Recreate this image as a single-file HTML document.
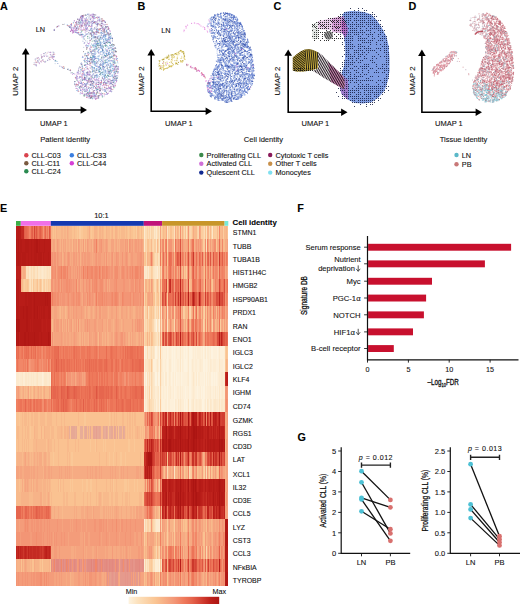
<!DOCTYPE html><html><head><meta charset="utf-8"><style>html,body{margin:0;padding:0;background:#fff;}svg{display:block;}text{font-family:"Liberation Sans", sans-serif;fill:#111;stroke:#111;stroke-width:0.1px;}</style></head><body>
<svg width="520" height="604" viewBox="0 0 520 604">
<rect width="520" height="604" fill="#fff"/>
<text x="0" y="9.7" font-size="10.8" font-weight="bold" style="fill:#000">A</text>
<text x="137.5" y="9.8" font-size="10.8" font-weight="bold" style="fill:#000">B</text>
<text x="273.6" y="10" font-size="10.8" font-weight="bold" style="fill:#000">C</text>
<text x="408.6" y="9.8" font-size="10.8" font-weight="bold" style="fill:#000">D</text>
<text x="0" y="212" font-size="10.8" font-weight="bold" style="fill:#000">E</text>
<text x="297.3" y="212.2" font-size="10.8" font-weight="bold" style="fill:#000">F</text>
<text x="297.6" y="440.5" font-size="10.8" font-weight="bold" style="fill:#000">G</text>
<path d="M85.3 26.1h0M84.5 83.6h0M102.8 50h0M89.9 78.5h0M92.7 70.5h0M109.8 37.7h0M88.6 88.4h0M103.3 57.6h0M89 22h0M76.8 21.9h0M100 90.9h0M114.1 80.7h0M86.6 60.5h0M96.7 41.3h0M90.6 57.6h0M85 75.5h0M114.5 62.4h0M111.8 52.3h0M81.1 22.6h0M84.4 78.7h0M74.6 83.9h0M110.4 47.1h0M86.5 17.8h0M82.4 20.9h0M110 63.6h0M103.4 33h0M106.1 56.6h0M79.5 77h0M109.7 57.1h0M91.5 25.2h0M113.4 54h0M102.5 49.4h0M102.7 29.1h0M113.8 66.7h0M105 90.6h0M91.9 28.6h0M94.4 16.6h0M100.6 44.2h0M91.1 28.4h0M80.5 22.2h0M108.1 58.3h0M86.3 25.4h0M74.7 30.9h0M95.8 31.8h0M93.5 81.9h0M93.9 22.6h0M108.1 73.3h0M105.2 21.9h0M90.8 30.1h0M108.2 73h0M105.8 91.6h0M101.5 80.3h0M107.5 83h0M100.8 83.8h0M92.9 50.1h0M116.1 69.8h0M110.7 53.5h0M83.8 84.6h0M99.4 66.4h0M98.7 71.9h0M89.6 21.9h0M104.7 34h0M81.9 78h0M112.9 58.2h0M81.9 16.4h0M82 23.8h0M81.1 25.5h0M104.3 30.1h0M99.5 74.3h0M82.4 71.7h0M94.6 36.3h0M89.4 38h0M96.2 85.7h0M86.7 87.6h0M98.2 56.1h0M93.8 92.6h0M98.6 43.4h0M93.8 60.9h0M75.4 26.6h0M94.2 32.7h0M104.1 35.6h0M79.8 88.5h0M104.6 35.1h0M100.2 52.2h0M90.4 57.3h0M103.9 82.7h0M89.6 30.5h0M84.1 89.5h0M85.3 53.6h0M90.7 29.5h0M101.4 34.8h0M110.6 38.7h0M97.9 20h0M91 29.6h0M91.2 61.8h0M96.6 32.7h0M87.7 14.4h0M106 42.6h0M114.8 71.4h0M99.4 19.7h0M113.3 64h0M84.3 79.1h0M114.6 63.5h0M90.4 88.1h0M84.6 79.9h0M89.1 87.8h0M77.3 72.1h0M94.2 33.1h0M84.9 89h0M89.4 61.2h0M103.2 69.5h0M89.5 25.5h0M87.9 33.9h0M103.5 41.1h0M88 74.6h0M99.5 71.6h0M104.3 54.8h0M81.9 87.3h0M101.8 35.4h0M110.5 38.5h0M100.9 32.4h0M92.2 76h0M93.8 93.4h0M91.5 34.5h0M108.1 38.9h0M94.6 21.5h0M97.8 43.6h0M95.7 23.3h0M103.2 32.9h0M83.7 90h0M106 85h0M109.9 48.2h0M99.4 90.3h0M116.3 56.9h0M100.4 45.6h0M113.2 76.1h0M96.1 49.4h0M105.7 27.8h0M100.3 25.1h0M91.3 61h0M94.2 49.7h0M90.9 30.2h0M88.2 22.1h0M104.3 29.3h0M109.2 52.7h0M84.2 43.2h0M82.9 34.7h0M114.3 72.7h0M106.4 34.6h0M101 64.2h0M77.9 33h0M115.5 47.8h0M90.9 28.3h0M98.9 86.5h0M82.1 17.9h0M88.7 21.2h0M105.8 90.1h0M105.4 40h0M104.8 77.8h0M115.8 51.3h0M92.5 30.2h0M111.1 76h0M104.1 28.2h0M86.6 76.8h0M91 81.4h0M114.3 61.6h0M105.1 35.3h0M92.6 23.3h0M81.6 83.5h0M100.3 61.7h0M87.2 95.1h0M111.8 71h0M96.6 30.9h0M118.1 71.7h0M118.2 67h0M81.9 25.3h0M98.3 82.3h0M97.6 61.5h0M80.3 71h0M114.1 74.1h0M101.9 21h0M94.1 55.3h0M94.1 56.6h0M107.9 69.7h0M74.7 81.8h0M90.1 40.2h0M88.9 64.5h0M106.8 41.9h0M111.4 91.7h0M81.2 87.1h0M92.1 31.5h0M94.7 97.9h0M112.5 44h0M96.2 66.4h0M86 15.3h0M87.5 57.2h0M105.4 70h0M97.8 31.9h0M108.6 35h0M81.6 20.4h0M92.1 62.8h0M104.4 76h0M85.4 64.7h0M87.8 24h0M76.8 32.3h0M98.2 38.9h0M116.8 80.3h0M77.8 26.5h0M84.3 36.2h0M115.4 80.3h0M106.7 40.5h0M82.2 66.7h0M87.8 55.6h0M96.5 75.9h0M92.9 67.9h0M103 72.2h0M82.9 34.8h0M83.3 87.8h0M88.1 92.7h0M115.8 67.8h0M97 31h0M107.7 51.3h0M109.7 39.2h0M104.5 43.1h0M93.4 16.3h0M79.8 23.2h0M97.8 51.7h0M110.4 43.4h0M75.2 26h0M107.9 75.6h0M110.7 76.3h0M84.8 23.8h0M101.2 80.5h0M98.6 98.2h0M88.8 78.7h0M102.9 60h0M90.7 19.1h0M108.1 73.4h0M92.4 16.7h0M111.2 72.6h0M108.4 48.4h0M97.5 23.3h0M112.4 40.9h0M89.2 87.5h0M109.2 58.8h0M118.2 69.1h0M85.2 35.7h0M116.3 75.9h0M98.3 84.4h0M101.4 21.3h0M79.7 19.6h0M102.3 45.1h0M106.6 53.9h0M96.4 90.6h0M114.5 76.7h0M89.8 79.7h0M105.6 62.6h0M109.9 66.6h0M99.8 71.3h0M88.1 94h0M102.5 33.3h0M106.3 31.2h0M107.2 59.6h0M115.6 51.7h0M116.4 59.3h0M98.6 17.4h0M80.6 17.2h0M98.8 23.3h0M74.9 81.6h0M96.2 43.9h0M111.4 44.9h0M81.6 19.3h0M101.1 82.8h0M116.2 66.5h0M97.7 28.8h0M103.9 66.7h0M95 28.9h0M84.6 86.7h0M104.3 55.6h0M105.8 36.2h0M87 72.4h0M101.1 46.7h0M79 68h0M89.6 74.3h0M73.6 22.8h0M80.9 34.3h0M102.6 50.1h0M108.8 33.2h0M92.8 31.8h0M97.9 32h0M92.2 21.5h0M95.9 53h0M93.1 74.1h0M91.2 33.2h0M94.9 69.1h0M99.8 45.5h0M102.2 27.6h0M113.3 61.9h0M94.3 67.7h0M81.6 82.4h0M91.2 96.9h0M83.3 36.8h0M85.6 21h0M86.1 28.4h0M101.5 48.6h0M112.5 38.5h0M90.2 97.8h0M81.2 16.5h0M110.6 90.6h0M101.4 93.1h0M107.1 55.4h0M84.7 77.6h0M97.4 48.1h0M102.2 88h0M90 74.2h0M116.6 80.3h0M90.1 98.4h0M104.3 30.3h0M100.7 42.4h0M86.9 95.8h0M96.3 24.4h0M88.1 24.8h0M110.9 83.1h0M97.6 24.4h0M102.2 95.1h0M102.3 96h0M86 22h0M96.6 58.3h0M94.4 59.6h0M115.6 72h0M116.8 78.4h0M99.2 76.7h0M95.5 46.6h0M107.3 46h0M106.9 88.6h0M96.5 63.2h0M100.7 63.6h0M97.8 79.9h0M81.9 15.8h0M82.7 17.2h0M84.4 94.1h0M99.2 19.9h0M87.4 27.5h0M92.7 21.7h0M100.4 68.7h0M91.7 38.3h0M106.7 30.1h0M94.2 86.3h0M71.5 24.7h0M112.8 80.7h0M76.5 27.9h0M70.4 26.9h0M86.3 72.8h0M95.6 17.8h0M93.5 91.1h0M87.4 71.9h0M113.1 84.9h0M92.6 62.6h0M93.7 53.8h0M95.6 41.7h0M106.3 40.4h0M96.7 75.9h0M94.6 77.2h0M90 93.9h0M101.2 33.5h0M78.8 34.2h0M89.4 74.4h0M98.5 67.1h0M104.4 81.7h0M107.3 32.4h0M99.2 95.4h0M80.8 21.7h0M96.3 83.4h0M86.6 29.1h0M85 20.4h0M113.1 63.8h0M102.7 50.6h0M92 93.4h0M102.1 54.8h0M93 62.7h0M104.3 30h0M92.6 71.4h0M109.7 56.6h0M105.8 70.7h0M108.8 65.3h0M103.1 56.7h0M55.2 60.5h0M68.2 69.1h0M59.8 66.1h0M73.6 73.5h0M57.8 63.5h0M62.5 67.7h0M68.8 26.3h0M69.6 26.8h0M54.3 30.1h0M68.9 26.1h0" stroke="#5070b8" stroke-width="1.2" stroke-linecap="round" stroke-opacity="0.62" fill="none"/>
<path d="M95.7 44.7h0M106.9 62.6h0M103.5 64.5h0M98.3 35.8h0M107.3 59.1h0M95.5 58.3h0M103.4 52.2h0M110.3 74.2h0M101.7 75h0M100.2 67.2h0M102.4 72.9h0M101.6 39.1h0M104 39.7h0M106.7 38.6h0M102 45.8h0M99.7 35.8h0M104.2 51.7h0M98.7 66.7h0M98.8 60.6h0M97 43.4h0M106 53.3h0M104.3 36.1h0M102.8 68.5h0M104.4 67.5h0M104.8 37.4h0M103.4 59h0M99.3 72.1h0M100.1 42.4h0M108 61.7h0M110.8 67.4h0M110.6 42h0M110.3 58.6h0M96.3 66h0M93.5 37.7h0M94.8 72.3h0M107.2 41h0M98 43.2h0M96 36.5h0M101.7 62.1h0M94 38.8h0M94.7 51.6h0M93.7 56.3h0M93 69h0M101.8 45.2h0M94.6 63.9h0M109.6 71.8h0M100.6 43.4h0M105.1 60.7h0M102.7 42.3h0M92.8 69.7h0M100.6 42.8h0M112.3 75.1h0M95 52.2h0M104.4 45.3h0M98.5 52.4h0M105.4 71.7h0M100.9 37.4h0M111.2 70.8h0M105 63.6h0M102.9 74.3h0M104.8 67.5h0M98.1 68.1h0M111.2 61.1h0M98.8 58h0M101.3 59.6h0M92 76.3h0M101.5 57.6h0M105.8 59.5h0M92.8 57.3h0M95 40.8h0M92.8 74.6h0M112.1 60.4h0M110.1 57.9h0M112.6 70.6h0M98.4 50.5h0M108.5 71.6h0M100.8 54.3h0M112.7 65h0M100.4 59.1h0M92.5 55.7h0M109.4 54h0M104.9 43.2h0M104.4 37h0M112.2 75h0M103.5 36.7h0M97.6 40.9h0M108.2 52.6h0M102.9 71.5h0M110.2 62.1h0M106.4 77.5h0M97.5 69.1h0M110.2 54.2h0M100.2 67.7h0M101.6 69.9h0M102.3 37.9h0M94.1 75.3h0M101.3 47.9h0M108.1 54.2h0M98 56.6h0M97.2 41.3h0M107.7 63.8h0M93.5 47.2h0M98.2 63.2h0M104 58.8h0M98 51.7h0M96.2 46.6h0M108.3 61.6h0M107 53.7h0M93.6 55.5h0M99.5 43.3h0M109.3 42.5h0M102.5 61.6h0M105.5 72.6h0M92.2 37.8h0M105.3 71h0M99.3 49.7h0M112.7 56.4h0M94 61.6h0M108.7 35.9h0M92.9 35.4h0M99.2 66.1h0M111.4 71.8h0M103.8 64.7h0M104.3 52.9h0M106.5 50.7h0M96.8 75.2h0M111.8 45.3h0M99.6 66.6h0M98.7 60.9h0M94.6 75.9h0M96.2 74.9h0M92.8 77.8h0M97.5 76.6h0M108.1 63.3h0M92.9 36.3h0M112.1 75.3h0M98 63.2h0M109 49h0M94.7 77.4h0M105.1 70.7h0M100.1 59.3h0M102.6 48.1h0M104.5 63.4h0M95.1 42.1h0M109.5 50.8h0M100.4 75.1h0M95.9 62.2h0M110.6 36.4h0M105.3 48.7h0M92.9 61.7h0M93.9 57.6h0M105.7 39.1h0M108.2 61.4h0M93.8 47.5h0M103.1 53.7h0M105.4 50.1h0M96.4 66.3h0M110.4 66.5h0M96.2 72.1h0M102.3 64.3h0M112.7 77.9h0M100.8 41.5h0M104.9 74.6h0M97.9 36.5h0M100.1 35.4h0M101.2 72.3h0M111.4 35.8h0M110.4 69.6h0M103.9 70.6h0M94.9 64.9h0M102.5 46.3h0M111.9 70.7h0" stroke="#8ab0e0" stroke-width="1.2" stroke-linecap="round" stroke-opacity="0.62" fill="none"/>
<path d="M90.2 84.5h0M87 89.5h0M82.4 84.7h0M109 83.8h0M89.1 94.9h0M90.7 88.4h0M114.2 83.9h0M76.7 75.7h0M80.8 90.7h0M101 89.5h0M84.7 83.9h0M109.7 84.1h0M109.3 79.3h0M105.4 80.3h0M93.6 95.8h0M94.6 90.5h0M90.9 79.9h0M92.1 89.6h0M84.2 73.9h0M105.8 94.3h0M87.2 93.3h0M110 91.4h0M104.9 89.6h0M91.9 79h0M97.6 92.5h0M104.4 87h0M79.2 77.9h0M78.5 85h0M114.2 83.5h0M99.5 82.8h0M93.2 81.6h0M91.2 85.4h0M110.4 80.2h0M79.1 73.7h0M91.2 96.9h0M78.7 71.7h0M78.3 90h0M91.3 85.5h0M112.3 82.3h0M95.3 95.8h0M99 87.8h0M87.1 80.5h0M76.8 76.7h0M104.6 89.3h0M80.9 81.5h0M110.8 80.8h0M110.3 83.8h0M108.8 87.1h0M110.8 88.6h0M114 78h0M100.1 86.2h0M88.3 96.4h0M110.6 83h0M82.2 74.9h0M88.2 69.5h0M92.4 94h0M78.3 72.9h0M89.5 96.2h0M84.7 70.3h0M95.4 80.1h0M106.3 79.7h0M83.5 79.4h0M109.7 87.7h0M107.8 80.7h0M87.2 95.9h0M109.7 81.3h0M88.1 74.4h0M94.5 93.7h0M82.8 85.5h0M85.9 79.3h0M77.3 72.7h0M98.7 97.5h0M86.3 93.7h0M96.6 78.9h0M94.1 92.9h0M96.1 98.7h0M105.1 87.8h0M78.1 84.6h0M92.2 81h0M87.6 81.2h0M87.5 89.2h0M91 79h0M82 83.5h0M91.3 81.6h0M105.3 82.3h0M76.4 84h0M115.5 83.1h0M92.3 83.5h0M86.5 89.1h0M86.4 80.7h0M100 87.5h0M109.9 82.6h0M93.7 78.5h0M108.6 87.7h0M86.9 89.9h0M111.3 83.6h0M82.7 76.8h0M95.7 95.8h0M111.7 89.3h0M108.2 81.5h0M98.1 81h0M98.6 84.7h0M93.3 97.8h0M85.5 84.8h0M96.1 94h0M82.5 79.8h0M93.3 88.2h0M94.3 82.1h0M95.9 88.6h0M96.2 95.9h0M77.3 78.1h0M89.3 75.4h0M108 80.2h0M114.3 78.3h0M112.5 82.5h0M106.1 83.3h0M96.1 82.1h0M79.8 86.6h0M101.2 80.2h0M93.9 86h0M77.6 88.9h0M85.2 78.8h0M80.7 72.9h0M83.3 71.4h0M104.7 78.2h0M111.4 88.9h0M78.6 69h0M96.6 79.9h0M103.2 78.9h0M79 78.2h0M78.9 83.4h0M113 80.2h0M91.7 92.5h0M103.4 78.8h0M77.4 79h0M84.4 65.4h0M96 79.9h0M109.6 88.1h0M82.9 79.8h0M107.8 93.6h0M93.4 85.2h0M103.4 82.9h0" stroke="#9a70c8" stroke-width="1.2" stroke-linecap="round" stroke-opacity="0.62" fill="none"/>
<path d="M100.2 95h0M107.7 88.7h0M116.1 58.7h0M91.2 66h0M91 14.7h0M90.3 19.4h0M110.7 88.3h0M87.1 22.2h0M91.5 78.1h0M97.4 89.8h0M80.8 92.6h0M87.3 90.6h0M82 77.7h0M92.7 95.8h0M81.5 18.7h0M82.4 20.4h0M75.3 29.5h0M76.3 30.7h0M108.1 93.5h0M94.1 92.6h0M112.2 80.7h0M83.3 74.9h0M82.3 91h0M94.9 21.8h0M86.8 86.6h0M108.3 27.6h0M101.5 81.5h0M93.3 18.3h0M87.2 68.8h0M109.3 88h0M87.2 61.9h0M80.3 18h0M76.5 88.3h0M93.6 14.4h0M87.6 64.5h0M116.2 55.9h0M103.7 30h0M94.8 95.9h0M90.1 67.8h0M114.8 66.8h0M90.7 95.3h0M84.3 25.6h0M95.5 99.3h0M84.9 90.8h0M77.1 74.1h0M100.7 28.6h0M81.2 16.7h0M110.7 87h0M83.3 70.3h0M110 91.2h0M88.4 43.7h0M82.8 56.3h0M86.2 24.9h0M85.4 77.8h0M90.2 59.6h0M70.8 24.7h0M82.5 78h0M94 22.8h0M82.4 19.1h0M90 97.2h0M114 54h0M81.1 28h0M90.2 81.6h0M87.4 74.7h0M101.2 83.2h0M74.4 20.7h0M109.5 88.4h0M87.8 53.2h0M96.7 17.5h0M115.7 55.3h0M82.4 15.8h0M90 65.4h0M91.7 83h0M97.6 84.5h0M84.6 94.6h0M86.6 29.1h0M86 18.8h0M80.4 67.5h0M83.3 29.9h0M75.7 22.5h0M104.3 94.8h0M92.2 16.8h0M89.1 71.2h0M111.1 86.4h0M80.7 89.7h0M104.3 21.2h0M87.1 23.4h0M76.3 29.6h0M76.7 24.9h0M78.9 19.7h0M116.5 81h0M97.1 25h0M81.2 35.4h0M116.5 81.7h0M99.3 20.8h0M85.5 86.4h0M89.1 82.4h0M108.4 28.9h0M82.1 36.9h0M73.6 29.8h0M86.1 94.7h0M99.3 81h0M97.6 91.5h0M85.9 27.3h0M82.5 89.2h0M104.5 82.3h0M86 45.4h0M94.8 34.6h0M113.4 86.4h0M87.5 23h0M82.9 68h0M78.7 21.8h0M88.5 26h0M89.6 93.5h0M113.2 48.3h0M87.5 28.6h0M76.1 84h0M93.7 32.9h0M118.4 69.1h0M115.5 85.1h0M107.4 93.9h0M97.9 23.6h0M85.5 85.2h0M97.2 87.6h0M114.7 70.1h0M80.7 85.9h0M112 80.7h0M76.7 21.4h0M82.7 89.5h0M98.6 80.1h0M114.6 69.1h0M90.3 49.5h0M115.2 66.4h0M85.5 65.5h0M99.8 90.9h0M88.9 80h0M95.3 84.1h0M74.8 28.1h0M108.5 81.9h0M76.5 78.9h0M86.3 26.4h0M86 74.8h0M114 85.5h0M86 91.6h0M82 84h0M90.6 15.4h0M87 66.7h0M100.4 93.7h0M94.4 18.2h0M96.9 96.9h0M71.8 27.3h0M114.7 75.6h0M81.2 24.9h0M91.5 22.1h0M117.9 68.3h0M82 15.8h0M104 28.1h0M106.6 85.7h0M116.4 79h0M95.3 88.1h0M87.3 93.2h0M82.9 23.6h0M110.2 31.2h0M85.4 20h0M109.9 79.1h0M76 78.2h0M115 78.9h0M79.5 26.3h0M84.8 86.5h0M85.2 32.1h0M115.2 67.6h0M108.6 82h0M75.7 77.8h0M96 98.8h0M84.3 18.8h0M94.3 79.1h0M71.8 28.7h0M106.4 83.3h0M91.7 95.7h0M93.8 22.2h0M81.9 29.6h0M94.9 80h0M87 80.4h0M101.4 26.4h0M97.5 20.9h0M100 20.3h0M82.7 93.6h0M88.1 43.5h0M105.1 85h0M75.9 86.1h0M89.3 71.8h0M93.3 17.6h0M91.4 26.8h0M76.1 28.2h0M77.4 76.6h0M86.7 97.3h0M99.2 87.5h0M89.9 74.3h0M94.2 17.9h0M98.8 78.3h0M82 75.1h0M95.6 98h0M83.6 27.9h0M87 83.7h0M84.3 79h0M102.7 85.7h0M90.3 84.2h0M88 73.6h0M103.1 24.7h0M90.8 26.5h0M80.6 83.3h0M94.3 96.6h0M95.1 34.2h0M87.5 64h0M79.9 76.4h0M90.7 93.2h0M78.5 82.2h0M103.9 84.9h0M90.2 85.1h0M77.9 81h0M83.9 22.2h0M98.1 32.2h0M98.4 84.6h0M104.9 29.6h0M83.4 72.9h0M113.4 82.5h0M77.7 32.7h0M83.4 16.6h0M81.7 93.5h0M99.1 16.9h0M93 15.3h0M90.6 92.5h0M87.1 72.8h0M117.8 73.2h0M101.3 94.6h0M53.6 59.4h0M74.8 74h0M72.6 74.2h0M58.8 25.8h0" stroke="#b050c0" stroke-width="1.2" stroke-linecap="round" stroke-opacity="0.62" fill="none"/>
<path d="M111.6 38.1h0M100.8 45.3h0M105.2 38h0M96.4 89.4h0M78.1 33.1h0M112.3 66.2h0M103.6 35.7h0M80.4 83.2h0M94.8 43.8h0M81.2 63.8h0M113.8 49.4h0M105.8 35.2h0M107.1 66.4h0M105.9 39.4h0M94.8 53.2h0M98.3 44.3h0M110.4 37.8h0M82.4 57.2h0M94.1 67.5h0M82.7 34.6h0M88.6 93.2h0M100.6 73.5h0M95.1 63.5h0M92.6 45.3h0M97.2 45.3h0M108.4 60.5h0M84.7 62h0M113.7 49.7h0M112.7 52.9h0M96.5 68.5h0M99.9 45.1h0M94.8 46.2h0M94.1 45.7h0M94.2 40.7h0M100.3 47.2h0M98.2 70.4h0M98.3 30.7h0M94.3 68.5h0M85.9 77.9h0M92.5 85.7h0M87.2 83.7h0M111 83.3h0M100.4 37.9h0M106.6 30.8h0M101.1 43.2h0M110.8 70.3h0M112.6 80h0M95 48.6h0M103 47h0M103.7 43.5h0M108.8 47h0M110.2 67.8h0M112.7 61.1h0M93.9 59.7h0M92.7 58.5h0M84.7 76.1h0M109 37.6h0M99.2 71.6h0M111.9 55.1h0M116.4 71h0M86.7 91.1h0M104.2 69h0M80.2 93.8h0M109.8 54.4h0M105.1 38.5h0M109 42.6h0M99.3 55.9h0M88.1 78h0M97.7 58.3h0M112.1 75.1h0M93.6 56.4h0M86 33.9h0M101.3 30.5h0M81.3 32.2h0M111.1 56.3h0M94.5 56.7h0M110.7 63.7h0M89.2 91.6h0M105.4 74.7h0M77.4 30.2h0M111.3 65.6h0M104.1 71h0M117.5 61.8h0M92 97h0M95.4 61.9h0M84.1 74.2h0M77.2 86.1h0M100.5 67.9h0M93 44.8h0M112.4 68.4h0M105 41.5h0M107.6 34.1h0M80.4 34.9h0M101 38.9h0M97.8 89.4h0M112.8 76.3h0M100.8 84.6h0M87.4 58.1h0M102.3 77.1h0M111.8 64.7h0M108.1 64.6h0M95.7 56.9h0M112.2 56.5h0M90.8 84.4h0M114 72.3h0M110.9 66.6h0M104.2 72.8h0M82.2 79.7h0M97.2 43.7h0M102.7 48.8h0M95 70.9h0M104 73.9h0M109.9 36.7h0M87.1 73.5h0M104.9 75.3h0M108.9 52.4h0M114.2 81.8h0M101.3 72.9h0M99.8 64.5h0M111.1 50.3h0M103.5 39.4h0M103.2 36.7h0M86.2 85h0M98.2 70.2h0M87.3 68.5h0M110.5 33.4h0M80.3 77.4h0M115.8 77.1h0M97 74.6h0M89.5 89.9h0M109 69.6h0M102.7 74.4h0M95.7 75.8h0M103.3 66.2h0M112.5 53h0M92.3 66.6h0M116.4 65.3h0M104.6 76.5h0M109.3 42.4h0M92.4 98.7h0M87.4 45.5h0M81.8 69.8h0M85.9 84h0M105.9 71.6h0M106 82.4h0M104.6 77.8h0M99.8 39.3h0M104.2 67.5h0M99.6 40.4h0M113.8 81.5h0M82.3 65.9h0M93.4 36.9h0M109 72h0M96.6 48.1h0M96.3 40.2h0M89.8 91.1h0M109.9 34h0M103.2 50.3h0M103.6 63.1h0M85 91.6h0M97.2 30.1h0M109.6 54.8h0M91.6 44h0M106.5 76.5h0M114.7 86.8h0M88.6 45.9h0M102.5 65.9h0M101 65.1h0M106.4 51.2h0M93.6 45.2h0M102 51.7h0M84.8 60.7h0M109.2 76.4h0M92.6 56.9h0M104.9 43.6h0M107.1 62.3h0M107.8 39.6h0M93.4 34.7h0M103.5 63.9h0M101.3 72.5h0M80.4 86.4h0M89.6 95.6h0M93.6 94h0M112.3 48.5h0M109.6 45.4h0M106.3 53.6h0M98.4 60h0M101.5 32.5h0M100.1 37.2h0M101.5 47h0M95.7 64.8h0M106.2 73.2h0M96.2 94.4h0M107.4 77.8h0M84.2 60.2h0M104 76h0M112.4 49.4h0M94.5 57.4h0M87.2 46.9h0M108.5 53.7h0M86.2 62.6h0M100 68.2h0M98.2 36.9h0M117.4 58.5h0M103.7 52.9h0M109.8 60.6h0M102.9 37.5h0M108.7 39.5h0M109 72.9h0M113.6 77.7h0M93.3 82.1h0M104.5 55.4h0M103.6 43.2h0M96.8 86.4h0M98.4 50.2h0M106.4 64.8h0M84.9 54.2h0M103.8 41.1h0M88.6 58.4h0M102.4 67.6h0M103.9 89.8h0M82.2 34.2h0M105.6 55.7h0M79.2 87.4h0M112.9 69.8h0M98.4 58.9h0M106.7 31.8h0M92.5 59.1h0M86.5 56.3h0M106 45.4h0M86.9 83.4h0M93 53.6h0M90.2 93.1h0M99.4 67h0M92.3 67.5h0M102.8 63.7h0M114.8 61h0M110.4 65.1h0M113.8 79.5h0M104.5 32.8h0M93.5 60.2h0M83 57.5h0M101.2 69.7h0M95.2 54.4h0M95 37.4h0M94.4 95.7h0M112.4 38.5h0M88.6 61.2h0M97.9 43.1h0M93.4 87.2h0M83.9 72.1h0M106.2 82.8h0M112 47h0M96.9 77.4h0M85.3 79.4h0M80.8 90.4h0M105.5 36.3h0M84.3 74.6h0M93.9 57h0M94.4 62.6h0M105.7 61.8h0M92.6 72h0M95.6 37.1h0M101.5 60.5h0M99.3 69.5h0M106.5 62.3h0M107.1 68.4h0M95.2 58.5h0M95.3 45.8h0M95.1 65.5h0M116.6 71.2h0M77.9 90.8h0M97.1 30.2h0M108.2 42.1h0M76.3 77.7h0M114.2 50.6h0M95.4 58.7h0M113.8 45h0M106.7 94.1h0M80.7 69.3h0M91.3 52.4h0M75.7 32.5h0M117.1 78.3h0M113.1 46.4h0M100.9 51.7h0M97.9 75.6h0M88.7 52.6h0M108.7 75.4h0M104.8 55.7h0M106.5 54.8h0M104.8 91.5h0M90.8 57.3h0M103.3 76h0M94.1 94.3h0M106.2 60.2h0M92.9 57.4h0M92.1 58.8h0M97.1 77.5h0M103.3 62.2h0M102.4 50.7h0M92.4 51.2h0M76.8 90.5h0M110 57h0M117.9 72.1h0M113.4 68.9h0M85.8 67.4h0M95.2 54.6h0M87.6 59.8h0M96.2 45h0M102.6 65.1h0M96.4 69.7h0M109.6 71.7h0M83.3 38.8h0M117.3 58.6h0M106.1 45.1h0M109.4 61h0M106.9 47h0M104.1 79.7h0M98 49h0M93.1 64h0M100.9 38.9h0M64.4 68.3h0M55.1 61.1h0M54 56.4h0M57 61.5h0M67.3 24.9h0" stroke="#4a90d0" stroke-width="1.2" stroke-linecap="round" stroke-opacity="0.62" fill="none"/>
<path d="M91.7 39h0M94.3 61.6h0M99.9 71.3h0M105.3 83.5h0M97.9 89.4h0M107.8 74.9h0M91.8 66.8h0M107.5 43h0M99.3 70h0M100.3 74.4h0M98.9 39.8h0M85 91.1h0M109.2 42.1h0M91.3 57.7h0M88 52.2h0M85.3 86h0M86.7 75.5h0M103.1 46h0M97.8 93h0M111.7 57.5h0M77 80.3h0M105.4 46.3h0M112.1 49.4h0M115.7 62.9h0M103.3 47h0M92.9 55.9h0M102.4 96.9h0M87.6 92.6h0M110.5 70.9h0M105 60.7h0M87.8 38.2h0M87.5 36.4h0M82.6 80.2h0M90.6 57h0M113.1 51.1h0M94.9 49.9h0M110.6 33.9h0M99.7 41.8h0M97.2 92h0M93 46.1h0M100.8 88.5h0M102.2 72.6h0M107.4 75.7h0M88.9 95.8h0M114.6 54.9h0M92.2 41.1h0M110.5 33.9h0M109.1 70.6h0M90.1 34.7h0M101.7 57.2h0M92.8 60.9h0M84.5 65.2h0M96.9 44.3h0M87.4 63.4h0M92.8 77.5h0M79.3 87.1h0M110.1 57.7h0M100.8 68.2h0M92 53.7h0M82.3 68.1h0M108.3 79h0M113.8 60.2h0M109.2 42.6h0M86.1 94.1h0M111.6 80.6h0M81.8 31.2h0M105.7 55.7h0M93.7 71h0M113.7 82.5h0M116.4 71.7h0M113.8 87.7h0M105.4 45.2h0M114.9 78.3h0M104.3 31.7h0M90.4 51.3h0M113.2 62.5h0M91.9 97.8h0M106.2 45.5h0M105.8 77h0M83.7 95.1h0M104.9 62.3h0M84.8 95.7h0M98.7 45.7h0M96.9 44.6h0M96.2 48.5h0M96.5 46.9h0M97.2 42.6h0M115.9 51h0M116.1 78.9h0M88.4 81h0M111.8 44.8h0M91.7 30.8h0M90.3 85.1h0M55.7 60.3h0M72.1 72.6h0M57.4 26.3h0" stroke="#3a9070" stroke-width="1.2" stroke-linecap="round" stroke-opacity="0.62" fill="none"/>
<path d="M81.4 62.7h0M77.7 23.2h0M86.5 44.6h0M75.6 26.2h0M96.9 34.6h0M94.6 18.7h0M80.8 63.7h0M81.8 19.5h0M77.6 27.1h0M115.6 75.5h0M91.9 60.7h0M90 72.1h0M85.5 40.7h0M108 32.3h0M93.4 33.4h0M118 63h0M89.3 33.6h0M115.8 77.6h0M100.2 21.6h0M83.9 60.5h0M90.8 49.6h0M114.3 69.8h0M97.3 16.5h0M90.9 71.6h0M86.4 20.4h0M97.5 25h0M78.4 22h0M89.3 24.9h0M107.3 26.8h0M74.3 27.8h0M81.6 16.9h0M104.7 32.2h0M89.2 18.8h0M115.1 72.9h0M87.5 60.7h0M86.5 24.8h0M98.9 20h0M97.4 26.6h0M81.7 22h0M91.5 54.4h0M82.9 41.1h0M91 55.5h0M75.2 32.2h0M90 17.5h0M90.7 68.3h0M79.6 21.8h0M93.4 14.5h0M85.4 24.9h0M97.7 17.1h0M81.3 19.1h0M71.6 28.2h0M88 13.9h0M82.3 26.4h0M94.5 22.2h0M83.7 47.4h0M90.9 72.4h0M95.2 33.8h0M118.1 66.8h0M98.2 29.6h0M72.9 27.3h0M106.5 34.2h0M118 76h0M80.6 19.2h0M94.8 28.3h0M78.4 23.1h0M90.7 29.8h0M88.3 21.1h0M118 72.5h0M90.4 62.5h0M113.9 66.1h0M113.1 50h0M87.9 16.4h0M117.1 76h0M114.8 60.8h0M103.3 26.4h0M85.6 22.4h0M90.3 45.5h0M90.8 45.9h0M102.5 23.6h0M84.4 21.6h0M87.9 23.8h0M99.3 21.6h0M114.8 51h0M71.4 24.9h0M79.7 22.3h0M87.4 33.8h0M83.7 37.3h0M85 25.5h0M107.6 26.3h0M99.7 29.2h0M86.5 64.7h0M104.4 24.5h0M86.5 18.9h0M89.9 22.7h0M88.8 36.3h0M87.1 41.1h0M113.6 52.6h0M88 19h0M73.3 22.3h0M102.9 26.9h0M114 69.6h0M70.6 24.3h0M96.5 30.4h0M74.2 21.1h0M94.5 28.2h0M89.9 37.5h0M100 19.4h0M85 58.6h0M90.1 40.4h0M99.9 18.4h0M85.5 15.2h0M78.6 28.1h0M77.2 25.2h0M90 15.1h0M78.9 28.2h0M80.1 23.6h0M98.7 32.3h0M101 24.5h0M93.4 21h0M113.4 58.4h0M87.4 42.7h0M83 41.5h0M94.1 33.6h0M85.1 18.3h0M85.8 53.4h0M89.6 23h0M91 30.4h0M89.5 53.7h0M80.7 26.7h0M86.7 47.3h0M87.5 60.1h0M91.6 67h0M99.7 18.1h0M88.5 15.1h0M100.3 33.2h0M115.7 52.2h0M86 45.6h0M88.8 17.7h0M68.7 69.8h0M55.1 63.6h0M55.6 61.2h0M76.2 76.2h0M70.7 28.4h0M64.5 24.2h0M62.9 24.4h0M58.7 26.2h0" stroke="#a8b8d8" stroke-width="1.2" stroke-linecap="round" stroke-opacity="0.62" fill="none"/>
<path d="M93.2 20.5h0M80.2 32.7h0M82.4 16.5h0M92 26.7h0M96.3 34.2h0M88.1 54.1h0M95.1 56.7h0M91.5 39.2h0M114.9 74.7h0M96.4 75.3h0M86.2 21h0M89.7 58.4h0M102 23.6h0M111.9 51.9h0M101.4 30.7h0M73.9 27.2h0M93.1 17.7h0M106.5 26.8h0M71.1 26h0M90.9 75.7h0M103.4 67.9h0M92 59h0M85.4 58.2h0M92.1 25.4h0M106.2 49.5h0M104.6 57.4h0M89 14.2h0M97 32.6h0M107.8 70.9h0M108.1 26.6h0M107.7 49.9h0M102.2 31.3h0M79.3 18.8h0M95.8 14.9h0M95.2 47.3h0M76.7 23.8h0M91 18.5h0M105.7 26.5h0M102.6 66.3h0M94.8 76.9h0M95.2 21.7h0M113 49.5h0M87 29.2h0M97 23h0M86.6 34.3h0M81 16.1h0M73.6 28.4h0M101.9 22.5h0M80.5 24h0M103.7 34.6h0M103.5 47.1h0M83.2 20.9h0M117 68.2h0M98.8 52.9h0M87.1 30.9h0M85.4 29h0M111.8 60.7h0M104.8 21.9h0M108.7 29.1h0M71.6 25.7h0M91.6 51.6h0M77.7 18.8h0M104 32h0M101.7 65.1h0M96.7 28.8h0M96.1 32.4h0M95.4 58.4h0M86.1 46h0M98.5 53.1h0M102.8 61h0M89.5 61.9h0M108.5 38.3h0M102.5 38.6h0M95.2 38.2h0M115.8 69.8h0M77.4 27.8h0M89.2 30.7h0M89.6 48.3h0M76.3 30.2h0M108.3 54.5h0M102.4 77.5h0M108.1 34.9h0M110.5 42.4h0M103 61.3h0M90.9 22.5h0M107.6 40.3h0M92.5 61.4h0M105.9 42.6h0M97.6 36.8h0M97.3 31.9h0M114 64.9h0M96.2 43.6h0M99.4 69.1h0M115.7 51.3h0M95.5 22.2h0M104.9 25.1h0M87.4 58.3h0M108.5 37.7h0M80.4 29.9h0M99.1 69.4h0M91.8 32.7h0M80.9 27.6h0M100.1 53.9h0M105.5 44.2h0M75.7 32.3h0M71.2 24.9h0M103.6 35.8h0M94.3 58.1h0M77.7 28.1h0M85.2 28h0M86.1 34.6h0M92.4 21.1h0M89.2 43.7h0M114.6 47.8h0M95.9 36.9h0M76.6 32.8h0M90.7 46.9h0M108 57.6h0M83 22.9h0M104.8 31.6h0M105.8 24.4h0M92.2 53.6h0M108 34.7h0M90.2 33.6h0M85.7 20.8h0M81.4 26.5h0M94.5 27.6h0M95.2 71h0M87.8 23.4h0M110.8 60.5h0M75.3 26.9h0M98.9 67.2h0M95.8 51.1h0M94.5 51.2h0M89.8 23.7h0M90.8 32.8h0M83.1 22.6h0M93.8 29.2h0M109.2 73.2h0M100.2 64.9h0M75.7 24.8h0M110.5 73.4h0M102.1 37h0M97.7 45.8h0M108.7 33.7h0M78.5 28.8h0M91.2 76.4h0M84.7 42.7h0M105.2 63h0M82.9 15.6h0M109.3 28.8h0M78.8 24.5h0M82.7 24.8h0M85.1 24.7h0M96.5 60.8h0M107.8 71.9h0M103 52h0M82.8 18h0M97.6 25.7h0M114.6 59.1h0M93.8 73.7h0M105.3 66.3h0M108.5 29h0M81.3 25.8h0M97.2 65h0M81.2 64h0M93.4 50h0M93.2 19.2h0M95.9 21.6h0M94.4 59.1h0M93.9 43.8h0M94.4 54.2h0M102.2 28.5h0M85.5 19.8h0M91 52.9h0M101.3 25.7h0M102.9 63.1h0M109.6 30.7h0M109.8 71.8h0M93.6 14.1h0M87 20.4h0M82.1 64h0M82.4 22.2h0M92.7 14.3h0M110.8 69.3h0M94.7 64.1h0M102.8 23.4h0M92.3 35.3h0M89.7 42.1h0M86.2 31.1h0M92.4 23.9h0M91.4 34.2h0M91.6 23.9h0M107.5 41.6h0M109.8 40.7h0M91.9 15.6h0M101.3 28.1h0M97.1 72.6h0M84.6 24.7h0M108.4 40.9h0M118.4 66.7h0M111.4 47.7h0M92.8 55h0M97.6 29.1h0M90.7 47.8h0M108.2 29.3h0M88.8 30h0M96.1 63.5h0M92.2 14.2h0M108.1 64.5h0M103.2 69h0M101.4 23.2h0M98.8 40.5h0M97.4 66.7h0M98.9 17.8h0M106.1 52.8h0M109 36.9h0M76.5 23.8h0M110.1 33.3h0M88.5 25.9h0M92.1 75.3h0M105.8 28.5h0M100.5 47.9h0M99.3 49.2h0M87.6 61.7h0M112.2 37.7h0M87.3 23.3h0M117.1 75.5h0M90.7 51.8h0M99.8 59.8h0M102.8 23.5h0M89.8 49.9h0M114.8 74.1h0M104 20.6h0M91.1 58.1h0M95.3 43h0M107.3 50.7h0M97.2 37.8h0M83.1 17h0M53.7 57.2h0M71 72.9h0M70.6 70.7h0M61.4 66.8h0M70.4 27.3h0M56.7 27.2h0M54.3 29.4h0M54.3 30.4h0M57.4 26.6h0" stroke="#9a80c8" stroke-width="1.2" stroke-linecap="round" stroke-opacity="0.62" fill="none"/>
<path d="M116.4 51.7h0M93.8 32.1h0M82.1 30.5h0M113.9 56.1h0M98.3 32.7h0M103.3 31.2h0M84.9 55.7h0M90.6 33.6h0M105.7 34.5h0M90.2 59.8h0M113.5 44.5h0M86.8 55.5h0M91 77.1h0M90.7 71.9h0M64 67.1h0M63 24.5h0" stroke="#8a6a58" stroke-width="1.2" stroke-linecap="round" stroke-opacity="0.62" fill="none"/>
<path d="M101.5 82.2h0M76.6 84.5h0M108.6 28h0M74.8 26.4h0M78.6 32.4h0M105.7 84.2h0M94.3 33.1h0M90 63.4h0M91.3 51h0M81.4 26h0M116.7 56.6h0M90.1 40.6h0M103.9 84.6h0M78.7 29.7h0M112.8 89.5h0M89.9 80.8h0M94.6 22.6h0M98 96h0M83 15.7h0M97.1 98.4h0M89.5 92.5h0M99.2 93.1h0M97.4 18.1h0M82.7 73.7h0M113.3 70.7h0M91.2 95.9h0M114 52h0M114.4 58.8h0M84.5 68.8h0M113.5 77.3h0M100.1 89.6h0M88.7 81.2h0M84.3 79h0M80.5 87h0M78.7 91.3h0M77.4 84.6h0M107 85.3h0M96.9 17.5h0M108.3 33.1h0M105 32.2h0M88.4 54.9h0M91.3 93.2h0M100.4 82.5h0M82.7 25.9h0M71.6 23.7h0M85.9 22h0M87.1 47.8h0M79.1 28h0M82.1 68.8h0M99.7 24.7h0M91.4 96.9h0M99.7 29.9h0M108.6 85.9h0M85.9 22h0M104.1 93.6h0M77 24.7h0M102.2 20.3h0M117.2 71.2h0M82.1 70.6h0M79.7 25.8h0M82 86.3h0M79.2 82.7h0M74.5 25.1h0M88.6 94.2h0M84.7 23.8h0M93.1 91.7h0M75.6 22.8h0M91 62.8h0M92.2 17.1h0M113.7 55.7h0M83.3 82.6h0M87.2 19.8h0M96.3 84.3h0M88.5 87h0M85 59.2h0M115.2 85.8h0M91.7 47.2h0M99.2 28.9h0M84.2 78.1h0M103.2 28.8h0M94.3 86.5h0M101.1 25.7h0M103 30.1h0M98.7 29.5h0M87 97.5h0M99.2 32.8h0M113.4 64.6h0M87.7 68.4h0M102.2 18.8h0M102.1 21.3h0M103.6 20.3h0M89.8 26.2h0M103.5 84.3h0M76.3 85h0M98.2 86.6h0M107 24.4h0M96.3 93.7h0M117.1 60.4h0M81.1 76.4h0M80.7 17.6h0M96.4 31.4h0M84.2 29.7h0M104.7 87.3h0M63.2 66.7h0M63.6 68.5h0M70.5 69.8h0M75.4 77.7h0M69 25.7h0M57.4 26.6h0M67.4 25.6h0" stroke="#d05868" stroke-width="1.2" stroke-linecap="round" stroke-opacity="0.62" fill="none"/>
<path d="M78.2 81.3h0M107.9 90.6h0M110.4 90.2h0M84.9 85.7h0M93.6 93.3h0M102.8 90.5h0M90.8 79.9h0M88.3 98.1h0M93.2 90.6h0M88.3 81h0M76.5 78.3h0M109.5 87.9h0M107.5 94.1h0M75.6 88.3h0M89.6 81.2h0M85.8 83.5h0M77.7 80.9h0M99.8 83.2h0M97 80.1h0M87.7 76.8h0M96.9 79.7h0M108.4 88.5h0M97.9 98.4h0M76.4 79.4h0M82.1 74.6h0M85.3 91.2h0M78.2 72.3h0M96.9 82.3h0M85.3 85.8h0M103.4 83.5h0M108.5 92h0M106.8 85.4h0M107.2 80.1h0M89.5 72.7h0M81.4 70h0M104 96.6h0M88.3 75h0M80.5 79.7h0M111.2 81.4h0M88.2 72.8h0M89.7 70.9h0M115.1 78.5h0M82.9 79.6h0M106 84.9h0M83.7 87.6h0M96.2 82.9h0M101.1 85h0M81.2 85.6h0M75.5 86.4h0M78.8 74.3h0M98.8 88.4h0M85.1 88.8h0M112 84.5h0M111.6 89.9h0M104.5 80.9h0M80.8 74h0M86.6 78.8h0M79.6 80.8h0M90.3 98h0M88.3 82.5h0M105.2 78.6h0M114.6 79.2h0M106 89.4h0M91.6 92.4h0M99.3 83h0M111.9 91.3h0M80.8 80.6h0M85.1 77.3h0M89.7 80.8h0M88.5 97.1h0M110 81.4h0M86.6 75.4h0M87.7 68.3h0M110.9 86.2h0M91.5 95.2h0M108.7 89.1h0M79.8 88.4h0M103.2 89.2h0M105.2 90.4h0M91.4 87h0M97.3 96.8h0M97 90.7h0M106.8 92.7h0M102.5 89.7h0M101.9 95.1h0M82.3 88.8h0M77.6 91h0M87.1 80.8h0M85.8 80.2h0M87.9 90.8h0M82.3 77h0M86.7 88.9h0M85.5 90.2h0M91.5 83.8h0M88.4 84.2h0M87.5 76.8h0M89.3 74.9h0M106.1 88.5h0M81.3 80h0M86 69.3h0" stroke="#c0b0dc" stroke-width="1.2" stroke-linecap="round" stroke-opacity="0.62" fill="none"/>
<path d="M117.1 69.2h0M115.6 73.5h0M101.8 25.5h0M96.5 29.5h0M91.5 36.3h0M109.3 67.6h0M105.7 56.7h0M106.5 92.3h0M81.5 34.3h0M97.8 41.3h0M92.7 83.9h0M79.1 24h0M109.7 35h0M115.4 76.5h0M84.6 39h0M100.4 73h0M79.8 66.9h0M86.4 85h0M86.9 47.8h0M96.1 27h0M110.7 45.5h0M97.2 38.4h0M87.9 72.3h0M90.1 63.8h0M111.2 82.8h0M107.3 33.2h0M94.9 14.9h0M96.8 88.3h0M98.8 47.4h0M104.6 30h0M106.1 27.3h0M94.2 14.9h0M101.2 23.5h0M105.5 22.5h0M92.7 80.9h0M97 62.7h0M93.3 51.1h0M100.3 65.2h0M99 96h0M100.3 28.8h0M74.9 81.5h0M114.6 68.8h0M109.6 74.1h0M99.3 38.8h0M99.9 88.5h0M95.8 72.7h0M85.8 14.9h0M76.7 28.4h0M84 15.2h0M102.9 20.9h0M111.3 57.2h0M92.8 32.2h0M88 58.5h0M87.4 82.3h0M85 61.5h0M75 84.7h0M113.2 86.1h0M92.1 92.7h0M104.6 43.3h0M84.1 96.1h0M107.9 81.7h0M108.9 71.5h0M103.4 80h0M102.4 78.3h0M117.2 77.7h0M79.7 34.9h0M102.4 93.5h0M91.1 97.8h0M100.2 44.8h0M76.4 22.9h0M79.8 20.3h0M115.7 48.3h0M102.6 27h0M86.2 55.6h0M100.7 37.2h0M86 23.8h0M106.9 65.5h0M114.1 48.6h0M111 89h0M100.4 90.4h0M94 70.9h0M106.7 88.1h0M94.1 90.7h0M91 97.2h0M77.7 19.4h0M96.6 70.4h0M105.4 75.3h0M96.4 92.8h0M89.5 96h0M91.8 87.7h0M92.1 84.2h0M112.9 44.9h0M78.2 85h0M79.1 20.7h0M93.7 83h0M98.3 96.9h0M97.1 37.6h0M95.6 87.6h0M91 81.9h0M88.8 32.5h0M109.4 50.8h0M89.8 16h0M109.1 34.5h0M98.2 95.6h0M107.4 67.9h0M107.1 26.6h0M83.5 51.6h0M92.9 96.4h0M108.7 76.3h0M86.6 49.2h0M85.2 30.2h0M89.6 78h0M102.7 49.8h0M98 24.4h0M92 69h0M106.4 42.6h0M89.5 61.3h0M95.4 96.1h0M91.9 81.8h0M95.5 36.9h0M114.5 45h0M95.8 39.8h0M91.5 35.3h0M108 29.2h0M94.8 37.4h0M101.7 18.9h0M110.9 87.1h0M105.7 26.7h0M78.4 70.3h0M91 21h0M93.8 22.8h0M101.8 58.2h0M103.3 66.5h0M84.6 77.4h0M91.8 59.6h0M116 66.2h0M97.8 45.3h0M107.8 55.7h0M117 66.3h0M81.7 64.7h0M90.5 98.1h0M100.1 84.1h0M91.3 59.4h0M108.7 54h0M103.3 82.8h0M98.2 82.7h0M82.6 92h0M95.1 75.6h0M112.5 38.8h0M96.8 22h0M112.4 84.3h0M88.6 79.7h0M115.4 51.1h0M82.4 15.8h0M94.3 40.9h0M114 55.4h0M78.9 22.3h0M70 70.4h0M67.5 69.3h0M69.6 27.3h0M54.2 30h0" stroke="#605870" stroke-width="1.2" stroke-linecap="round" stroke-opacity="0.62" fill="none"/>
<path d="M39.1 62.7h0M46.7 56.3h0M43.5 53.6h0M53.1 56.7h0M44.5 62h0M35.9 62.5h0M50.8 52.5h0M50.3 54.4h0M52.2 56.9h0M41.3 62h0M50.8 57h0M44.3 56.1h0M53.3 54.1h0M46.1 55h0M42.5 60.2h0M49.8 52.4h0M42.4 56.8h0M39.4 63.6h0M36.1 64.4h0M38.4 57.6h0M41.2 54.9h0M35.9 62.6h0" stroke="#b070c0" stroke-width="1.2" stroke-linecap="round" stroke-opacity="0.62" fill="none"/>
<path d="M47.5 60.3h0M37.6 61.8h0M48.9 58.1h0M47.8 56.1h0M48.9 58.6h0M45.4 52.7h0M44 61.5h0M45.5 61.9h0M41.8 56.3h0M39.1 59.8h0M34.9 64.7h0M41.5 58.2h0M45.7 61.3h0M37.1 57.9h0M43 59.6h0M34.2 62.8h0M43.9 55.8h0M53 52.1h0M37.8 60.3h0M53.3 54.5h0M38.4 61.8h0M53.9 52.3h0M35.9 65.2h0M44.3 53.7h0M52.4 56.2h0M50.9 54.9h0M35.2 59.2h0" stroke="#8890b8" stroke-width="1.2" stroke-linecap="round" stroke-opacity="0.62" fill="none"/>
<path d="M47.8 60.2h0M44.3 56.5h0M52.5 58.2h0M41.5 57.3h0M40.6 61.5h0M37.7 60.7h0M36.4 66h0M51.5 56.1h0M39.3 58.9h0M53.5 54.1h0M50.7 52h0M36.5 65.4h0M36 58.8h0M54.2 56.7h0M48.2 52h0M49.7 59.7h0" stroke="#a890cc" stroke-width="1.2" stroke-linecap="round" stroke-opacity="0.62" fill="none"/>
<path d="M37.7 58.3h0M41.7 57h0M43.4 61h0M41.9 56.9h0M54.6 54.2h0M52.9 55h0M36.9 62.1h0M50 59.3h0M41.2 60.9h0M33.9 64.5h0M35.4 60.8h0M36.3 62.3h0M47.1 53h0M49.8 57.4h0M52.1 57.7h0" stroke="#c87888" stroke-width="1.2" stroke-linecap="round" stroke-opacity="0.62" fill="none"/>
<path d="M71.7 30.4h0M72.5 30.9h0M71.6 29.5h0M75.2 30.8h0M70.6 31.5h0M72.7 30.6h0M72.8 32.8h0M70.7 31.3h0M73.8 32.5h0M71.8 29.3h0M73.4 31.2h0M73.2 31.3h0M72.7 32.9h0M70.5 31h0" stroke="#9020a0" stroke-width="1.2" stroke-linecap="round" stroke-opacity="0.62" fill="none"/>
<path d="M25.7 53V110H82" stroke="#000" stroke-width="1.6" fill="none"/>
<path d="M25.7 48L21.9 54.4L29.5 54.4Z" fill="#000"/>
<path d="M87 110L80.6 106.2L80.6 113.8Z" fill="#000"/>
<text x="35.8" y="32.1" font-size="7.3" text-anchor="start" font-weight="normal">LN</text>
<text transform="translate(17.7 81.2) rotate(-90)" font-size="7.8" text-anchor="middle">UMAP 2</text>
<text x="40" y="126" font-size="7.5" text-anchor="start" font-weight="normal">UMAP 1</text>
<text x="65.2" y="141.6" font-size="7.6" text-anchor="middle" font-weight="normal">Patient identity</text>
<circle cx="26.3" cy="155.2" r="2.2" fill="#d9434e"/>
<text x="31.5" y="157.8" font-size="7.3" text-anchor="start" font-weight="normal">CLL-C03</text>
<circle cx="26.3" cy="163.2" r="2.2" fill="#7a5a40"/>
<text x="31.5" y="165.8" font-size="7.3" text-anchor="start" font-weight="normal">CLL-C11</text>
<circle cx="26.3" cy="171.2" r="2.2" fill="#2a8a50"/>
<text x="31.5" y="173.8" font-size="7.3" text-anchor="start" font-weight="normal">CLL-C24</text>
<circle cx="71.8" cy="155.2" r="2.2" fill="#3b7fe0"/>
<text x="77" y="157.8" font-size="7.3" text-anchor="start" font-weight="normal">CLL-C33</text>
<circle cx="71.8" cy="163.2" r="2.2" fill="#d63fd6"/>
<text x="77" y="165.8" font-size="7.3" text-anchor="start" font-weight="normal">CLL-C44</text>
<path d="M217.2 72.3h0M214.3 33.7h0M219.4 93.2h0M234.9 30.2h0M232 42.1h0M240.8 94.2h0M223.5 24.2h0M226.9 87h0M223.3 68.8h0M214.7 17.3h0M240 90.7h0M218.5 23.3h0M252.7 64.3h0M243.5 30.8h0M228 45.6h0M237.5 49.1h0M227.4 49.7h0M234.2 88.5h0M243 61h0M210.1 87.4h0M223 85.3h0M229.3 25.7h0M224.8 53h0M252.4 74.8h0M214.4 70.2h0M218 25.2h0M226.6 33.8h0M219.3 50.2h0M225.8 50.9h0M224.2 38.6h0M240.5 32.6h0M217.9 100h0M227.2 36.8h0M213.9 35.7h0M237.9 98.7h0M208.1 83.3h0M223.5 86.7h0M230 46h0M223.6 18.8h0M238 89.2h0M213.6 83.6h0M234.3 49.4h0M228.4 32.4h0M223.7 61.3h0M234.6 40.3h0M238.5 47.3h0M230.4 47.6h0M226.2 79.3h0M251.7 55.9h0M231.8 67h0M217.5 69.2h0M240.7 81.8h0M235.5 74.6h0M233.3 32.4h0M236.2 21.4h0M227.9 86.4h0M230.4 37.7h0M238.7 26h0M253.3 74.9h0M254.4 75.4h0M247.4 46.7h0M220.9 59.9h0M232.2 50.7h0M220.5 68.9h0M232 38.8h0M227.4 13.1h0M223.8 36.1h0M230.9 26.6h0M211 25.9h0M252.8 67.9h0M216.3 88.5h0M240.4 23.5h0M247.8 39.9h0M229.8 42.6h0M252.3 57.4h0M227 64.9h0M226.8 28.5h0M232.6 48.4h0M209.6 87.8h0M240.7 97.2h0M232.2 66.2h0M213.8 32.9h0M236.9 31.6h0M245.9 73.1h0M225.6 46.5h0M243.4 65h0M229.8 61.9h0M216.1 84.3h0M241.1 80.4h0M218.4 19h0M213.3 73.6h0M213.4 71.4h0M232.7 95.3h0M224.9 66.2h0M251.9 81.7h0M238.9 85.2h0M219.3 77.9h0M234.3 54.3h0M250.5 54.5h0M230.1 17.2h0M227 87.8h0M217.3 84.4h0M226.5 86.6h0M208.1 89.9h0M241.6 87.9h0M238.5 57.8h0M241.6 66.6h0M243 69.8h0M234.4 22.2h0M241.7 43.7h0M238.3 73.9h0M237.9 63.7h0M220.7 80.2h0M217.7 32.3h0M243.4 70h0M247.4 88.7h0M217.8 25h0M234.3 69.7h0M240.4 76.8h0M220.9 51.1h0M245.4 78.4h0M225.6 12.8h0M213.7 41.7h0M247.4 46.1h0M245.1 39.5h0M234.2 39.3h0M253.2 65.7h0M234.9 95.4h0M223.9 32.1h0M222.8 55.3h0M244.8 32.4h0M243.8 63.3h0M234.1 49.5h0M223.2 98.1h0M247.5 51.4h0M239.4 25h0M227 31.1h0M215.1 26.4h0M228.9 44.4h0M221.2 88.8h0M246.2 46.9h0M223.2 95.6h0M231.3 65.5h0M235 33.7h0M232.1 37.4h0M221.1 24h0M246.1 61.7h0M231.2 14.4h0M231.7 36h0M224.4 90.2h0M227.9 55.8h0M215.7 66h0M231.2 64.3h0M241.5 36.7h0M215.9 47h0M250.8 80.2h0M237.3 63.2h0M223 67.7h0M219 86.5h0M240.9 36h0M247.4 39h0M237.8 97.5h0M228.5 94.3h0M224.8 74.4h0M228 101.8h0M250.7 74.9h0M238.2 29.5h0M236.2 71.5h0M230 39h0M230.4 83.1h0M235.8 99.4h0M240.7 50.3h0M210.1 82.5h0M209.4 92.9h0M230.6 39.2h0M237.4 22.7h0M232.5 21.1h0M229.5 36.5h0M219.2 19.7h0M236 54.9h0M251.7 85.1h0M228.4 35.2h0M245.5 78.2h0M223.4 22.8h0M249.1 56.4h0M223.1 22.6h0M241.1 26.5h0M218.9 81.5h0M228.7 24h0M227.9 24.7h0M227.8 66.9h0M226.7 60.4h0M235.8 99.3h0M228.8 62.3h0M234.9 63.2h0M240.2 90.5h0M237.6 23h0M221 17h0M234.1 62.8h0M240.6 89.4h0M243.2 86.8h0M229.3 59h0M243.9 79.7h0M216.1 41.3h0M218.8 30.3h0M221.8 64.3h0M223.7 13.3h0M229.8 71h0M232.5 36.7h0M234 66.8h0M247.5 69.1h0M224.5 51.9h0M217.2 14.3h0M217.7 14h0M233.5 17.7h0M232.3 30.5h0M225.2 82.8h0M223 66.5h0M238.2 52.2h0M239.9 87.8h0M229.3 37.5h0M211.1 75.8h0M226.6 96.6h0M231.5 81h0M230 13.7h0M240.3 85.3h0M215.7 82.1h0M247.5 93.1h0M219.1 66.6h0M213.2 84.4h0M238.7 93h0M242.3 68.6h0M245.4 51h0M229.5 56.4h0M223.2 59.5h0M250.9 49.7h0M228.6 33.7h0M219.9 79.3h0M245.7 43.8h0M238.8 35.8h0M247.9 83.8h0M224.5 31.5h0M240.6 23.2h0M243.3 41.7h0M214.9 98.9h0M229 71.3h0M236.7 20.9h0M237 23.5h0M222.5 41.8h0M221.8 98.5h0M243.7 83.3h0M237.8 64.6h0M212.1 87h0M214.3 69.3h0M234.8 47.6h0M212.9 37.8h0M218 59.9h0M215.7 27.8h0M253.9 70.5h0M240.4 53.9h0M223.2 60.9h0M233.2 22.1h0M251.3 78h0M224 98.9h0M245.8 45.9h0M237.6 44.9h0M225.6 73.9h0M230.3 97.3h0M242.7 76.1h0M215.9 88.3h0M221.3 38.1h0M249.1 80.4h0M236.9 44.9h0M226.6 24.9h0M230.6 20.8h0M245.6 45.8h0M220.9 88.5h0M223.4 42.4h0M210.5 95.4h0M226.1 32.7h0M227.4 26.3h0M227.2 13.3h0M232.8 81.6h0M244.6 75.1h0M210.2 83.9h0M230.9 64.1h0M248.5 86.6h0M229.5 96.7h0M231.1 101.2h0M221.1 80.1h0M228.7 55.8h0M241.5 96h0M240.3 87.2h0M221.7 57.7h0M223.5 86.9h0M244.7 89.5h0M209.4 91.2h0M245.3 85.4h0M239.5 53.5h0M220.7 42.8h0M213.5 82.3h0M213.9 78.6h0M234.5 17.3h0M229 66.7h0M222.7 52.9h0M230.6 59.4h0M231 49.3h0M221.4 17.5h0M251.8 70h0M211.4 86.9h0M230 45h0M243.8 49.3h0M230.8 78.7h0M241 44.8h0M220.5 13.4h0M245.2 86.6h0M239.1 84.6h0M232.6 53.5h0M233.8 51.5h0M211.3 17.7h0M225.6 20.4h0M209.9 82.6h0M240.7 41.1h0M226.8 93.8h0M223.5 19.1h0M223.6 60.8h0M224.2 33.7h0M243 82.7h0M231.9 67.7h0M232.7 51.2h0M239.2 79.1h0M241.2 53.1h0M237.6 83.3h0M227.1 22.1h0M215.4 85.1h0M219.7 73.6h0M230.5 38.2h0M243.2 91.1h0M233.1 52.7h0M225.2 39.6h0M233.5 43.6h0M229 48.5h0M235.1 97.2h0M224.3 56.6h0M221.8 56h0M241.4 71.4h0M243.9 44.9h0M240.2 55.5h0M225.7 45.1h0M245.2 79.9h0M216.2 91h0M227.1 97.6h0M225.4 64.1h0M234.1 67.8h0M232 96.6h0M214.5 91h0M230.4 45.3h0M225.7 70.9h0M241.6 64h0M244 87.1h0M212.7 85.4h0M235.2 44.9h0M250.5 69h0M246.7 51.6h0M234.9 60h0M239.9 33.5h0M244.2 41h0M217 69.7h0M208.9 84.6h0M235.5 45.8h0M232.4 41.8h0M224.5 29.2h0M218.3 71.9h0M226.1 62h0M241.3 48.5h0M249 69h0M247.2 78.6h0M233.1 60.9h0M237.3 81.6h0M251.1 55.8h0M232.3 52.1h0M215.1 68.1h0M226.2 44.3h0M225.2 90.6h0M240.5 41h0M241.6 25.2h0M227.6 73.7h0M221 75h0M234 36h0M236.4 85.5h0M221.3 73.4h0M232.6 86.2h0M228.8 53.6h0M223.6 83.6h0M229.1 14.4h0M222.8 25.7h0M247.7 40.3h0M230 87.4h0M228.7 49.4h0M234.7 17.1h0M236.6 79.2h0M241.7 66.4h0M234.1 45.4h0M228.4 67.9h0M234.2 95.5h0M221.3 94.5h0M229.8 72.3h0M232 37.5h0M237.7 24.3h0M210.2 87h0M216.6 64.5h0M229 35.5h0M215 14.8h0M249.7 89.3h0M227.2 18h0M216.3 29.7h0M221.1 44.1h0M230.9 81.8h0M242.5 87.8h0M226.2 16.6h0M247.9 77.5h0M242.2 69.5h0M229.1 65.7h0M228.3 68h0M236.2 24.5h0M248.8 59.6h0M234.5 76.8h0M228.1 52.4h0M229.7 81.3h0M242.4 27.9h0M239.7 82.8h0M238.1 80.3h0M253.7 71h0M217.8 95.6h0M237.2 99.2h0M240.6 22.8h0M227.7 40h0M235.1 46.7h0M225.4 51.4h0M248.1 79.7h0M243.2 74h0M225.1 14.4h0M240.5 42.2h0M235.8 48.1h0M244.7 37h0M219.3 44h0M219.3 85.1h0M220.2 93.7h0M234.3 69h0M247.5 47.7h0M229.7 38.4h0M234 97.4h0M236.6 63.5h0M249.4 52.5h0M246.2 65.8h0M223.6 22.3h0M244.1 72.8h0M215.3 87.3h0M221.9 65.5h0M219.7 26.4h0M222.3 93.8h0M228.8 95.8h0M218.2 22.4h0M232.7 83.8h0M222.2 46.2h0M229.5 42.9h0M240.8 65.5h0M233.9 70.4h0M240.5 83.6h0M222.1 78.3h0M248.6 42.2h0M235.9 32.7h0M231.2 27.7h0M218.8 23.3h0M207.8 83.2h0M234.4 26.6h0M252.4 83.5h0M222.7 53.9h0M238.3 79.3h0M225.9 23.3h0M229.6 32.8h0M246.6 92.2h0M222.7 76h0M227.2 23.3h0M236.3 21h0M250 50h0M237.8 47.3h0M243.2 91.7h0M226.2 73.7h0M239.2 51.4h0M243.9 38.8h0M215 17.1h0M229.8 19.1h0M244.1 68.5h0M249.6 48.2h0M236.1 94.5h0M241.7 93h0M232.6 65.4h0M233.9 98.3h0M215.8 23h0M227.8 25.1h0M233.2 24.9h0M209.8 83.7h0M237.6 27.9h0M217.8 78.4h0M241.5 47.5h0M224.7 20h0M230.3 98.4h0M248.4 63h0M231.6 41.6h0M212.3 33.2h0M247.1 42h0M235.4 86.6h0M222 20.9h0M225.6 25.7h0M232 47.2h0M242.8 72.3h0M212.9 26.2h0M245.7 66.4h0M226.4 50.7h0M237.8 66.7h0M230.4 67.9h0M220.2 58.5h0M234.6 66.6h0M229.2 68h0M222.9 68h0M241.8 50h0M226.3 35h0M234.5 27h0M239.3 58.2h0M232.1 25.4h0M225.1 56.5h0M249.2 56.8h0M208.9 82.9h0M244.1 68.7h0M228.2 36.5h0M241.4 60.5h0M210.2 92.1h0M222.6 75.8h0M221.5 47.8h0M220.4 95h0M229.8 97.7h0M223.7 25.4h0M223.2 60.1h0M247.1 67.7h0M232.3 17.7h0M215.7 71.5h0M243.6 84.8h0M213 32h0M224.1 31.8h0M226 66.2h0M220.2 86.4h0M230.2 25.8h0M227.4 66.5h0M231.6 94.1h0M249.6 81.2h0M238.6 97h0M218.4 89.3h0M225.4 14h0M223.2 24.2h0M228.3 94.5h0M238.6 40h0M236.4 28.8h0M226.5 101.4h0M223.5 50.2h0M245 44.5h0M250 48.5h0M220.3 83.8h0M225.7 97.4h0M226.3 33h0M223.8 59.9h0M223 44.2h0M234.8 66.2h0M244.1 79.5h0M227.2 68.5h0M232.4 91.4h0M227.6 46.1h0M229.4 67.3h0M221.6 67.6h0M240.6 95h0M252.5 81h0M213.2 86.2h0M238.4 38.2h0M235.2 53.4h0M230.9 49.4h0M240.7 32.8h0M212.4 81.9h0M250.8 60.4h0M242.4 43.3h0M225.1 19.4h0M225.9 42.7h0M242 55.4h0M225.9 81.8h0M238.2 42.8h0M241.2 24.4h0M212.7 29.8h0M246.3 67h0M237.1 99h0M210.6 96.3h0M231.2 36.1h0M218.3 43.4h0M231.3 26.2h0M244.2 33.3h0M228.6 95.4h0M211.6 95.1h0M232.7 50.7h0M222.2 91h0M223.1 59.3h0M219.9 60.6h0M232.2 57.3h0M248.9 89.2h0M240 42.1h0M251.6 66h0M233.4 99.1h0M225.5 20.7h0M212.2 26.2h0M230.3 19.7h0M237.7 98.7h0M236.4 25.9h0M225.4 29.7h0M228.1 41.7h0M217.3 89.6h0M218.6 87.9h0M228.1 53.3h0M232.2 28.5h0M243.9 57.4h0M221.6 51.9h0M242.4 48.2h0M242.1 72.7h0M231.4 33.3h0M220.6 88h0M231.5 27h0M214 77.9h0M226.2 50.9h0M219.3 98.2h0M217.1 89.7h0M250.7 55.3h0M238.9 31.4h0M224.5 40.3h0M233.5 18.7h0M221.4 29.3h0M232.3 14.7h0M211.1 87h0M224.1 70.7h0M229.4 31.7h0M231 64.3h0M233.4 59.7h0M252.7 61.6h0M247 87.7h0M215.5 69.5h0M223.7 31.2h0M248.2 77.4h0M234.6 46.1h0M234.2 41.4h0M235 80h0M245 45.4h0M223 83.7h0M214.7 22h0M231.6 58.7h0M224.2 98.4h0M224.9 73.4h0M226.1 58h0M237.9 93.6h0M228 101.8h0M233.5 19.8h0M216.9 30.5h0M233.4 16.1h0M228.2 85.8h0M249.6 68.8h0M226.3 79.1h0M217.5 72.6h0M234.6 73.5h0M237.3 41.3h0M249.7 79.2h0M223.1 100.1h0M221.3 84.7h0M236.2 37.4h0M228.2 31.8h0M215.3 73.8h0M211.8 90.9h0M217.7 84.9h0M243.5 39.4h0M224 97.1h0M241 42.1h0M244.1 55.2h0M231.2 99.3h0M235.2 36.2h0M228.3 48.7h0M238.9 49.3h0M218.2 67.9h0M244.9 91.4h0M243.1 36h0M251.5 74.1h0M214 79.6h0M223.8 44.6h0M234.5 36.5h0M249.3 55.1h0M230.7 20.4h0M243.9 66.6h0M241.8 85h0M222.8 59.9h0M237.7 35.3h0M219.3 91.4h0M241.1 69.4h0M252.1 73.4h0M241.4 91h0M235.2 93.2h0M241.4 52.3h0M212 93.5h0M224.7 40.7h0M225.1 44.5h0M219.5 62h0M229.5 53.9h0M228.2 92.1h0M239 66.6h0M229.2 54.6h0M253.5 67.4h0M236.8 64.3h0M224.9 37.6h0M228.3 70.8h0M216.4 97.5h0M221.1 77.9h0M218.6 66.2h0M246.4 65.7h0M225.6 65.2h0M214 32.6h0M218.5 74.7h0M242.4 55.2h0M234.4 77.2h0M222.5 28.5h0M236.4 71.2h0M240.3 69.9h0M222.3 40.6h0M253.3 75.4h0M246.7 83.4h0M233.6 83.5h0M234.9 73.7h0M225.1 76.6h0M251.4 62.8h0M223.2 89.9h0M242.6 48.4h0M218.3 89.9h0M224.7 14.7h0M244.5 36.4h0M249.6 88.6h0M231.7 17.3h0M218.5 57.8h0M234.1 89.2h0M220.5 97.8h0M239.3 37.4h0M219.6 41.6h0M216.5 84.1h0M222.3 84.7h0M244.9 60.1h0M232.2 81.9h0M248 73.7h0M244.3 45.6h0M240.8 23.7h0M243.4 57h0M240.2 66.3h0M248.2 84.8h0M221.9 46.3h0M243.2 65.3h0M229.6 51.7h0M223.7 12.5h0M217.5 66.5h0M240 55.1h0M233.9 56.6h0M218.4 83.3h0M244.2 78.7h0M226.1 19h0M218.1 48.4h0M234.3 21.5h0M229 28.7h0M221.1 72h0M229.5 19.5h0M233.9 98.7h0M208.2 89.7h0M218 97.4h0M242.5 52.4h0M223.5 15.7h0M239.5 25.8h0M217.9 94.3h0M241.2 49.9h0M241.8 95.2h0M224 42h0M237.1 53.1h0M234.1 40.7h0M215 15.3h0M222.4 86h0M231.9 41.9h0M242.4 77h0M237.5 19.1h0M235.3 24h0M225.7 95.5h0M229.9 42.9h0M218.2 23.7h0M247.5 53.8h0M231.2 26.9h0M228.7 71.7h0M218.9 100h0M231.2 56.5h0M230.7 66.5h0M240.2 24.7h0M215.9 65.7h0M250.3 56.9h0M229.2 35h0M248.6 59.1h0M246.1 81.7h0M244.1 30.7h0M234.2 15.7h0M244.2 44.1h0M240.2 65.9h0M234.2 33.9h0M251.5 59.6h0M213.4 22.6h0M208.1 82.4h0M230.5 87.3h0M230.2 58.8h0M251.5 81.2h0M228.1 97.2h0M238.6 70.2h0M230.9 100.2h0M236.5 85.6h0M220.1 59.9h0M227.8 50.1h0M239.1 32.4h0M243.9 75h0M249.4 74.5h0M220.4 14.7h0M219.1 38.3h0M241 75.6h0M222 57.8h0M215.4 82.8h0M209.3 83.6h0M222.2 50.7h0M222.1 49.9h0M225.3 29.1h0M244.8 33.6h0M244.8 36.4h0M243.2 59.1h0M244.7 64h0M241.8 67.6h0M221.1 28h0M238.1 68.6h0M229.2 70.8h0M247 47.7h0M226 37.6h0M234.6 81.6h0M218 90h0M219.6 64.9h0" stroke="#3050b8" stroke-width="1.2" stroke-linecap="round" stroke-opacity="0.8" fill="none"/>
<path d="M246.1 73.8h0M247.7 46.2h0M229.5 40h0M244.1 82.3h0M246.6 83.2h0M232.2 38h0M241.5 69.6h0M226 85h0M218.9 93.2h0M231.6 76.5h0M228 31.5h0M211.7 25.1h0M223 19.5h0M225.1 77.2h0M237.8 73.3h0M250.5 54.6h0M221.4 96.1h0M222.4 99.9h0M238.4 32.6h0M221.7 93h0M236.1 44.1h0M240.3 54.5h0M226.6 41.5h0M236.8 35.9h0M230.2 60h0M210.9 93.7h0M244.7 47.1h0M225.2 19.1h0M215.5 20.6h0M241.5 83.7h0M223.4 54.7h0M240.5 46h0M237.7 60.3h0M236.8 96.1h0M220.9 94.7h0M218.5 89.2h0M245.4 34.9h0M244.1 41.5h0M248.2 70.8h0M238.5 71.6h0M237.8 59.2h0M253.1 69.1h0M215.7 86h0M226.3 66.4h0M232.8 93.1h0M236.7 74h0M253.3 64.3h0M237.5 29.5h0M217.9 72.6h0M215.8 18.8h0M228.3 76.2h0M218.9 75.9h0M234.5 80.5h0M233.7 23h0M233.8 98.5h0M235.8 84.5h0M231.4 100.8h0M215 45.6h0M220.2 62.7h0M236.8 74.2h0M246 42.8h0M236.3 90.1h0M213.5 26.4h0M241.8 45.1h0M240.7 38.1h0M235.4 24h0M243.2 32h0M232.5 25.9h0M217.4 44h0M215 74.9h0M230.3 48.9h0M219.1 91.8h0M209.9 92.6h0M224 29.4h0M219 55.3h0M251.6 54.9h0M221.3 95.7h0M226 54.9h0M227.7 49.4h0M213.5 75.6h0M243.1 58.4h0M221.1 41h0M230.4 75.2h0M228.1 66h0M219.9 35h0M227.6 69.6h0M240 92.5h0M218.7 27.2h0M234.1 16.6h0M222.1 95.7h0M242.9 74.1h0M232.6 71.5h0M244 70h0M225 62.8h0M211.8 35.9h0M237.4 20.1h0M244.9 51.2h0M212.9 82.5h0M232.8 80.5h0M222.3 98.9h0M241.7 97h0M245.1 33.9h0M233.5 44.6h0M227.5 78.9h0M233.6 42.2h0M230.5 41.6h0M243.5 43.7h0M222.7 83.7h0M240.2 55.2h0M216.5 40.6h0M232.1 21.9h0M225.4 39.8h0M232.1 60.9h0M242.4 40h0M232.6 80.3h0M229.7 21.9h0M252.1 65.5h0M227.9 13.9h0M220 84.5h0M240.7 36.8h0M239.5 43.9h0M231.8 95.2h0M234.4 55.2h0M212.6 79.4h0M213.2 81.5h0M234.1 25.5h0M238.4 33.7h0M232.9 87.6h0M218.8 74.2h0M212.1 88.7h0M221.3 18.6h0M241.2 74.9h0M228.8 51.1h0M245.9 92.4h0M230.5 31.1h0M229.7 82.1h0M242.4 26.3h0M217.1 95h0M227.7 78.1h0M243.8 46.7h0M248.5 76.6h0M252.9 76.6h0M249.3 62.1h0M240.8 41h0M240.4 86.4h0M227.5 65.9h0M213.7 17.7h0M235.7 38.3h0M229.7 98.3h0M219.4 90.3h0M222.6 77.8h0M252.1 75.8h0M227.8 74.2h0M219.1 88.4h0M208.7 92.3h0M244.6 83.9h0M236.3 78.6h0M212.6 19.3h0M218.2 98.7h0M219.1 85.7h0M250.6 86.9h0M223.3 53.4h0M231.4 85.9h0M240.1 53.8h0M217.1 96.7h0M221.6 24.7h0M226.4 45.7h0M219.4 74.3h0M227.2 21.3h0M211.9 33.1h0M240.8 47.5h0M215.3 18.7h0M220.8 85.2h0M229.7 94h0M217 81.6h0M234.6 75.3h0M228.3 22.4h0M231.3 46.2h0M224.5 30.1h0M230.2 26.1h0M218.8 14.4h0M215.4 92h0M242 34.1h0M213.2 82.9h0M252.8 81.3h0M229.8 98.6h0M240 72.3h0M219.5 52.1h0M234.4 22.1h0M213.5 86.5h0M223.4 39.9h0M243.1 46.7h0M230.2 89.5h0M249 62.8h0M225.2 50.7h0M245.2 44.2h0M239.6 28h0M240.9 95.8h0M231.4 93.3h0M242.5 45.1h0M227.2 102.4h0M239.1 38h0M225.8 100.5h0M239.7 66.2h0M223.5 92.2h0M247.8 41.8h0M233.4 59.2h0M214.6 84.1h0M220.7 34.8h0M251.4 67h0M215.3 45.3h0M230.6 34.9h0M231.4 31.2h0M239.2 90.8h0M226.4 37.3h0M213.5 82h0M234 57.6h0M212.8 74.4h0M231.9 30.5h0M238.5 84.3h0M220.8 60.4h0M228.5 74.4h0M213.2 74.6h0M236.3 86.5h0M246.6 42.2h0M222 29h0M227.8 41h0M223 18.8h0M216.2 68.1h0M245.6 74.2h0M246.5 85.3h0M232.5 73.1h0M217.3 33.3h0M215.9 84h0M226.1 75.4h0M227.8 81.5h0M222.8 57.9h0M246.4 69.2h0M245 34h0M239.9 61.3h0M239.2 78.1h0M226.4 83.7h0M228.1 41.1h0M224.5 40.9h0M241.1 41.4h0M216.9 61.4h0M217.2 38.5h0M214.7 89.9h0M214.4 86.6h0M240.5 42.8h0M224.5 91.5h0M239.4 23.4h0M225.8 41.3h0M244 63.6h0M237.1 94.5h0M243.9 51.8h0M229.7 39.3h0M234.8 42.5h0M222.3 41.6h0M227.3 100.1h0M241.2 66h0M233.5 70.4h0M240.1 76.5h0M234 91.4h0M213.2 21.3h0M248.5 46.6h0M246.8 57.5h0M231.4 15.5h0M247.6 57.6h0M226.1 102.2h0M215.2 37.8h0M236.8 23.4h0M239.7 60.6h0M224.1 95.9h0M220.4 88.7h0M217.3 16h0M208.7 92.1h0M218.7 34.7h0M231.7 85.2h0M220.5 75.9h0M247.8 79.7h0M225 101.7h0M250.8 50h0M217.2 15.9h0M232.9 69.4h0M224.4 14.2h0M227.1 46.5h0M235.6 19.2h0M248.9 81.8h0M219.9 33.7h0M252.6 77.7h0M211.6 30.6h0M224.5 20.2h0M246.6 65.4h0M222.6 65.6h0M214.1 82.6h0M237.6 70.7h0M229.1 21.1h0M250 69h0M219 32.5h0M223.4 95.5h0M247.3 57.3h0M211.5 28.6h0M242 83.3h0M236 56.4h0M217.6 33.1h0M248.8 52.8h0M214.5 97.8h0M224.5 85.6h0M231.6 20.8h0M229.7 25.3h0M221.1 64.7h0M238.5 40.2h0M225.3 58.7h0M218.3 61.1h0M233.5 50.4h0M245.6 56.5h0M243.9 44.5h0M239.5 78.5h0M226.6 94.7h0M225 41.5h0M224 87.1h0M223.4 93.8h0M237.7 69.8h0M250 62.5h0M219.6 43.7h0M228.8 47.7h0M238 63.6h0M219.9 50.7h0M214.4 30.3h0M226.9 13.6h0M231.2 92.6h0M241.9 67.3h0M226.4 87.2h0M250.2 47.2h0M231.9 40.7h0M229 66.5h0M228.4 66.7h0M244.4 66.3h0M235.5 73h0M230.3 30.4h0M237.8 30.2h0M225 27.5h0M219.6 70h0M253.9 78.6h0M245.4 50.9h0M249.4 71.6h0M219.7 24.1h0M232.4 42.3h0M229.5 27.6h0M228.2 35.1h0M226.5 75.9h0M224.7 43.1h0M217.5 67.7h0M236.2 85.4h0M241.4 31.8h0M236.4 41.1h0M239.1 82.5h0M238.5 37.7h0M219.8 96.3h0M237.5 62.5h0M237.4 26.1h0M222.9 96.5h0M237.4 35.8h0M220.7 30.3h0M221.7 62.5h0M243.3 81.2h0M226.8 65.4h0M241 34.5h0M231.6 47.4h0M231.5 17.9h0M224 55.1h0M227.5 58.9h0M213.2 17.2h0M218 70.9h0M227.8 20.5h0M254.4 75.5h0M225.5 18.9h0M233.5 82.5h0M221.4 26.2h0M252.8 60.1h0M218.5 31.4h0M242.2 60.8h0M221.7 65.9h0M244.7 78.2h0M216.4 75.7h0M249.6 70.7h0M235 34.6h0M253.4 77.9h0M231.8 97.6h0M241.5 49.4h0M218.1 87h0M244.2 34.9h0M217.7 74.2h0M235.6 22.4h0M235.2 80h0M229.3 60.8h0M240.3 50.3h0M242.4 62.4h0M238.4 44.6h0M248.7 71.5h0M228.7 52.7h0M239.9 23.6h0M223.3 38.3h0M242.3 57.6h0M226.3 54.8h0M213.4 18.2h0M226.4 90.6h0M219.1 82.1h0M231 81.1h0M240.8 66.5h0M233.4 41.4h0M226 80.4h0M217.1 84.7h0M235.7 55.7h0M213.9 37.1h0M239.1 80.7h0M234.3 52.1h0M243.2 34.3h0M236.3 85.7h0M223.4 36.1h0M233.2 84.3h0M236.9 57.1h0M244.6 90.6h0M236.4 83.8h0M244.6 50.4h0M225 97.8h0M229 56.3h0M234.4 89.6h0M221.9 75.6h0M231.5 40.2h0M212.1 95.6h0M218.4 77.6h0M211.3 96.8h0M242.1 44.4h0M213 39.7h0M234.1 67.7h0M236.6 57.3h0M233.4 33.2h0M214.7 19.3h0M229 21.2h0M232.7 42.8h0M237.3 32.7h0M219 94.4h0M238 51.3h0M251.9 71.8h0M225.2 16.6h0M226.1 13.3h0M211.9 25.3h0M223.7 38.6h0M212.8 88.7h0M230 36.6h0M216.6 23.8h0M235.5 95.4h0M232.5 44h0M243.8 57.2h0M232.3 57.8h0M227.6 76.5h0M231.3 91.9h0M234.2 36.4h0M230.4 34.1h0M235.1 72.4h0M228.5 53.4h0M237.3 26.2h0M220.8 97.1h0M242.5 34.1h0M244.5 56.2h0M226.3 102.2h0M238.7 48.2h0M216.2 18h0M230.8 80.9h0M245.4 67.4h0M213.7 79.9h0M247.1 73.9h0M215.6 96.8h0M231.6 94h0M249.2 78.4h0M235.9 78.9h0M228.7 38.2h0M229.3 15.3h0M242.1 29.4h0M226.9 57.8h0M246 58.6h0M220.4 35.7h0M226.2 88.7h0M251.8 54.9h0M226.6 57.2h0M236 45.2h0M240.1 23.4h0M250 47.4h0M214.7 15.1h0M246.8 44.5h0M236.9 89.5h0M243.7 58.9h0M218.4 72.1h0M219.1 17.5h0M221.5 66h0M218.1 73.5h0M228.6 99.6h0M220.2 79.3h0M242.4 66.8h0M240 79.6h0M226.2 29.1h0M223.6 35.4h0M248.1 89.4h0M236.6 99.3h0M219.9 45.2h0M240.9 36.1h0M238.4 83.7h0M251.7 54.3h0" stroke="#1e3a98" stroke-width="1.2" stroke-linecap="round" stroke-opacity="0.8" fill="none"/>
<path d="M243.9 88.1h0M207.7 85.3h0M231.7 36.4h0M233.2 84.4h0M217.3 92.8h0M242.2 90.8h0M217.4 24.2h0M231.2 30.1h0M219.6 33.5h0M247.6 51.8h0M214.5 27.8h0M224.9 53.9h0M237.9 97.8h0M249.9 61.5h0M213.6 83.9h0M229.6 92.7h0M214 25.2h0M217.9 66.4h0M236 91.1h0M227.8 74.6h0M245.6 46.8h0M213.4 37.6h0M236.8 66.7h0M238.9 31.2h0M215.5 71.8h0M213.7 20.6h0M226.5 71.7h0M241.3 84.5h0M234.8 48.8h0M229.7 13.4h0M207.2 26h0M221.1 17.2h0M230.9 89.6h0M218.4 65.6h0M218.3 97.6h0M242.4 70.9h0M232.6 23.6h0M236.2 36.1h0M221.6 31h0M224.7 84.3h0M234.3 36.3h0M231 94h0M228 46.4h0M232.6 29.8h0M231.4 43.4h0M223.1 77.2h0M217.8 14.9h0M232.5 59.7h0M233.4 70h0M250.6 63.6h0M228 14.9h0M234.8 56.3h0M236 67.6h0M236.2 59.4h0M234.6 66.8h0M238 52.6h0M225.7 13.2h0M230 53.3h0M248.3 62.1h0M245.3 76.9h0M242.2 27.6h0M221.6 100h0M215.3 79.5h0M240.7 54h0M231.1 70.8h0M244 39.3h0M222.4 90.9h0M243.7 78h0M213.7 81.8h0M239.9 69.6h0M242 74.8h0M240.9 51.2h0M240.1 61.3h0M229.2 31.9h0M241.9 87.7h0M234.4 40.8h0M245.3 68.1h0M217.4 55.2h0M227 30.2h0M250.9 68.3h0M230 17h0M230.7 26.9h0M238.6 69.6h0M246.1 65.6h0M220.6 54.3h0M233.9 18.2h0M213.7 16.6h0M228.2 72h0M216.6 65.2h0M225 26.7h0M226.7 65.6h0M228.9 100h0M213.1 95.4h0M237.7 91.1h0M221.2 74.9h0M235.7 62.2h0M238.1 98.9h0M246.3 71.3h0M225.4 101.1h0M240.4 48.6h0M216 27.3h0M213.3 85.2h0M219.6 70.8h0M218.1 93.7h0M215.4 97.8h0M243.9 82.7h0M222.6 40.8h0M224.7 86.3h0M227.2 20.4h0M218.6 65.2h0M242.6 90.9h0M238.8 39.2h0M229.6 73.2h0M229.3 92h0M246.5 80.6h0M224.6 38.7h0M220.6 17.5h0M231.7 56.6h0M209.9 85.2h0M212.3 29.8h0M244.8 40.2h0M218.9 30.8h0M249.3 75.3h0M231.5 82.3h0M229.2 40.6h0M217.1 88.2h0M249.5 70.8h0M229.1 25.5h0M208.7 85.8h0M248.7 70.2h0M220.9 15.6h0M236.5 38.2h0M226 64.8h0M227 42.2h0M244.6 50.6h0M237.5 44.3h0M228.4 20.1h0M234.1 31.6h0M244.7 75.8h0M225.7 25.4h0M210.9 19.5h0M247 68.2h0M224 100.5h0M225.1 72.9h0M213.5 81.9h0M228.5 77.3h0M215.5 82.8h0M239.8 47h0M239.6 95.9h0M217.4 78.3h0M233.9 51.9h0M221.8 81.2h0M223 50.1h0M225.8 27.8h0M227.6 19.7h0M217.8 43.5h0M244.9 60h0M226.4 99.7h0M229.8 84h0M218.6 97.5h0M213.6 38.4h0M248.7 68.7h0M245.3 39.3h0M229 45h0M251.6 78.5h0M237.7 74.7h0M228.5 13.5h0M240.9 51.2h0M213.8 75.3h0M236.4 50.9h0M221.1 57.5h0M221.3 59.2h0M235.3 80.5h0M241.5 38.6h0M247.3 45.9h0M236.4 44.9h0M234.8 23.1h0M237.3 18.9h0M223.6 58.7h0M234.9 28.7h0M218.4 39h0M235.3 77.1h0M218.2 82.6h0M217.2 81.9h0M239.5 89.7h0M218.6 66.7h0M219.4 20h0M235 26.3h0M238.8 70.9h0M211.3 19h0M227.3 28.1h0M224.4 92.2h0M236.6 28.3h0M230.9 64.6h0M227.4 25.5h0M223.7 79.8h0M244.5 65.3h0M215.3 92.4h0M235.9 37.6h0M234.6 60h0M234.4 91.3h0M246.2 85.1h0M222.1 76h0M239.5 67.3h0M231 53.2h0M242.1 78.1h0M231.9 68h0M222.9 40.3h0M221.7 67.3h0M245.3 55.6h0M234.3 49.9h0M240.4 87.5h0M223.5 67.1h0M218.2 73.6h0M230.7 69.8h0M219.4 71.5h0M236.8 62.5h0M240.2 97.8h0M243.1 34.8h0M226.9 57.8h0M244.7 57.4h0M236.5 52.8h0M239 50h0M223.1 43.1h0M237.9 71.2h0M234.7 91.3h0M243.8 34.5h0M236.8 83.9h0M228.4 62h0M233.1 19.5h0M242.6 93.6h0M242.1 37.7h0M217.5 92.4h0M238.2 58.5h0M233.7 62.9h0M236.5 64h0M228.5 37.4h0M235.6 93.1h0M224.2 88.2h0M250.9 84.1h0M226 30.7h0M227.2 38.4h0M226 66h0M229.9 88.5h0M243 39.6h0M219.6 82.1h0M212.3 73.5h0M212.2 19.7h0M228.4 33.2h0M210.8 24.2h0M245.3 65.7h0M250.1 55.8h0M211.5 93.6h0M225.6 31.1h0M210.3 85.3h0M222.3 58.7h0M236 24.4h0M247.2 42.7h0M211.1 78.7h0M252 62.2h0M239 92h0M244.6 72.3h0M251.7 58.4h0M216.7 67.8h0M229.1 61.2h0M229.8 55.1h0M242.3 26.2h0M242 76.6h0M232.1 101.3h0M231.1 16h0M227.5 43.5h0M237.6 52.3h0M226.2 64.1h0M226.5 82.9h0M217.7 96.2h0M217.4 36.4h0M238.5 83.9h0M208.8 91.5h0M218.9 60.1h0M237.4 56.7h0M250 82.3h0M247.5 51.7h0M216.7 72.4h0M224.1 24.1h0M233.7 57.5h0M240.4 42h0M221.9 75.6h0M228.8 93.2h0M233.5 65.4h0M230.8 99.6h0M215.1 96.7h0M226.8 20.6h0M222.2 93h0M238.1 23.7h0M220.8 91.9h0M238.3 85.7h0M226.6 81.1h0M237.2 29.9h0M221.9 28.2h0M246.3 84h0M232.2 96.4h0M220.8 72.2h0M216.2 91h0M228.2 44h0M223.3 73.5h0M237.6 22.1h0M218.4 59.9h0M238.3 86.7h0M225.3 31.9h0M247.5 44.2h0M236.3 17.6h0M222.6 46.1h0M246.3 92.2h0M251.7 81.7h0M238.1 96h0M248.8 70.6h0M216.3 94.8h0M245.3 68.1h0M231 90.5h0M216 32.1h0M248.9 61.7h0M218.3 16.2h0M252.1 56h0M231.2 20.9h0M226.1 46.5h0M243.3 82.1h0M214.7 91h0M237.3 47.4h0M218.9 32.8h0M251.3 78.2h0M238.4 34.1h0M223.4 80.4h0M222.3 70.1h0M234.8 92.3h0M216.1 92.8h0M238.9 98.3h0M218 96.5h0M252 77.9h0M226.6 92.6h0M219.4 59.5h0M220 93.1h0M220.5 77.6h0M207.8 86.4h0M220.9 84.1h0M212.9 27.5h0M237.9 90.9h0M235.7 27.6h0M215.9 69.3h0M239.3 53.1h0M230.3 34.3h0M240.7 82.2h0M239.7 97.1h0M252.5 61.4h0M227.2 44h0M221.9 35.1h0M217.7 98.4h0M213.8 73.2h0M249.6 69.7h0M220.2 61.3h0M231.6 54.5h0M221.9 32.3h0M215.8 90.7h0M227.8 82.3h0M228.3 95.5h0M232.7 15.7h0M224.6 74.2h0M240.7 59.4h0M240.6 35.4h0M208.5 80.9h0M227.4 78.7h0M221.3 60.3h0M220.9 13.4h0M247.1 64.3h0M219.2 75.8h0M214.9 75.3h0M217.3 68h0M252.5 76.2h0M246.8 71h0M250.8 67.7h0M214.8 16.4h0M222.9 85h0M227.9 85.4h0M241.6 94.3h0M227.2 100.6h0M247 69.8h0M217.6 57h0M234.9 65h0M207.9 91.7h0M219 67.9h0M210.9 78h0M240.1 22.4h0M241 60.7h0M235.8 86.8h0M246.7 44.8h0M232.5 48.5h0M230.7 24.9h0M227.4 16.5h0M237.4 89.3h0M232.1 92.9h0M216.9 74.4h0M245.3 76.2h0M238.5 63h0M237.8 34.9h0M231.4 40.4h0M233.6 44.7h0M219.4 89.3h0M229.6 47.6h0M220.2 64h0M228.9 28.7h0M221.4 99.5h0M207.1 85.2h0M249.8 49.4h0M207 85.9h0M224.5 62.9h0M250.4 83h0M250.8 75.6h0M220.1 62.3h0M230.5 39.8h0M247.4 79.1h0M214.7 81.9h0M223.8 29.6h0M241.5 95.6h0M235 53.2h0M228.1 64h0M239.3 84.2h0M225.8 88.7h0M228.4 47.8h0M236.8 64.2h0M221.2 50.6h0M251.3 77.7h0M233.2 33.3h0M230.8 60h0M228.7 91.2h0M243.1 43.6h0M223.4 26.4h0M247.9 73.9h0M247.5 43.7h0M212.3 19.9h0M249.6 76.4h0M215 19.1h0M244.7 53.8h0M232.2 86.2h0M238.9 94h0M213 78.1h0M217.8 20.9h0M230.8 22.9h0M222.6 87.8h0M230.2 41.5h0M213.6 71h0M230.6 99.8h0M245 88.5h0M243.7 30.5h0M222.6 99.7h0M230.1 13.9h0M230.1 39.3h0M229.5 49.4h0M222.9 78.2h0M239.5 91.1h0M245.3 64.3h0M237.4 89.1h0M243.2 85h0M243.8 87.9h0M223.1 53.8h0M222.1 72.7h0M214.2 22.8h0M243.4 37.9h0M249.3 56.4h0M241.2 83.2h0M225.4 98.5h0M228.1 18.6h0M214.9 15.6h0M220.4 16.3h0M226.6 92.3h0M232.6 58.9h0M238.6 72.8h0M239 22.9h0M238.8 73.8h0M247.9 90.7h0M247.9 89.9h0M227.6 43.5h0M242.7 39h0M232.8 39.8h0M251.2 65.8h0M237.2 74.1h0M236.1 98.2h0M221.3 69.2h0M228 99.6h0M238.5 99h0M246.9 77.7h0M245.3 83.3h0M233.2 76.9h0M221.8 13.1h0M230.5 77.5h0M233.4 15.7h0M231.4 50.4h0M244.1 93.7h0M234.8 91.9h0M236.9 55.4h0M224.7 34.3h0M226.5 63.7h0M223.1 43.5h0M218.8 93.5h0M249.4 50.4h0M230.5 74.2h0M231.8 30.9h0M219.5 69.5h0M234.3 30.7h0M240.3 74.9h0M221.6 85.4h0M239.7 83.5h0M251.5 63.2h0M232 30.9h0M224.1 26.1h0M218.2 98.9h0M246 81.3h0M233.7 78.4h0M243 40.8h0M230.2 52.4h0M226.8 91.6h0M220.1 54.4h0M249 56.5h0M247.7 84.4h0M220.5 97.5h0M220.8 64h0M220.7 98.1h0M252.6 72.1h0M245 91.5h0M231.8 50.8h0M234.5 28.2h0M252.5 73.8h0M228.3 41h0M237.7 71.9h0M244.7 94.9h0M231.8 40.9h0M252 59.9h0M235.6 17.4h0M221.8 81.2h0M209.3 83.4h0M243.5 84.8h0M211.9 94.3h0M249.7 56.2h0M242.7 76.6h0M252.2 70.6h0M208.6 24h0M237.3 46.4h0M242 58.8h0M209.5 92.9h0M252.2 74.1h0M229.1 57.7h0M237.8 62.1h0M226.3 68h0M217 80h0M251.3 63.1h0M241.6 59.8h0M244.7 89.9h0M230.1 49.2h0M221.8 92.2h0M243.8 79.9h0M239.1 65.7h0M223.2 35.8h0M220.4 71.3h0M237.9 96.6h0M211.1 20.7h0M251.2 55.7h0M236.5 99.2h0M239.9 60.9h0M230.7 79.9h0M221.2 75.4h0M245.9 82.4h0M249.3 83.4h0M219.2 60.4h0M246.3 88.4h0M213.8 71.9h0M242.2 90.2h0M233.7 60.4h0M233.3 42.7h0M244 80.5h0M240.3 65.1h0M213.5 95.8h0M231.8 98.7h0M246.5 71.5h0M241.7 64.1h0M247.1 54.6h0M229.2 101.7h0M217.4 49.4h0M213 37.7h0M226 96h0M242.8 73.4h0M231 29.2h0M215.6 93.3h0M235.5 37.9h0M240.6 54.2h0M253.5 66h0M213.8 87.2h0M234.5 98.8h0M235.1 40.3h0M218.9 48.3h0M217.1 87.1h0M242.9 92.4h0M218.6 46.3h0M216.3 97.2h0M230.7 80.3h0M226.1 98.9h0M231.4 41.5h0M220.4 78h0M219.6 64.1h0M231.3 91.3h0M235 67.9h0M231.1 40.2h0M214.3 69.9h0M247.5 86.7h0M251.2 81.5h0M248.9 50.2h0M213.5 24.9h0M234.8 95.3h0M247.9 87.4h0M238.3 32.2h0M239.9 50.4h0M208.5 86.3h0M213.7 77.1h0M211.6 23.2h0M231.4 56.5h0M231.1 40.1h0M237.6 25.8h0M248.5 63h0M225.7 102h0M219 96.1h0M234.6 84.8h0M241.8 36.1h0M219.8 87h0M240.3 30.6h0M218 77.9h0M228.9 43.5h0M223.6 42.5h0M220 86.5h0M245.8 91.4h0M229.2 49.2h0M218.9 16.4h0M242.9 58.6h0M231.3 55.3h0M228.7 45.7h0M230.7 76.5h0M237.8 67.1h0M224.8 62.7h0M233.6 59.8h0M224.9 18h0M212.9 94.9h0M236.7 21.7h0M237 90.7h0M239.7 75.3h0M239.7 34.4h0M224.1 46.8h0M237.1 30.7h0M238.3 22.3h0M214.2 69.1h0M231.5 95.5h0M219.7 61.8h0M212.6 73.2h0M249.6 59.7h0M237.8 60h0M246.6 74.2h0M236.7 24.8h0M232.8 81h0M228.1 67.4h0M248.8 48.6h0M243.5 87h0M232.9 65.3h0M230.5 38.9h0M229.2 88.8h0M212.2 26h0M219 79.7h0M226.2 19.1h0M225.8 22.5h0M246.9 83.2h0M250.4 64.8h0M236.2 48.9h0M223.6 94.8h0M221.9 32h0M224.6 86.2h0M248.1 75.4h0M222.9 68.4h0M231.7 82.7h0M218.9 100.4h0M240.2 23.7h0M239.4 33.6h0M246 59.9h0M230.2 43.5h0M221.6 85.5h0M223.4 45.2h0M248.3 47.1h0M227.7 83.5h0M229.9 90.5h0M211.9 17.1h0M213.5 83.9h0M226.3 20h0M236.4 86.5h0M238 86.8h0M249.3 49.8h0M245.4 37.3h0M224.9 25.3h0M216 37.6h0M250.3 71.6h0M214.6 36.6h0M221.9 38.9h0M225.7 71.6h0M214.7 86.9h0M228.5 22.6h0M243.7 65.3h0M224.5 44.1h0M210.2 18.7h0M244.9 42.7h0M211.8 85.7h0M249.5 71h0M236.3 55.6h0M231.3 20.4h0M238.6 33.5h0M232.8 49.1h0M246.3 62.9h0M229.4 45.9h0M216.9 77.7h0M236.4 17.2h0M215.4 98.7h0M240.4 63.6h0M218.4 88.5h0M215.6 36.6h0M214.7 87.5h0M217.4 69.3h0M243.5 92.2h0M237.9 19.8h0M249.5 88.3h0M214.7 33h0M242.4 67h0M228.6 43.5h0M239.9 70.1h0M232.7 96.4h0M236 67.8h0M214.2 77.3h0M228.2 46.6h0M232 69.1h0M243.2 35.1h0M214.6 90.9h0M236.1 23.1h0M254 68.4h0M240 94.4h0M215.2 27.9h0M223.2 41.1h0M246.3 74.1h0M210.3 23.1h0M207.9 87.7h0M253.2 70.8h0M247.8 46.4h0M250.3 75.6h0M219.7 45.5h0M238.5 36.5h0M217.5 85.8h0M226.9 66.8h0M227.2 49.6h0M224.1 62.4h0M248.3 50.6h0M232.9 66.6h0M214.9 43.6h0M236.5 35.5h0M214.8 92.4h0M215.7 86.4h0M244.2 57h0M221.4 16.2h0M218.8 95.1h0M236.6 20.4h0M236.9 49.9h0M243.1 28.9h0M234.7 57.1h0M234.7 52.8h0M207.7 90.1h0M219.2 91.1h0M227.3 48.1h0M250.5 67.1h0M218.7 62h0M240.9 54.2h0M218.7 79.2h0M239.8 58h0M243.2 46.2h0M226.7 25.4h0M236.9 19.3h0M226.3 23h0M227.5 58h0M248 86.8h0M228.7 28.8h0M239.9 53.6h0M229.4 75h0M234 61h0M218.8 76.7h0M227.3 15.2h0M248.8 67.7h0M244.4 74.4h0M218.5 96.5h0M221.2 63.7h0M247.4 87.6h0M237.6 58.8h0M234.6 92.1h0M229.6 85.9h0M234.7 39h0M215.8 24.3h0M250.8 53.4h0M216.5 90.1h0M238.4 85.3h0M209.8 91.3h0M233.8 47.3h0M224.9 21h0M218.6 84h0M224.1 43.5h0M229.1 31.3h0M211 88.6h0M223.3 97.9h0M224.2 88.9h0M249.9 69.8h0M227.6 71.8h0M229.7 43.9h0M237.9 33.2h0M226.1 33.3h0M254.1 74.1h0M216.1 89.5h0M216.3 85.8h0M228.5 60.7h0M240 94h0M249.5 70.9h0M250 77h0M225.2 61.6h0M241.5 33h0M224.9 59.7h0M229.4 84.4h0M231 20.7h0M228.3 97.1h0M223.6 68.9h0M250.8 76.1h0M236.3 65h0M235.7 45.9h0M227.6 91h0M232 73.7h0M224.4 78.1h0M247.3 45.4h0M238.4 98.4h0M213.8 84.3h0M234.6 95.3h0M231.9 47.8h0M234.8 23.5h0M214 36.3h0M222.3 31h0M221.7 85.3h0M234.8 41.8h0M232.8 28.6h0M230.5 17.5h0M228.3 22.3h0M251.8 75.8h0M250.5 49.5h0M237 43.2h0M213.5 21.7h0M231.8 84.6h0M252.4 68.2h0M236.7 55.9h0M227.7 102.5h0M252.7 77.5h0M237.2 76.3h0M242.6 58.3h0M243.8 33.7h0M231.3 96.1h0M232.3 91.1h0M229 51.4h0M222.2 65.8h0M225.3 85.1h0M228.4 90.4h0M242.7 31.8h0M236.1 94.6h0M237.5 37.2h0M241.8 39.1h0M215.5 15.4h0M229 99.1h0M211.1 33.3h0M227.4 35.2h0M225.5 42.4h0M246.9 53h0M235.2 65.8h0M209.8 90.9h0M233 59.8h0M248.1 46.8h0M226.3 91.2h0M231.8 79.7h0M246.9 87.7h0M219.8 96.1h0M222.8 82h0M224.2 20.8h0M225.3 54.1h0M221 28h0M215.6 86.9h0M235.9 38.7h0M231.7 56h0M234 70.6h0M224.4 55.1h0M228.1 52.6h0M213.4 91.5h0M232.1 17.3h0M229.5 86.1h0M223.8 34h0M243 94h0M242.7 95.5h0M219.2 83h0M248.8 76h0M231 51.2h0M233.5 15.9h0M218.6 33.5h0M246.7 87.4h0M231 78.6h0M253.3 75.3h0M232.3 64.5h0M249.6 70.6h0M251.1 61.1h0M241 54.9h0M239.2 88.5h0M217.9 57.3h0" stroke="#6a88d4" stroke-width="1.2" stroke-linecap="round" stroke-opacity="0.8" fill="none"/>
<path d="M225.3 38.7h0M219.2 22.9h0M245.5 63.9h0M220.9 56h0M236.3 62h0M228.5 35.9h0M220.8 92.2h0M230.9 17.2h0M233.1 64.2h0M239.8 57.2h0M249.4 55h0M226.9 98.9h0M250.9 61.4h0M229.7 86.8h0M223.9 33.3h0M250.6 63.9h0M231.5 85.5h0M224.2 73.4h0M218.1 54.5h0M248.5 74.4h0M218.1 90h0M228.4 98.3h0M209.6 30.9h0M235.6 30.5h0M230.6 30.8h0M216.2 27.4h0M229.1 62.8h0M215 95.2h0M220.6 50.1h0M237.1 93.1h0M229.9 96h0M230.4 13.7h0M217.1 50.9h0M214.5 72.6h0M237.6 68.1h0M214.1 70h0M242.3 31h0M220.1 53.9h0M249.1 76.7h0M238.7 27.9h0M231.2 19.1h0M242.8 84.9h0M237.2 24h0M223.1 71h0M243.8 72.8h0M251.6 83.6h0M236.4 23.8h0M223.4 84.1h0M241.8 44.8h0M232.8 50.4h0M230.5 81.4h0M252.3 84.4h0M212.4 75.7h0M220.6 17.2h0M214.1 95.3h0M242.5 77.6h0M209.8 21.5h0M243.4 75.1h0M213.8 88.7h0M209.2 92.5h0M233.9 60.2h0M216.2 60.9h0M236.6 88.9h0M214.5 84.6h0M243.5 77h0M239.4 65.1h0M213.2 26.1h0M221.1 18.7h0M238.7 39.3h0M223.9 95h0M236.3 80.5h0M235.2 89.1h0M216 92.9h0M239.9 52.5h0M214.2 35.3h0M221.8 16.8h0M232.6 15h0M234.1 40.1h0M232.8 75h0M245.5 66.2h0M221.4 43.2h0M231.9 41.9h0M239.6 35.7h0M237 52.6h0M218.2 34.1h0M250.2 58.9h0M234.6 58.5h0M251.7 66.6h0M214.8 26.1h0M213.5 86.6h0M232.4 56.6h0M243 92.9h0M253.3 78h0M238.6 47.2h0M212.3 75.3h0M226 36h0M224.3 78.6h0M242.8 66.1h0M223.5 95.2h0M240.2 75.3h0M217.3 70.3h0M246.1 72.4h0M240.5 49.8h0M210.4 30h0M224.6 82.5h0M219.5 98.5h0M228.8 76.9h0M215.2 34.4h0M239.5 34.5h0M236.9 49h0M242.4 82.3h0M223.4 41.9h0M249.1 81h0M220.1 26.3h0M232.5 30h0M216.7 67.1h0M243.2 48.6h0M247.3 77.4h0M228.9 23.6h0M213.5 72.8h0M226.1 88.5h0M251 50.2h0M246.6 61.7h0M214.2 89.4h0M235.3 35.6h0M216.2 93h0M244.8 58.1h0M248.1 83.3h0M248.1 59.4h0M232.6 52.9h0M253 73.1h0M234.5 79.1h0M213.1 88.5h0M209.9 20.9h0M221.5 31.3h0M243.5 54.9h0M248.1 69.8h0M217.4 90.4h0M224.2 66.3h0M216.1 96h0M254 76.4h0M244.9 69.2h0M241.3 54.8h0M215.9 74.5h0M227.9 29.2h0M234 26.3h0M225.3 17.4h0M229.6 44h0M230.6 63.7h0M231.5 33.7h0M231.2 46.7h0M227.5 61.4h0M224.1 60.3h0M242.2 29.2h0M248.3 42.3h0M247.7 78.6h0M215.4 90.7h0M222.4 18.3h0M244.8 41.7h0M233.9 78.9h0M227.9 61.8h0M239.8 27.3h0M228.8 65.2h0M212.5 86.8h0M245.7 58.1h0M210.8 95h0M233.7 68.5h0M231.4 37h0M249.7 77.5h0M217.5 62.6h0M247.2 66h0M216.3 48h0M236.5 62.8h0M217.3 76h0M222.9 43.2h0M236.4 39.9h0M237.5 57.4h0M241.1 79.2h0M237.3 98.3h0M227.1 16.4h0M231.4 79.8h0M228.8 32.4h0M230.2 54.6h0M233.7 83.4h0M227.3 22.2h0M225 72.3h0M226.1 85.5h0M215.2 34.5h0M212.1 33.1h0M225.2 76h0M214.7 76h0M227.4 39.4h0M225.6 96.1h0M222.6 50.2h0M219.9 81.1h0M217.6 70.8h0M239 78.2h0M227.1 33.2h0M215.7 32.4h0M216.9 99.2h0M237.6 24.4h0M231.4 44h0M221.7 67h0M227.2 68.7h0M227.6 98.6h0M233 70.6h0M216.1 44.4h0M222.3 80.3h0M230.5 43.6h0M216 27.3h0M230.2 15.8h0M236.4 75.2h0M220.9 33.1h0M222.3 27.9h0M242.5 42.3h0M248.1 74.7h0M234.6 36h0M225 22.6h0M225.3 80.9h0M226.2 27.6h0M247.6 90.9h0M237.9 46.8h0M234.3 87.2h0M234.9 84.8h0M230.3 73.8h0M239.1 43.2h0M217.8 59h0M217.8 15.8h0M227.1 59.8h0M218.2 61.6h0M241.4 84.2h0M235.7 17.2h0M224.7 50h0M236.2 62.6h0M239.6 74.4h0M253.8 65.2h0M235 77.5h0M229.6 35.6h0M210.3 19.2h0M220.7 71.4h0M216.7 31.6h0M223.2 35.1h0M234.4 96.1h0M215.1 87h0M248.8 53.3h0M215.5 47.7h0M216.7 85.1h0M240.9 46.3h0M219.6 57.6h0M226.8 30h0M238.3 81.1h0M234.7 61.9h0M236.9 62.4h0M221 83.4h0M237.5 93.8h0M225.1 25.5h0M252.3 79.5h0M214.9 46.6h0M234.7 54h0M252.1 70.9h0M231.8 73.5h0M225.4 62.6h0M230.6 24.4h0M221.9 18.7h0M223.8 42.6h0M243.8 60.6h0M250.6 76.9h0M245.5 73.7h0M219.3 82.1h0M230.5 81.6h0M230.8 34.8h0M225.8 87h0M223.6 70.1h0M221.2 58.8h0M221.1 75.5h0M251.8 64.1h0M220.1 48.1h0M226.1 64.4h0M228.1 92.2h0M231.7 66.3h0M211.8 30.8h0M230.6 47.4h0M235.2 95.8h0M220.7 81.5h0M230.5 94.1h0M222 34.2h0M207.5 25.9h0M239 93h0M236.6 21.8h0M225.6 100.9h0M242.9 86.5h0M242.8 51.1h0M218.4 75.5h0M232.6 15.5h0M210.6 94.5h0M218.8 21.1h0M235.9 70.5h0M229.5 23.7h0M221.5 39.3h0M235.5 83.1h0M225.1 91.1h0M247.8 45.1h0M218.3 75.7h0M239.4 94.1h0M233.5 39.1h0M232.2 91.6h0M221.9 47.1h0M242.7 67.3h0M211.1 22.3h0M234.5 27.1h0M248 41.7h0M242.2 38.2h0M239.2 58h0M212.4 36.1h0M225 96.4h0M230.6 85.9h0M243.8 41.8h0M220 100.5h0M228.9 43.2h0M232.3 84.7h0M230.4 22h0M225.3 14.8h0M221.6 54.5h0M232 29.3h0M242.7 30.9h0M219.7 17.2h0M226.9 39.4h0M224.6 39.2h0M225.6 25.8h0M236.6 62h0M228.4 90.6h0M209.6 93.7h0M250.2 61.6h0M218 54.5h0M222.2 49h0M212.1 16.9h0M216.2 19h0M248.1 54.5h0M218.4 21.4h0M232.5 19.3h0M235.7 29.9h0M228 79.3h0M244.1 60.3h0M214.6 75.7h0M217.6 88.9h0M221.2 45.6h0M245.3 90.4h0M247.3 85h0M238.2 50.9h0M245.7 85h0M234.1 36.6h0M230.7 72.7h0M241.9 85.6h0M235.6 69.8h0M243.4 65.2h0M213.2 91.7h0M219.7 71h0M239 53.7h0M246.4 75.8h0M243.4 82.2h0M236.3 17.2h0M229.3 62.7h0M242.4 87.2h0M226.6 74.3h0M227.1 73.7h0M242.3 37.1h0M210.5 30.4h0M225.5 56.8h0M226.6 94.7h0M223.9 73.1h0M233.5 80.5h0M241.5 44h0M209.9 95.7h0M224.1 20.6h0M229.6 39.4h0M254.1 75.1h0M209.3 23.3h0M234.7 66.7h0M244.4 58.5h0M249.6 83.6h0M223.2 58.7h0M231.3 36.8h0M229 47.1h0M212.3 87.1h0M219.5 22.6h0M235.4 97h0M221.8 76.9h0M235.9 94.6h0M238.5 88.5h0M238.9 66.5h0M208.3 26.5h0M245.6 39.8h0M233.4 75.7h0M245.5 64.1h0M222.3 47.4h0M246.1 43.8h0M234.3 19.5h0M228.5 19.6h0M240.3 68.4h0M224.1 86.8h0M226.4 20.2h0M240.3 36.4h0M243.8 93.4h0M232.8 35.3h0M249.3 78.2h0M230.2 68h0M234.2 63h0M232.3 88.6h0M236.6 20.2h0M210.4 25.5h0M215.6 83.3h0M225.4 102.2h0M243.9 82.2h0M226.3 44.6h0M249 81.7h0M224.5 66.2h0M224.4 64.1h0M219.6 37h0M231.6 33.1h0M220.2 64.7h0M247.1 44.2h0M228.4 93.4h0M213.6 23.9h0M232.5 93.5h0M237.6 47.2h0M236.9 30.5h0M224.7 42.6h0M241.9 76h0M235.1 79.5h0M238 79.8h0M250.6 84.7h0M220 94.5h0M240.4 62.8h0M224.2 93.3h0M243.8 65.6h0M244.9 92.1h0M244 76h0M238.4 85.4h0M235.1 40.7h0M223.4 28.6h0M228.4 63.5h0M232.1 89.6h0M237.6 77.7h0M249.5 73.4h0M222.8 22.5h0M239.5 27h0M237.2 18h0M219.2 91.3h0M244.6 49.4h0M227.7 84.6h0M232.6 44.6h0M238.1 62.4h0M235.8 84.1h0M229.4 65.5h0M211.4 32.1h0M216.5 45.3h0M247.3 81.4h0M244.7 38.2h0M217.6 22.5h0M238.3 62.8h0M225.3 85h0M229.5 89.4h0M234 93.6h0M249.3 70.7h0M226.5 33.3h0M234 22.5h0M231.3 26.1h0M235.6 63.4h0M220.8 14.5h0M235.4 24.5h0M235.7 22.1h0M228 20.2h0M217.1 53.2h0M224.4 96.7h0M238.2 22.9h0M229.6 55.1h0M229.4 95.3h0M221.4 90.3h0M219.9 47.7h0M218.7 39.5h0M228.5 84.8h0M226.9 66.7h0M235.5 21.8h0M247.6 55h0M229.6 75.3h0M239 33.1h0M251.3 64.4h0M234 75.4h0M216.2 85.5h0M242.3 28.4h0M224.8 74h0M211.4 21.6h0M233 42.8h0M213.9 27.6h0M220 52h0M216.4 42.6h0M231.5 52.5h0M251.6 51.9h0M226.6 63.9h0M240.5 95.3h0M234.5 45.6h0M215.5 77.7h0M237.6 53.6h0M249 62.5h0M242.7 54.4h0M212.1 81.8h0M235.5 75.1h0M231.5 16.4h0M247.9 55h0M232.3 55.4h0M210.2 22.8h0M233.1 14.9h0M219.6 73.1h0M232.6 46.4h0M231.1 49.6h0M231.3 36h0M229 65.2h0M216.7 66.7h0M222.8 67h0M207.7 24.1h0M221 22h0M243.2 31.9h0M232.6 38.6h0M240.1 28.3h0M247 63.7h0M226.2 18.2h0M230.2 55h0M220 89.5h0M243 40.6h0M216.9 66h0M228.2 17.6h0M232.1 61.6h0M240.4 55h0M215.3 43h0M235.6 22.6h0M229.9 87.8h0M235.8 71.7h0M241.4 89.9h0M217.2 68.1h0M219.7 96.7h0M210 31.9h0M233.6 62.6h0M244.3 65.8h0M238.4 94.7h0M232.2 26.8h0M233.1 20.7h0M237.7 53.2h0M214.3 20.8h0M245 94.7h0M237.1 57.9h0M232.2 36.9h0M239.8 87.6h0M214.9 81.2h0M220.8 55.7h0M245 63.6h0M219.9 84h0M234.8 87.8h0M251.5 56.5h0M216.5 96.8h0M215.3 24.6h0M232.4 60.9h0M237.9 29.5h0M251.2 75.7h0M235.1 80.5h0M228.2 83.4h0M221.8 58.5h0M228 47.2h0M220.4 72.8h0M242.8 61.2h0M221.3 62.2h0M236.8 50h0M230.9 68h0M238.4 56.2h0M252 78h0M235.9 73h0M216.1 96.1h0M226.9 101.5h0M232.8 71.9h0M217.9 61.5h0M243.5 48h0M222.8 47.4h0M228.3 45.2h0M217.3 42.1h0M228.2 53.2h0M226.6 43.7h0M247.8 45.2h0M231.9 82.8h0" stroke="#a8bce8" stroke-width="1.2" stroke-linecap="round" stroke-opacity="0.8" fill="none"/>
<path d="M210.8 88.1h0M210.7 90.9h0M211.1 88.3h0M210.4 85.6h0M208.5 81.4h0M207.8 89.6h0M212 77.4h0M208 88.2h0M211.5 91.7h0M209.9 78.7h0M209.3 88.8h0M210.9 81.1h0M211.1 81.1h0M208.7 91.4h0M209.4 80.1h0M210.3 85.8h0M207.3 87.7h0" stroke="#e080d8" stroke-width="1.2" stroke-linecap="round" stroke-opacity="0.8" fill="none"/>
<path d="M226.3 29.4h0M247.8 67.8h0M236.8 65.9h0M253 66h0M250 87.5h0M242 49.4h0M236.8 70h0M235.4 53.6h0M217.8 76.9h0M163.4 62.9h0M160.7 66.5h0M167.3 63.7h0M206.6 80.8h0M201.6 75.2h0M199.5 71.4h0M198.2 70.1h0M191 66.2h0M203.6 76.4h0M195.4 68.7h0M194.1 67.8h0M201.2 73.5h0M197.1 71.1h0M198.2 70.7h0M205.6 81h0M190.6 66.4h0M203.5 74.7h0M192 67.9h0M203.9 74.6h0M186.8 64.1h0M199.6 70.5h0M202.7 74.5h0M201 26h0M184.1 30.2h0M191.6 23.3h0M184.2 30.3h0M207.6 31.9h0M204.6 27.7h0M194.7 23h0M187.6 25.1h0M186.2 26.9h0M204.8 29.4h0" stroke="#e070d8" stroke-width="1.2" stroke-linecap="round" stroke-opacity="0.8" fill="none"/>
<path d="M209.5 29.3h0M211 28.8h0M210.4 31.7h0M207.7 26.4h0M208.8 19.9h0M210.1 22.4h0M208 27.8h0M209.2 21h0" stroke="#e8a0e0" stroke-width="1.2" stroke-linecap="round" stroke-opacity="0.8" fill="none"/>
<path d="M172.1 56.5h0M165.8 68.5h0M177 61.8h0M180.6 58.5h0M177.3 55.9h0M176.3 53.8h0M172.2 59.4h0M167.3 67.6h0M160 65.2h0M179.6 53.3h0M163.4 67.4h0M181.7 56.4h0M169.2 57h0M178.9 54.8h0M160.1 60.7h0M164.4 68.8h0M162.7 67.6h0M171.2 60.8h0M172.5 60.7h0" stroke="#f0e090" stroke-width="1.2" stroke-linecap="round" stroke-opacity="0.8" fill="none"/>
<path d="M174.8 53.9h0M178.7 53.8h0M161.1 65.5h0M175.6 62.8h0M178.9 53.5h0M168.4 57.1h0M165.3 62.7h0M177.2 57.3h0M166.3 58.5h0M174 57.7h0M163.5 64.8h0M172.3 56.8h0M174.5 56.7h0M168.7 59.3h0M167.1 58.4h0M161 68h0M169.5 62.5h0M164.2 65.8h0M171.2 61.6h0M168.8 66h0M182.3 51.9h0M171.1 65.7h0M183.3 57.8h0M173.4 57h0M177 59.9h0M163.3 66.9h0" stroke="#e0cc60" stroke-width="1.2" stroke-linecap="round" stroke-opacity="0.8" fill="none"/>
<path d="M169.1 59.2h0M167 62.1h0M180.8 60.9h0M181.5 58h0M171.7 57h0M172.2 58.1h0M171.6 59.5h0M161.9 67.2h0M177 54.4h0M162.7 63.4h0M177.3 58.4h0M172.5 63.3h0M169.1 65.2h0M165.7 64h0M163.6 61.7h0M174.9 60.6h0M166.2 65.2h0M171.3 62.7h0M163.1 59.2h0M163.1 65.7h0M170.9 66.1h0M176.8 60.5h0" stroke="#c8b048" stroke-width="1.2" stroke-linecap="round" stroke-opacity="0.8" fill="none"/>
<path d="M181.4 50.7h0M167.2 67.8h0M175.4 53.6h0M159.7 65.4h0M183 60.8h0M175.7 63.6h0M164.5 58.1h0M177.8 52.8h0M180.4 61.8h0M171.3 66.5h0M167 56.2h0M184.5 58.3h0M158.4 64h0M179.6 51.4h0M176.2 63.2h0M183.6 54.4h0M164.1 59.6h0M182.1 51.4h0M170.2 66.6h0M184.4 56.4h0M169.4 66.3h0M176.8 52.8h0M184.3 59h0M172.7 54.7h0M171.3 54.8h0M171.8 66.6h0M182.2 62.4h0M184.3 56.1h0M163.8 69.3h0" stroke="#e8d470" stroke-width="1.2" stroke-linecap="round" stroke-opacity="0.8" fill="none"/>
<path d="M185 59.3h0M160.2 67.1h0M173.3 64.4h0M176.4 63.2h0M168.7 55.8h0M181.8 51.9h0M168.6 67.6h0M163.4 68.9h0M171.4 66.1h0M183.2 52.5h0M176.6 63.4h0M172.9 55.2h0M159.6 65.5h0M163.6 59h0M167.1 57.8h0M176.5 54.2h0M165.7 68.5h0M167.4 57.1h0M159.6 68.8h0M163.5 70.2h0M159.5 63.2h0M171.3 66.7h0M176.9 63.5h0M160.5 67.9h0M172.8 65.6h0M159.1 60.7h0M181.2 61.5h0M184.3 53.1h0M180.9 50.4h0M163.3 59.5h0M184.5 57h0M161.6 69.2h0M180.2 51.5h0M164.7 68.9h0M168.8 56.5h0M180.7 60.7h0M163.9 69.1h0M184.6 56.5h0M181.3 61.7h0M182.7 61.2h0M162.3 59.6h0M175 54.2h0M177.1 63.7h0M175.8 64h0M183.6 51.6h0" stroke="#d0b848" stroke-width="1.2" stroke-linecap="round" stroke-opacity="0.8" fill="none"/>
<path d="M176.4 63.5h0M162.3 59.8h0M167.9 57h0M163.6 59.6h0M184.3 56h0M184.3 55h0M172.2 54.5h0M180.4 50.5h0M175.5 53.5h0M182.9 51.7h0M171 55h0M178.6 52.2h0M168.7 55.2h0M182.8 60.6h0M169.7 66.7h0M183.5 53.4h0M167.5 57.5h0M178.5 62.4h0M159 66.1h0M167 68.4h0M159.6 61.2h0M177.8 64.5h0M160.5 68.6h0M171.7 55.1h0M166.1 57.4h0M173.7 55h0" stroke="#a89838" stroke-width="1.2" stroke-linecap="round" stroke-opacity="0.8" fill="none"/>
<path d="M204.1 75.7h0M208.9 82.9h0M192 67.6h0M196.5 70.9h0M187 65.6h0M186.6 64.7h0M196.2 69.3h0" stroke="#a07088" stroke-width="1.2" stroke-linecap="round" stroke-opacity="0.8" fill="none"/>
<path d="M196 68.4h0M202.2 73.6h0M202.2 74h0M201.7 72.7h0M190.4 67.1h0M198.1 70.3h0M207.7 83.8h0M204.7 76.7h0M194.3 68.8h0M202.9 74.9h0M195.9 69.5h0M188 64.8h0M205.2 77.8h0M195.3 67.5h0" stroke="#d05078" stroke-width="1.2" stroke-linecap="round" stroke-opacity="0.8" fill="none"/>
<path d="M186 26.1h0M185.6 26.4h0M199.9 24.9h0M194.3 22.9h0M196.9 23.7h0M203 27.1h0M199.1 24.4h0M207.1 30.8h0M198.6 23.7h0M197.6 23.5h0M186.1 28.3h0M204.7 28.3h0M183.9 31.6h0M203.2 26.6h0" stroke="#f0a8e8" stroke-width="1.2" stroke-linecap="round" stroke-opacity="0.8" fill="none"/>
<path d="M151.2 54V111.3H207" stroke="#000" stroke-width="1.6" fill="none"/>
<path d="M151.2 49L147.4 55.4L155 55.4Z" fill="#000"/>
<path d="M212 111.3L205.6 107.5L205.6 115.1Z" fill="#000"/>
<text x="161.2" y="33.4" font-size="7.3" text-anchor="start" font-weight="normal">LN</text>
<text transform="translate(143.5 80.9) rotate(-90)" font-size="7.8" text-anchor="middle">UMAP 2</text>
<text x="165" y="125.5" font-size="7.5" text-anchor="start" font-weight="normal">UMAP 1</text>
<text x="263.4" y="141.9" font-size="7.6" text-anchor="middle" font-weight="normal">Cell identity</text>
<circle cx="201.3" cy="155" r="2.2" fill="#3a8a4a"/>
<text x="206.6" y="157.6" font-size="7.3" text-anchor="start" font-weight="normal">Proliferating CLL</text>
<circle cx="201.3" cy="163.8" r="2.2" fill="#d070d8"/>
<text x="206.6" y="166.4" font-size="7.3" text-anchor="start" font-weight="normal">Activated CLL</text>
<circle cx="201.3" cy="172.6" r="2.2" fill="#102890"/>
<text x="206.6" y="175.2" font-size="7.3" text-anchor="start" font-weight="normal">Quiescent CLL</text>
<circle cx="270.2" cy="155" r="2.2" fill="#8a1a5a"/>
<text x="275.5" y="157.6" font-size="7.3" text-anchor="start" font-weight="normal">Cytotoxic T cells</text>
<circle cx="270.2" cy="163.8" r="2.2" fill="#c8904a"/>
<text x="275.5" y="166.4" font-size="7.3" text-anchor="start" font-weight="normal">Other T cells</text>
<circle cx="270.2" cy="172.6" r="2.2" fill="#80e0f0"/>
<text x="275.5" y="175.2" font-size="7.3" text-anchor="start" font-weight="normal">Monocytes</text>
<defs><pattern id="gr" width="2" height="2" patternUnits="userSpaceOnUse"><rect width="1" height="1" fill="#16204a" shape-rendering="crispEdges"/></pattern>
<pattern id="gk" width="2" height="2" patternUnits="userSpaceOnUse"><rect width="1" height="1" fill="#111" shape-rendering="crispEdges"/></pattern>
<pattern id="gs" width="2" height="2" patternUnits="userSpaceOnUse" patternTransform="rotate(60)"><rect width="2" height="1.05" fill="#111"/></pattern>
<pattern id="gv" width="2" height="2" patternUnits="userSpaceOnUse" patternTransform="rotate(85)"><rect width="2" height="1.1" fill="#111"/></pattern>
<pattern id="gd" width="1.8" height="1.8" patternUnits="userSpaceOnUse" patternTransform="rotate(40)"><rect width="1.8" height="1.05" fill="#111"/></pattern>
<clipPath id="cc"><path d="M344.8 12.1L351 11L358.1 11.3L365 12.3L371.3 14.6L377.5 21L382.9 29.5L386.5 37L388.7 46L389.5 58L389.5 70.9L387.8 81L384.5 90.7L378.5 97.5L371.3 102.3L363 103.6L354.8 103.1L347.5 99.5L341.5 94L339.5 86L339.9 79.1L342 72L344 65.9L345 58L345.3 51L345 46L344.5 41.1L344 36L342 33L341.5 25L342 18L343 14Z"/></clipPath><clipPath id="ca"><path d="M312.5 24L316 21.5L321 20.2L328 18.4L335 16.8L343 14.5L345 20L345.5 30L346 38L342 40L336 40.5L330 41L322 41L315 41L312 38L311.5 30Z"/></clipPath></defs>
<path d="M344.8 12.1L351 11L358.1 11.3L365 12.3L371.3 14.6L377.5 21L382.9 29.5L386.5 37L388.7 46L389.5 58L389.5 70.9L387.8 81L384.5 90.7L378.5 97.5L371.3 102.3L363 103.6L354.8 103.1L347.5 99.5L341.5 94L339.5 86L339.9 79.1L342 72L344 65.9L345 58L345.3 51L345 46L344.5 41.1L344 36L342 33L341.5 25L342 18L343 14Z" fill="#7e9ce2"/>
<g clip-path="url(#ca)"><path d="M318 21L345 16L346 31L318 29Z" fill="#d8a0d8" opacity="0.55"/><path d="M332 18L346 16L346 34L332 32Z" fill="#c070c0" opacity="0.5"/></g>
<path d="M312 24h1v1h-1zM313 25h1v1h-1zM312 26h1v1h-1zM312 30h1v1h-1zM312 36h1v1h-1zM314 24h1v1h-1zM314 26h1v1h-1zM315 27h1v1h-1zM314 32h1v1h-1zM314 34h1v1h-1zM314 36h1v1h-1zM314 38h1v1h-1zM314 40h1v1h-1zM316 22h1v1h-1zM316 26h1v1h-1zM316 28h1v1h-1zM316 30h1v1h-1zM316 32h1v1h-1zM316 34h1v1h-1zM316 36h1v1h-1zM316 38h1v1h-1zM318 22h1v1h-1zM319 23h1v1h-1zM318 24h1v1h-1zM318 28h1v1h-1zM318 30h1v1h-1zM318 32h1v1h-1zM318 34h1v1h-1zM318 36h1v1h-1zM318 38h1v1h-1zM320 20h1v1h-1zM320 22h1v1h-1zM320 24h1v1h-1zM321 25h1v1h-1zM320 26h1v1h-1zM320 28h1v1h-1zM320 32h1v1h-1zM320 40h1v1h-1zM322 22h1v1h-1zM322 24h1v1h-1zM323 25h1v1h-1zM322 26h1v1h-1zM322 28h1v1h-1zM322 32h1v1h-1zM322 34h1v1h-1zM322 36h1v1h-1zM322 38h1v1h-1zM324 20h1v1h-1zM324 22h1v1h-1zM324 24h1v1h-1zM324 26h1v1h-1zM325 27h1v1h-1zM324 28h1v1h-1zM324 32h1v1h-1zM324 34h1v1h-1zM324 40h1v1h-1zM326 20h1v1h-1zM326 22h1v1h-1zM326 24h1v1h-1zM326 26h1v1h-1zM326 28h1v1h-1zM326 30h1v1h-1zM326 34h1v1h-1zM326 38h1v1h-1zM326 40h1v1h-1zM328 18h1v1h-1zM328 20h1v1h-1zM328 22h1v1h-1zM328 24h1v1h-1zM328 26h1v1h-1zM328 28h1v1h-1zM328 32h1v1h-1zM328 40h1v1h-1zM330 18h1v1h-1zM330 20h1v1h-1zM331 21h1v1h-1zM330 24h1v1h-1zM330 26h1v1h-1zM330 30h1v1h-1zM330 36h1v1h-1zM332 18h1v1h-1zM332 20h1v1h-1zM333 21h1v1h-1zM332 22h1v1h-1zM332 26h1v1h-1zM332 28h1v1h-1zM332 32h1v1h-1zM332 36h1v1h-1zM332 38h1v1h-1zM334 18h1v1h-1zM334 20h1v1h-1zM334 22h1v1h-1zM334 24h1v1h-1zM334 26h1v1h-1zM335 27h1v1h-1zM334 30h1v1h-1zM334 34h1v1h-1zM334 38h1v1h-1zM334 40h1v1h-1zM336 18h1v1h-1zM336 20h1v1h-1zM337 21h1v1h-1zM336 22h1v1h-1zM336 24h1v1h-1zM336 26h1v1h-1zM337 27h1v1h-1zM336 28h1v1h-1zM336 30h1v1h-1zM336 32h1v1h-1zM336 36h1v1h-1zM336 38h1v1h-1zM338 16h1v1h-1zM339 17h1v1h-1zM338 18h1v1h-1zM338 20h1v1h-1zM338 22h1v1h-1zM338 24h1v1h-1zM338 26h1v1h-1zM339 27h1v1h-1zM338 30h1v1h-1zM338 34h1v1h-1zM338 38h1v1h-1zM340 16h1v1h-1zM340 18h1v1h-1zM340 20h1v1h-1zM340 22h1v1h-1zM340 24h1v1h-1zM340 26h1v1h-1zM340 30h1v1h-1zM340 36h1v1h-1zM340 38h1v1h-1zM342 18h1v1h-1zM343 19h1v1h-1zM342 20h1v1h-1zM343 21h1v1h-1zM342 22h1v1h-1zM343 23h1v1h-1zM342 24h1v1h-1zM343 25h1v1h-1zM342 26h1v1h-1zM342 28h1v1h-1zM342 30h1v1h-1zM342 32h1v1h-1zM342 38h1v1h-1zM344 20h1v1h-1zM345 21h1v1h-1zM344 22h1v1h-1zM345 23h1v1h-1zM344 24h1v1h-1zM344 26h1v1h-1zM344 28h1v1h-1zM344 30h1v1h-1z" fill="#111" fill-opacity="0.85" shape-rendering="crispEdges"/>
<g clip-path="url(#cc)"><ellipse cx="342" cy="30" rx="6" ry="9" fill="#c050b0" opacity="0.55"/><path d="M338 72L348 80L348 100L338 92Z" fill="#c050a8" opacity="0.45"/></g>
<path d="M336 84h1v1h-1zM336 92h1v1h-1zM338 22h1v1h-1zM338 28h1v1h-1zM338 74h1v1h-1zM338 76h1v1h-1zM338 88h1v1h-1zM338 96h1v1h-1zM340 14h1v1h-1zM340 16h1v1h-1zM340 32h1v1h-1zM340 34h1v1h-1zM340 68h1v1h-1zM340 70h1v1h-1zM340 72h1v1h-1zM340 78h1v1h-1zM340 80h1v1h-1zM340 82h1v1h-1zM340 84h1v1h-1zM340 86h1v1h-1zM340 88h1v1h-1zM340 90h1v1h-1zM342 14h1v1h-1zM342 16h1v1h-1zM342 18h1v1h-1zM342 20h1v1h-1zM342 22h1v1h-1zM342 24h1v1h-1zM342 26h1v1h-1zM342 28h1v1h-1zM342 30h1v1h-1zM342 32h1v1h-1zM342 38h1v1h-1zM342 42h1v1h-1zM342 44h1v1h-1zM342 56h1v1h-1zM342 62h1v1h-1zM342 64h1v1h-1zM342 66h1v1h-1zM342 70h1v1h-1zM342 72h1v1h-1zM342 74h1v1h-1zM342 76h1v1h-1zM342 78h1v1h-1zM342 80h1v1h-1zM342 82h1v1h-1zM342 84h1v1h-1zM342 86h1v1h-1zM342 88h1v1h-1zM342 90h1v1h-1zM342 94h1v1h-1zM342 96h1v1h-1zM342 98h1v1h-1zM344 12h1v1h-1zM344 14h1v1h-1zM344 16h1v1h-1zM344 18h1v1h-1zM344 20h1v1h-1zM344 22h1v1h-1zM344 24h1v1h-1zM344 26h1v1h-1zM344 28h1v1h-1zM344 30h1v1h-1zM344 32h1v1h-1zM344 34h1v1h-1zM344 36h1v1h-1zM344 38h1v1h-1zM344 40h1v1h-1zM344 46h1v1h-1zM344 48h1v1h-1zM344 50h1v1h-1zM344 54h1v1h-1zM344 60h1v1h-1zM344 62h1v1h-1zM344 64h1v1h-1zM344 66h1v1h-1zM344 68h1v1h-1zM344 70h1v1h-1zM344 72h1v1h-1zM344 74h1v1h-1zM344 76h1v1h-1zM344 78h1v1h-1zM344 80h1v1h-1zM344 82h1v1h-1zM344 84h1v1h-1zM344 86h1v1h-1zM344 88h1v1h-1zM344 90h1v1h-1zM344 92h1v1h-1zM344 94h1v1h-1zM344 96h1v1h-1zM344 98h1v1h-1zM346 12h1v1h-1zM346 14h1v1h-1zM346 16h1v1h-1zM346 18h1v1h-1zM346 20h1v1h-1zM346 22h1v1h-1zM346 24h1v1h-1zM346 26h1v1h-1zM346 28h1v1h-1zM346 30h1v1h-1zM346 32h1v1h-1zM346 34h1v1h-1zM346 36h1v1h-1zM346 38h1v1h-1zM346 40h1v1h-1zM346 42h1v1h-1zM346 44h1v1h-1zM346 46h1v1h-1zM346 48h1v1h-1zM346 50h1v1h-1zM346 52h1v1h-1zM346 54h1v1h-1zM346 56h1v1h-1zM346 60h1v1h-1zM346 62h1v1h-1zM346 64h1v1h-1zM346 66h1v1h-1zM346 68h1v1h-1zM346 70h1v1h-1zM346 72h1v1h-1zM346 74h1v1h-1zM346 78h1v1h-1zM346 80h1v1h-1zM346 82h1v1h-1zM346 84h1v1h-1zM346 86h1v1h-1zM346 88h1v1h-1zM346 92h1v1h-1zM346 94h1v1h-1zM346 96h1v1h-1zM346 98h1v1h-1zM348 12h1v1h-1zM348 14h1v1h-1zM348 16h1v1h-1zM348 18h1v1h-1zM348 20h1v1h-1zM348 22h1v1h-1zM348 24h1v1h-1zM348 28h1v1h-1zM348 32h1v1h-1zM348 34h1v1h-1zM348 36h1v1h-1zM348 38h1v1h-1zM348 40h1v1h-1zM348 42h1v1h-1zM348 44h1v1h-1zM348 46h1v1h-1zM348 48h1v1h-1zM348 50h1v1h-1zM348 52h1v1h-1zM348 54h1v1h-1zM348 56h1v1h-1zM348 58h1v1h-1zM348 60h1v1h-1zM348 62h1v1h-1zM348 64h1v1h-1zM348 66h1v1h-1zM348 70h1v1h-1zM348 72h1v1h-1zM348 76h1v1h-1zM348 78h1v1h-1zM348 80h1v1h-1zM348 84h1v1h-1zM348 86h1v1h-1zM348 88h1v1h-1zM348 90h1v1h-1zM348 92h1v1h-1zM348 94h1v1h-1zM348 96h1v1h-1zM348 98h1v1h-1zM350 8h1v1h-1zM350 12h1v1h-1zM350 14h1v1h-1zM350 16h1v1h-1zM350 18h1v1h-1zM350 20h1v1h-1zM350 24h1v1h-1zM350 26h1v1h-1zM350 28h1v1h-1zM350 30h1v1h-1zM350 32h1v1h-1zM350 34h1v1h-1zM350 36h1v1h-1zM350 38h1v1h-1zM350 40h1v1h-1zM350 42h1v1h-1zM350 44h1v1h-1zM350 46h1v1h-1zM350 48h1v1h-1zM350 54h1v1h-1zM350 56h1v1h-1zM350 58h1v1h-1zM350 62h1v1h-1zM350 64h1v1h-1zM350 68h1v1h-1zM350 72h1v1h-1zM350 74h1v1h-1zM350 76h1v1h-1zM350 78h1v1h-1zM350 80h1v1h-1zM350 82h1v1h-1zM350 90h1v1h-1zM350 92h1v1h-1zM350 94h1v1h-1zM350 96h1v1h-1zM350 100h1v1h-1zM352 12h1v1h-1zM352 14h1v1h-1zM352 16h1v1h-1zM352 22h1v1h-1zM352 24h1v1h-1zM352 26h1v1h-1zM352 28h1v1h-1zM352 30h1v1h-1zM352 32h1v1h-1zM352 36h1v1h-1zM352 38h1v1h-1zM352 40h1v1h-1zM352 44h1v1h-1zM352 46h1v1h-1zM352 48h1v1h-1zM352 56h1v1h-1zM352 58h1v1h-1zM352 60h1v1h-1zM352 62h1v1h-1zM352 64h1v1h-1zM352 68h1v1h-1zM352 78h1v1h-1zM352 80h1v1h-1zM352 88h1v1h-1zM352 90h1v1h-1zM352 92h1v1h-1zM352 96h1v1h-1zM352 98h1v1h-1zM352 100h1v1h-1zM352 102h1v1h-1zM354 10h1v1h-1zM354 12h1v1h-1zM354 14h1v1h-1zM354 18h1v1h-1zM354 20h1v1h-1zM354 24h1v1h-1zM354 28h1v1h-1zM354 30h1v1h-1zM354 32h1v1h-1zM354 34h1v1h-1zM354 46h1v1h-1zM354 50h1v1h-1zM354 52h1v1h-1zM354 54h1v1h-1zM354 56h1v1h-1zM354 62h1v1h-1zM354 66h1v1h-1zM354 70h1v1h-1zM354 74h1v1h-1zM354 76h1v1h-1zM354 78h1v1h-1zM354 82h1v1h-1zM354 86h1v1h-1zM354 90h1v1h-1zM354 92h1v1h-1zM354 96h1v1h-1zM354 98h1v1h-1zM354 100h1v1h-1zM354 102h1v1h-1zM354 106h1v1h-1zM356 12h1v1h-1zM356 14h1v1h-1zM356 16h1v1h-1zM356 18h1v1h-1zM356 20h1v1h-1zM356 22h1v1h-1zM356 24h1v1h-1zM356 26h1v1h-1zM356 28h1v1h-1zM356 30h1v1h-1zM356 32h1v1h-1zM356 34h1v1h-1zM356 50h1v1h-1zM356 52h1v1h-1zM356 58h1v1h-1zM356 60h1v1h-1zM356 66h1v1h-1zM356 70h1v1h-1zM356 72h1v1h-1zM356 76h1v1h-1zM356 78h1v1h-1zM356 80h1v1h-1zM356 82h1v1h-1zM356 88h1v1h-1zM356 90h1v1h-1zM356 94h1v1h-1zM356 96h1v1h-1zM356 98h1v1h-1zM356 102h1v1h-1zM358 8h1v1h-1zM358 10h1v1h-1zM358 12h1v1h-1zM358 14h1v1h-1zM358 16h1v1h-1zM358 20h1v1h-1zM358 24h1v1h-1zM358 26h1v1h-1zM358 32h1v1h-1zM358 34h1v1h-1zM358 36h1v1h-1zM358 38h1v1h-1zM358 40h1v1h-1zM358 44h1v1h-1zM358 46h1v1h-1zM358 48h1v1h-1zM358 50h1v1h-1zM358 52h1v1h-1zM358 54h1v1h-1zM358 56h1v1h-1zM358 58h1v1h-1zM358 62h1v1h-1zM358 68h1v1h-1zM358 72h1v1h-1zM358 76h1v1h-1zM358 80h1v1h-1zM358 84h1v1h-1zM358 86h1v1h-1zM358 88h1v1h-1zM358 90h1v1h-1zM358 92h1v1h-1zM358 94h1v1h-1zM358 96h1v1h-1zM358 98h1v1h-1zM358 100h1v1h-1zM358 102h1v1h-1zM360 12h1v1h-1zM360 14h1v1h-1zM360 16h1v1h-1zM360 18h1v1h-1zM360 20h1v1h-1zM360 22h1v1h-1zM360 24h1v1h-1zM360 26h1v1h-1zM360 28h1v1h-1zM360 30h1v1h-1zM360 32h1v1h-1zM360 36h1v1h-1zM360 38h1v1h-1zM360 40h1v1h-1zM360 44h1v1h-1zM360 46h1v1h-1zM360 48h1v1h-1zM360 50h1v1h-1zM360 54h1v1h-1zM360 56h1v1h-1zM360 60h1v1h-1zM360 62h1v1h-1zM360 66h1v1h-1zM360 74h1v1h-1zM360 76h1v1h-1zM360 80h1v1h-1zM360 82h1v1h-1zM360 86h1v1h-1zM360 88h1v1h-1zM360 92h1v1h-1zM360 94h1v1h-1zM360 98h1v1h-1zM360 100h1v1h-1zM360 102h1v1h-1zM360 104h1v1h-1zM362 8h1v1h-1zM362 12h1v1h-1zM362 14h1v1h-1zM362 16h1v1h-1zM362 18h1v1h-1zM362 20h1v1h-1zM362 22h1v1h-1zM362 24h1v1h-1zM362 26h1v1h-1zM362 30h1v1h-1zM362 32h1v1h-1zM362 34h1v1h-1zM362 38h1v1h-1zM362 40h1v1h-1zM362 42h1v1h-1zM362 46h1v1h-1zM362 50h1v1h-1zM362 52h1v1h-1zM362 54h1v1h-1zM362 60h1v1h-1zM362 66h1v1h-1zM362 68h1v1h-1zM362 70h1v1h-1zM362 72h1v1h-1zM362 76h1v1h-1zM362 80h1v1h-1zM362 84h1v1h-1zM362 86h1v1h-1zM362 88h1v1h-1zM362 96h1v1h-1zM362 98h1v1h-1zM362 100h1v1h-1zM362 102h1v1h-1zM364 10h1v1h-1zM364 12h1v1h-1zM364 14h1v1h-1zM364 16h1v1h-1zM364 18h1v1h-1zM364 20h1v1h-1zM364 22h1v1h-1zM364 26h1v1h-1zM364 32h1v1h-1zM364 38h1v1h-1zM364 40h1v1h-1zM364 42h1v1h-1zM364 46h1v1h-1zM364 48h1v1h-1zM364 52h1v1h-1zM364 56h1v1h-1zM364 58h1v1h-1zM364 64h1v1h-1zM364 66h1v1h-1zM364 68h1v1h-1zM364 74h1v1h-1zM364 80h1v1h-1zM364 86h1v1h-1zM364 88h1v1h-1zM364 90h1v1h-1zM364 92h1v1h-1zM364 94h1v1h-1zM364 98h1v1h-1zM364 100h1v1h-1zM364 102h1v1h-1zM366 10h1v1h-1zM366 14h1v1h-1zM366 16h1v1h-1zM366 18h1v1h-1zM366 22h1v1h-1zM366 24h1v1h-1zM366 28h1v1h-1zM366 30h1v1h-1zM366 34h1v1h-1zM366 38h1v1h-1zM366 42h1v1h-1zM366 48h1v1h-1zM366 50h1v1h-1zM366 54h1v1h-1zM366 58h1v1h-1zM366 64h1v1h-1zM366 66h1v1h-1zM366 68h1v1h-1zM366 74h1v1h-1zM366 78h1v1h-1zM366 80h1v1h-1zM366 84h1v1h-1zM366 86h1v1h-1zM366 88h1v1h-1zM366 90h1v1h-1zM366 94h1v1h-1zM366 96h1v1h-1zM366 98h1v1h-1zM366 100h1v1h-1zM366 102h1v1h-1zM366 104h1v1h-1zM366 106h1v1h-1zM368 14h1v1h-1zM368 16h1v1h-1zM368 18h1v1h-1zM368 20h1v1h-1zM368 22h1v1h-1zM368 24h1v1h-1zM368 26h1v1h-1zM368 30h1v1h-1zM368 34h1v1h-1zM368 36h1v1h-1zM368 40h1v1h-1zM368 42h1v1h-1zM368 46h1v1h-1zM368 48h1v1h-1zM368 50h1v1h-1zM368 52h1v1h-1zM368 64h1v1h-1zM368 66h1v1h-1zM368 70h1v1h-1zM368 72h1v1h-1zM368 78h1v1h-1zM368 80h1v1h-1zM368 84h1v1h-1zM368 86h1v1h-1zM368 88h1v1h-1zM368 90h1v1h-1zM368 92h1v1h-1zM368 94h1v1h-1zM368 96h1v1h-1zM368 98h1v1h-1zM368 100h1v1h-1zM368 102h1v1h-1zM370 14h1v1h-1zM370 16h1v1h-1zM370 18h1v1h-1zM370 20h1v1h-1zM370 22h1v1h-1zM370 24h1v1h-1zM370 26h1v1h-1zM370 28h1v1h-1zM370 30h1v1h-1zM370 32h1v1h-1zM370 34h1v1h-1zM370 40h1v1h-1zM370 42h1v1h-1zM370 44h1v1h-1zM370 48h1v1h-1zM370 50h1v1h-1zM370 60h1v1h-1zM370 68h1v1h-1zM370 76h1v1h-1zM370 80h1v1h-1zM370 86h1v1h-1zM370 88h1v1h-1zM370 90h1v1h-1zM370 92h1v1h-1zM370 94h1v1h-1zM370 96h1v1h-1zM370 98h1v1h-1zM370 100h1v1h-1zM370 102h1v1h-1zM370 104h1v1h-1zM372 12h1v1h-1zM372 14h1v1h-1zM372 16h1v1h-1zM372 20h1v1h-1zM372 22h1v1h-1zM372 24h1v1h-1zM372 28h1v1h-1zM372 34h1v1h-1zM372 36h1v1h-1zM372 38h1v1h-1zM372 40h1v1h-1zM372 50h1v1h-1zM372 56h1v1h-1zM372 58h1v1h-1zM372 60h1v1h-1zM372 62h1v1h-1zM372 68h1v1h-1zM372 76h1v1h-1zM372 80h1v1h-1zM372 86h1v1h-1zM372 88h1v1h-1zM372 90h1v1h-1zM372 92h1v1h-1zM372 98h1v1h-1zM372 100h1v1h-1zM372 102h1v1h-1zM372 104h1v1h-1zM374 14h1v1h-1zM374 16h1v1h-1zM374 18h1v1h-1zM374 20h1v1h-1zM374 22h1v1h-1zM374 24h1v1h-1zM374 26h1v1h-1zM374 28h1v1h-1zM374 32h1v1h-1zM374 38h1v1h-1zM374 50h1v1h-1zM374 56h1v1h-1zM374 62h1v1h-1zM374 72h1v1h-1zM374 86h1v1h-1zM374 88h1v1h-1zM374 92h1v1h-1zM374 94h1v1h-1zM374 96h1v1h-1zM374 100h1v1h-1zM374 102h1v1h-1zM376 16h1v1h-1zM376 20h1v1h-1zM376 22h1v1h-1zM376 24h1v1h-1zM376 26h1v1h-1zM376 28h1v1h-1zM376 42h1v1h-1zM376 44h1v1h-1zM376 48h1v1h-1zM376 52h1v1h-1zM376 58h1v1h-1zM376 64h1v1h-1zM376 66h1v1h-1zM376 70h1v1h-1zM376 72h1v1h-1zM376 82h1v1h-1zM376 86h1v1h-1zM376 88h1v1h-1zM376 90h1v1h-1zM376 92h1v1h-1zM376 94h1v1h-1zM376 96h1v1h-1zM376 98h1v1h-1zM378 20h1v1h-1zM378 24h1v1h-1zM378 26h1v1h-1zM378 28h1v1h-1zM378 30h1v1h-1zM378 34h1v1h-1zM378 36h1v1h-1zM378 40h1v1h-1zM378 48h1v1h-1zM378 54h1v1h-1zM378 68h1v1h-1zM378 72h1v1h-1zM378 76h1v1h-1zM378 80h1v1h-1zM378 84h1v1h-1zM378 86h1v1h-1zM378 88h1v1h-1zM378 90h1v1h-1zM378 92h1v1h-1zM378 94h1v1h-1zM378 96h1v1h-1zM378 98h1v1h-1zM378 100h1v1h-1zM380 20h1v1h-1zM380 24h1v1h-1zM380 26h1v1h-1zM380 28h1v1h-1zM380 30h1v1h-1zM380 32h1v1h-1zM380 34h1v1h-1zM380 38h1v1h-1zM380 40h1v1h-1zM380 44h1v1h-1zM380 48h1v1h-1zM380 50h1v1h-1zM380 56h1v1h-1zM380 68h1v1h-1zM380 80h1v1h-1zM380 86h1v1h-1zM380 88h1v1h-1zM380 90h1v1h-1zM380 92h1v1h-1zM380 98h1v1h-1zM382 26h1v1h-1zM382 30h1v1h-1zM382 32h1v1h-1zM382 36h1v1h-1zM382 38h1v1h-1zM382 40h1v1h-1zM382 46h1v1h-1zM382 64h1v1h-1zM382 66h1v1h-1zM382 68h1v1h-1zM382 72h1v1h-1zM382 82h1v1h-1zM382 86h1v1h-1zM382 88h1v1h-1zM382 90h1v1h-1zM382 92h1v1h-1zM382 94h1v1h-1zM384 30h1v1h-1zM384 34h1v1h-1zM384 36h1v1h-1zM384 38h1v1h-1zM384 42h1v1h-1zM384 44h1v1h-1zM384 46h1v1h-1zM384 48h1v1h-1zM384 50h1v1h-1zM384 52h1v1h-1zM384 56h1v1h-1zM384 64h1v1h-1zM384 68h1v1h-1zM384 70h1v1h-1zM384 72h1v1h-1zM384 78h1v1h-1zM384 80h1v1h-1zM384 82h1v1h-1zM384 84h1v1h-1zM384 86h1v1h-1zM384 90h1v1h-1zM384 92h1v1h-1zM386 36h1v1h-1zM386 38h1v1h-1zM386 40h1v1h-1zM386 42h1v1h-1zM386 44h1v1h-1zM386 46h1v1h-1zM386 48h1v1h-1zM386 50h1v1h-1zM386 52h1v1h-1zM386 54h1v1h-1zM386 56h1v1h-1zM386 58h1v1h-1zM386 60h1v1h-1zM386 62h1v1h-1zM386 64h1v1h-1zM386 66h1v1h-1zM386 68h1v1h-1zM386 70h1v1h-1zM386 74h1v1h-1zM386 76h1v1h-1zM386 78h1v1h-1zM386 80h1v1h-1zM386 82h1v1h-1zM386 84h1v1h-1zM386 86h1v1h-1zM386 88h1v1h-1zM388 46h1v1h-1zM388 48h1v1h-1zM388 52h1v1h-1zM388 54h1v1h-1zM388 56h1v1h-1zM388 58h1v1h-1zM388 60h1v1h-1zM388 62h1v1h-1zM388 64h1v1h-1zM388 68h1v1h-1zM388 70h1v1h-1zM388 72h1v1h-1zM388 74h1v1h-1zM388 76h1v1h-1zM388 78h1v1h-1zM388 86h1v1h-1zM388 90h1v1h-1z" fill="#141c40" fill-opacity="0.85" shape-rendering="crispEdges"/>
<path d="M292.8 57.5L297 54L301 51.3L305 49.5L309 49L313 50L318 52.2L318 68.5L310 70.5L303 71.5L296 71.5L292.8 70.5Z" fill="#dcbc40"/>
<path d="M292.8 57.5L297 54L301 51.3L305 49.5L305 71.5L296 71.5L292.8 70.5Z" fill="url(#gd)" opacity="0.9"/>
<path d="M305 49.5L309 49L313 50L318 52.2L318 68.5L310 70.5L305 71.5Z" fill="url(#gv)" opacity="0.9"/>
<path d="M294 68L316 67.5L316 71.8L294 72Z" fill="url(#gk)" opacity="0.9"/>
<path d="M318 52.2L322 55L327 60L333 66L339 72L343 76L345 84L344 89L338 86L331 82L324 78L318 74L313 71L318 68.5Z" fill="#f4e8f0"/>
<path d="M328 62L339 72L343 76L345 84L344 89L338 86L331 82Z" fill="#d060a8" opacity="0.7"/>
<path d="M318 52.2L322 55L327 60L333 66L339 72L343 76L345 84L344 89L338 86L331 82L324 78L318 74L313 71L318 68.5Z" fill="url(#gs)" opacity="0.9"/>
<circle cx="328.6" cy="35.3" r="4.3" fill="#b0b0b0"/><circle cx="328.6" cy="35.3" r="4.3" fill="url(#gs)" opacity="0.7"/>
<path d="M313 25V39M315 23V40M317 22V38" stroke="#5a7060" stroke-width="0.8" stroke-dasharray="1 0.9" opacity="0.8"/>
<path d="M288.2 54.4V112.3H342.5" stroke="#000" stroke-width="1.6" fill="none"/>
<path d="M288.2 49.4L284.4 55.8L292 55.8Z" fill="#000"/>
<path d="M347.5 112.3L341.1 108.5L341.1 116.1Z" fill="#000"/>
<text transform="translate(279.8 81) rotate(-90)" font-size="7.8" text-anchor="middle">UMAP 2</text>
<text x="301.5" y="126" font-size="7.5" text-anchor="start" font-weight="normal">UMAP 1</text>
<path d="M508.9 78.8h0M499.2 64.9h0M504.7 30.5h0M501.4 42.8h0M508.6 86.3h0M495.3 87.3h0M497.6 41.7h0M491.6 23.3h0M500.2 50.6h0M493 86.8h0M506.9 64.1h0M507.7 66.7h0M503 42.4h0M508.3 55.6h0M503.2 71.7h0M502.8 81.1h0M485.7 72h0M481.7 64.3h0M493.5 67.1h0M491.6 33.8h0M504.7 71.1h0M496.9 35.1h0M499.1 42.6h0M489.9 72.7h0M488 52.4h0M488.3 101h0M508.8 85.2h0M492.2 49.5h0M487.5 98.4h0M504.9 49.2h0M504.4 80.9h0M492.2 16.4h0M493.9 16.5h0M501 42.1h0M493.3 64.2h0M505.7 46.8h0M496.5 36.4h0M505.7 68.9h0M509.5 72.1h0M505.9 35.9h0M485.6 87.2h0M504.7 46h0M502.7 43.3h0M491.9 30.4h0M499.4 71.2h0M485.4 59.5h0M508.8 53h0M491.9 18.7h0M484 60.2h0M497.3 27.6h0M484.5 74.2h0M502.1 88h0M507.6 51.5h0M500 29.2h0M490.6 85.4h0M493.7 37h0M496.6 95.9h0M506.2 38.1h0M489.6 84.9h0M488.5 74.2h0M490.1 29.2h0M495.9 60.2h0M500.2 69.8h0M501.1 34.4h0M507.3 77.8h0M495.7 37.6h0M498.2 43.4h0M497.4 18.4h0M503.8 53.3h0M488.3 88.4h0M509.4 61.7h0M506.4 92.8h0M494.9 84.9h0M475.2 90.3h0M499.2 24.6h0M504.9 76.7h0M482.7 89.6h0M502.8 72.9h0M509.6 52.2h0M480.8 80.3h0M508.6 38.6h0M492.9 16.6h0M480 72h0M498.8 57.3h0M484.9 87.8h0M489 88.9h0M479.7 83.3h0M494.5 17.2h0M502.7 39.6h0M487.6 71.8h0M496.4 85.5h0M502 88.1h0M489.5 22.4h0M486.5 74.9h0M497.7 38.2h0M499.1 74.9h0M507.9 52.3h0M509.8 49.6h0M489.4 57h0M496.2 83.3h0M488.2 46.9h0M475.2 88.8h0M512.3 66.5h0M490.3 35.1h0M487.5 76.2h0M499.3 57.3h0M493.2 60h0M505.6 59h0M474.5 80.1h0M504.2 44.1h0M498.2 84h0M485 74.6h0M492.1 87.7h0M510.8 54.9h0M494.2 74.2h0M512.6 81.1h0M479.3 69.2h0M479.5 71.3h0M493.8 18.8h0M498.1 30.9h0M491.4 85.9h0M503.9 45h0M508.9 48.5h0M500.6 27.1h0M493.6 72.6h0M490.4 80.6h0M506.3 54.1h0M491.2 26.4h0M494.8 81.9h0M500.8 97h0M509.2 85.5h0M492.1 50h0M503.2 68.4h0M509.2 43.5h0M509 74.4h0M512.3 57.4h0M491.4 66.2h0M487.8 90.9h0M494.6 53.3h0M497.1 71.6h0M513.1 62.3h0M488.1 39.4h0M506 62.4h0M495.5 90.9h0M488.8 86.5h0M499.9 22.4h0M512.9 66.5h0M497.3 44.7h0M510.8 60.2h0M508.9 38.8h0M501 38.9h0M511.8 63.4h0M490.9 69.2h0M510.2 58.3h0M495.4 56.9h0M490.4 24.9h0M482.8 71.2h0M480.1 70.1h0M496.2 29.4h0M507 64.6h0M505.3 94h0M498.7 75.9h0M491.1 21.5h0M502.3 42.9h0M501.2 59.8h0M486.5 13.1h0M511.7 80.8h0M510.7 46.6h0M497.8 61.5h0M491.3 65h0M512.8 73.8h0M501 90.2h0M504.9 55.8h0M506.3 76.8h0M500.1 36.9h0M500 56.4h0M500.4 32.7h0M489.6 50.4h0M495.4 41.2h0M498.4 35.9h0M503.5 95.5h0M476.1 79.1h0M480.7 68.9h0M477.2 88.1h0M501.4 54.9h0M507.4 74.1h0M495.2 19h0M487.6 62.9h0M502.1 26.4h0M495.8 56h0M495.8 24.5h0M492.1 23.4h0M497.8 35.2h0M508.1 35.5h0M486 16.3h0M501.1 32.8h0M507.8 72h0M506.2 89.8h0M497.7 92.2h0M481.1 78.1h0M502.2 39h0M501.6 80.1h0M485.6 29.8h0M499 70.2h0M483 69.9h0M493.7 56.7h0M511.5 80.3h0M486.2 26.5h0M511.1 63.5h0M495.9 65.1h0M490.5 34.7h0M504.4 53.9h0M488.1 48h0M495.9 59.9h0M478.2 96.1h0M503.2 78.1h0M484.4 14.8h0M501.1 60.9h0M489.7 86.6h0M500.2 85.1h0M499.5 38.9h0M495.5 18h0M503.2 25.3h0M511.5 70.6h0M498.8 55.8h0M494.1 28.9h0M494.8 33.1h0M489.9 38.8h0M496.5 37.3h0M508.9 68.3h0M502.6 63.5h0M490.6 82.4h0M488.9 49.9h0M503 89.8h0M479.3 75.5h0M493.9 56.4h0M473.1 85.7h0M473.6 89.6h0M474.3 84.9h0M498.3 80.8h0M477.4 83.5h0M496.5 90.8h0M506.8 38.2h0M491.6 97.9h0M500.3 44.5h0M504.7 59.4h0M503.9 87.2h0M499.3 44.6h0M508.7 57.7h0M490.8 37.3h0M502.1 41.4h0M507.3 64h0M508.4 47.7h0M482.7 66.3h0M503.7 75.7h0M498.7 56.5h0M494.2 41.4h0M487.1 58.4h0M511.6 56.7h0M487.2 30.2h0M504.4 51.3h0M489.9 21.1h0M491.3 18.3h0M488.8 77.6h0M500.7 33.3h0M503.5 77.6h0M484.7 81.6h0M504.6 34h0M479.2 73.5h0M492.8 32.4h0M478.2 79.5h0M494.9 93.7h0M491 49.8h0M513 58.8h0M495.9 78.1h0M496 56.3h0M506.8 56.6h0M488.7 56.8h0M495.6 17.3h0M495.9 28.2h0M485.1 70.5h0M502.9 89.3h0M507.4 33h0M497.7 34.4h0M487 63.7h0M492.5 60.8h0M477.5 84.7h0M486.7 82.3h0M510.8 54.6h0M488.4 48.6h0M508.9 88.5h0M491 23.4h0M498.3 88.3h0M484.3 85.2h0M495.1 53.4h0M490.1 47.9h0M500 76.9h0M494 84.4h0M491.4 43.9h0M492.1 29.8h0M496.6 83.8h0M493 77.2h0M486.2 28.1h0M494.3 36.7h0M509.5 60.1h0M487.1 76.9h0M496.5 78.3h0M493.3 59.8h0M498.2 57.4h0M507.6 45.8h0M495.3 81.2h0M501.4 86.9h0M500.4 78h0M510.1 48h0M491.6 52.7h0M500 58.3h0M495.1 80.2h0M511.8 59.4h0M506.2 55.9h0M489.8 49.8h0M494.8 52.5h0M492.3 91.8h0M493.4 83.6h0M486.2 94.6h0M497.6 64.2h0M501.9 47.9h0M473.9 82.4h0M503.4 59.6h0M492.1 70.4h0M502.8 56.4h0M484.1 65.3h0M494.2 95.1h0M509.4 74h0M507.7 71.1h0M493.6 75.5h0M505.7 47.1h0M489.3 71.4h0M510.7 82.3h0M474 84.9h0M509.3 79.3h0M497.5 77.5h0M495.1 80.5h0M502.1 41.4h0M502.3 92h0M503.3 77.1h0M489.7 71h0M496.6 25.7h0M508.8 69.9h0M499.5 87.1h0M497.7 72.8h0M501.4 95h0M495.1 24.9h0M498.3 55.3h0M473.7 91.1h0M488.8 36.5h0M489.6 38.3h0M485.8 47h0M497.5 98.1h0M491.3 45.8h0M505.1 95.2h0M506.7 86.7h0M504.3 52.7h0M487.5 17.6h0M508.2 67.7h0M502.7 32.8h0M509.8 64.1h0M513.6 68.2h0M501 84.5h0M486.8 42.6h0M494.3 40.1h0M489.2 52.5h0M484.1 37.4h0M496 86.2h0M502.7 25.3h0M512.2 53.1h0M507.2 67.4h0M507.5 36.2h0M494.7 40.2h0M501.6 61.5h0M498.4 63.5h0M493.7 61.4h0M484.1 69.1h0M487 93.9h0M511.2 79.8h0M506 80h0M498.8 27.1h0M494 34.7h0M503.9 47.9h0M502.7 31.8h0M487 44.7h0M494.4 75.8h0M504.6 83.5h0M494.2 85.6h0M493.6 86.3h0M482.4 62.4h0M491.3 20.9h0M498.3 49.6h0M494.6 66.1h0M489.5 49.5h0M490.7 15.4h0M487.2 67.3h0M492.2 95.3h0M487.6 36.9h0M494.2 45.3h0M512 52.4h0M497.8 44.2h0M494.6 81.1h0M502.8 79.9h0M511.3 75.9h0M505.1 35h0M509.3 49.4h0M473.5 81.9h0M497.7 77.5h0M486.2 68.1h0M504.6 53.7h0M496.3 27.1h0M511.8 80.9h0M499.7 54.2h0M492.1 48.5h0M503.5 66.8h0M492.6 69.2h0M508.3 66h0M492.5 64.1h0M504.6 83h0M481.8 69.9h0M495.2 37.5h0M479 75.7h0M510.1 72h0M504.1 40.1h0M494.2 38.2h0M499.9 35.9h0M497.7 69.1h0M508.2 66.9h0M500.8 61.5h0M495.1 32.8h0M487.7 91h0M505.1 28.4h0M489.8 23.2h0M489.5 20.5h0M493.2 92.1h0M485 82h0M490.7 57.3h0M490.9 33.4h0M502 23.5h0M506 44.7h0M488.2 64.1h0M503.2 89.9h0M493.5 87.5h0M505.6 31.5h0M503.5 65h0M480 71h0M477.1 76.5h0M497.1 19.2h0M481.4 75.8h0M511.9 81.7h0M492.3 88.8h0M504.9 77.7h0M506.9 75.4h0M483.7 63.6h0M495.1 66.1h0M502.6 38.9h0M502.6 51.9h0M507.2 74.4h0M487.4 82.2h0M500.4 57.4h0M492.1 74.8h0M509.8 62.9h0M487.8 26.7h0M481.9 71.6h0M501.8 71.9h0M485.8 38.8h0M497.1 61.8h0M488.9 88.3h0M506.7 36.9h0M504.2 44.8h0M506.1 33.4h0M485.4 43.2h0M508.4 75.9h0M505.3 70.6h0M485.8 38.1h0M500 85.7h0M508 59.3h0M508.7 74.2h0M502.2 32.8h0M501.2 70.6h0M508 89.7h0M508.3 75h0M505.2 80h0M486.2 55.4h0M489.3 57.6h0M485.4 72.1h0M489.7 86h0M481 76.1h0M482.4 62.5h0M504.9 87.5h0M487.4 46.1h0M498.1 67.3h0M499.8 51.1h0M492.9 52.5h0M492.9 100.9h0M505.6 73.5h0M498 81.6h0M484.7 31.9h0M505.5 72.4h0M479.5 89.8h0M477.7 86.9h0M499.1 50.1h0M506.4 57.3h0M511.2 72.6h0M498.1 71.6h0M490.1 90.6h0M490 57.2h0M494.9 24.5h0M493.4 52.4h0M511.7 51.9h0M505.6 47.8h0M503.2 28.9h0M496 91.4h0M489.9 60.6h0M494.4 99.6h0M504.8 35.8h0M502.9 92.5h0M493 94h0M481.6 90.4h0M510.1 55.5h0M508 41.7h0M494.2 30.5h0M498.2 63.3h0M508.7 72.3h0M493.9 97h0M510.5 49.7h0M490.5 80.1h0M479.2 72.1h0M510.5 49.2h0M501.2 54.2h0M496.7 85.5h0M485.9 61.6h0M491.4 84.7h0M505.2 74.7h0M508 68.8h0M500.2 70.8h0M480.3 73.7h0M505 43.6h0M508.8 51.9h0M493.8 15.9h0M489.4 87.9h0M491.5 50.2h0M483.3 28.4h0M488.5 30.6h0M494.3 98.8h0M502.4 47.1h0M484.4 81.6h0M489.2 62.4h0M507.3 35.8h0M496.2 17.2h0M487.8 37.9h0M500.4 21.4h0M509.8 53.2h0M481.4 67.5h0M486.9 72.2h0M504.4 94.4h0M495.4 49.9h0M500.9 79.1h0M494.6 24.4h0M501.1 55.9h0M501.4 26.3h0M492.7 49.4h0M501.1 94.3h0M480.8 69h0M485.7 19.1h0M496.7 72.8h0M497.4 68.9h0M500.1 56.9h0M491.6 59.9h0M500.4 84h0M484.7 37h0M480.5 80.5h0M511 49.7h0M501 25.5h0M505.3 69.6h0M511 78.5h0M482.2 82.2h0M495.9 51.7h0M487.7 66.5h0M506.9 67.9h0M482.6 75.6h0M476 81.1h0M490 81.5h0M502.1 93.3h0M496.5 22.9h0M510 52.8h0M492.2 19.2h0M496.5 38.1h0M497 85h0M502.9 84.4h0M498.3 57.4h0M496.5 93.5h0M494.5 56.2h0M497.6 71.7h0M481.6 89.7h0M479.2 72h0M489.9 92.2h0M494 42.5h0M497 97.8h0M504.1 78.6h0M496.1 64.5h0M495.1 44.8h0M493 28.1h0M508.2 81h0M491.4 79.8h0M484.4 16.1h0M508.3 49.9h0M500.3 66.5h0M497.6 29.5h0M489.7 14.2h0M495 81.4h0M500.1 47.3h0M504.6 87.2h0M485 69.3h0M493.2 54.7h0M488.1 86.1h0M476.1 94.9h0M505.8 71.2h0M512.1 73.2h0M507 75.7h0M491.9 47h0M489.8 33.4h0M493.4 36.1h0M497.7 85.1h0M478.5 77.5h0M496.1 58.9h0M498.5 33.1h0M488.1 20.3h0M503.5 76.6h0M486.9 96.2h0M498.9 43.8h0M480.9 89.2h0M481.6 68.4h0M492.8 74h0M506.2 38.3h0M489.4 20.7h0M508.8 39.7h0M489.9 63.1h0M498.1 23.5h0M510.4 47h0M499 86.8h0M502.8 29.3h0M500.1 52.5h0M495.3 38.8h0M487.3 62.6h0M488.6 66.8h0M503.8 45.5h0M488.8 71.2h0M490.7 18.2h0M485.8 33.1h0M492.5 69h0M513.7 67.9h0M492.3 84.3h0M497.2 91.1h0M491.8 67.4h0M493.6 84.4h0M494.3 35.1h0M488.3 33.6h0M512.6 55.9h0M488.6 88.3h0M497.6 76.3h0M509.6 71.2h0M487.9 66.3h0M491.9 28.3h0M488.3 21.5h0M498.8 63.1h0M501.3 43.6h0M490 76.5h0M506 53.6h0M511.1 47.2h0M496.2 43.7h0M482.7 81.4h0M491 30h0M495 71.7h0M484.9 90.8h0M490.2 74h0M496.6 39.1h0M481.5 76.5h0M510.8 64.1h0M478.5 85.6h0M506.8 55.8h0M502.5 64.4h0M477.6 79.9h0M497.1 61.2h0M488.9 85.4h0M483.9 35.8h0M505.2 92.5h0M497.5 77.1h0M483.1 72.7h0M493.3 29h0M499.9 44.2h0M510.4 49.2h0M496.9 63.5h0M484.8 20h0M489.9 79.9h0M497 65.8h0M496.4 38h0M500.2 97h0M507.8 39.7h0M491.6 41.4h0M489.2 52.6h0M495.4 43.6h0M485.7 56.5h0M507.5 67.7h0M504.2 48.2h0M506.1 35.4h0M497.2 80.8h0M509.6 45.5h0M491.7 74.7h0M507.2 85.6h0M492.9 35.6h0M478 81h0M509.1 40.2h0M511.4 68.7h0M491.1 78.4h0M477.9 72.5h0M493.3 41.3h0M500.6 75.8h0M485 31.3h0M504.8 26.8h0M486.4 41.8h0M491.7 33h0M489.1 38.4h0M504.7 67.9h0M479.8 73.1h0M504.6 33.9h0M490.7 28.8h0M499.2 38.9h0M478.4 81.6h0M492 90.5h0M506.8 61.4h0M475.8 88.1h0M477.1 79.6h0M500 81.6h0M492.6 52.6h0M500.5 36.9h0M500.2 30.5h0M483.2 18.1h0M499.7 94h0M512.2 65.8h0M484.3 81.8h0M487.5 23.7h0M494.2 78h0M502.2 83.9h0M493.5 93.2h0M487.8 51.2h0M492.8 30.8h0M488.5 53.6h0M486.3 98.9h0M512.2 81.4h0M485.9 81.8h0M493.2 39.4h0M506.6 85.5h0M504.6 71.5h0M479.8 93h0M498.3 59h0M492.3 91.6h0M488.3 56.6h0M494.9 67h0M504.4 27.1h0M508.8 38.4h0M494.5 53.3h0M511.1 70.1h0M487.7 23.7h0M493.2 31.5h0M491.9 57.6h0M482.5 72.4h0M489.6 82.6h0M510.2 86.7h0M481.3 63.8h0M501.7 63.8h0M507.4 53.4h0M506 57.4h0M483.7 77.5h0M504.4 89.5h0M492.1 45.2h0M503.7 75.5h0M494.6 53.3h0M481.8 83.3h0M492.7 89.9h0M489 71.9h0M506.8 63h0M493.1 66.2h0M483 95.4h0M500.5 69.5h0M503.7 57h0M500.3 24.6h0M500.1 27.8h0M509.8 67.4h0M505.5 40.3h0M489.8 84.5h0M501 35.7h0M508.1 42.2h0M485.7 61h0M499.4 55.6h0M491.1 18h0M483.4 68.5h0M510.4 79.1h0M505.8 86.1h0M495.1 37h0M489.9 45.7h0M500 57.9h0M505.3 46.2h0M498.5 90.1h0M498.1 85.7h0M498.6 54.8h0M487.6 57.9h0M498.3 76.1h0M508.4 79.8h0M497.7 59h0M487.6 22.3h0M512.8 63.2h0M487.7 48h0M502.6 44.7h0M502.7 58.3h0M501.5 68.4h0M490.2 33.6h0M494.9 47.4h0M486.9 24.2h0M505.1 66.8h0M504.8 52.2h0M506.7 82.5h0M512.2 60.3h0M494.7 56.3h0M488.5 81.5h0M489.8 37.6h0M490 86.3h0M503.2 38.6h0M505.2 59.5h0M483.3 96h0M510.7 76h0M509 67.7h0M492.2 87.2h0M478.1 76.6h0M485.4 75.9h0M490.3 30.6h0M488.6 68.4h0M489.7 35.2h0M487.7 89.5h0M482 68.8h0M504.7 28.3h0M496.9 88.2h0M499 74.9h0M501.4 84.1h0M506.3 66.1h0M498.2 43.5h0M504.7 61.2h0M495.7 72.2h0M487.7 44.9h0M495.2 49.7h0M485.5 62.8h0M494.4 32.4h0M510.5 47.4h0M482.7 65.3h0M513.3 62.4h0M488.1 35.5h0M492.3 45.8h0M501.8 31.1h0M482.5 60.7h0M494.7 28.2h0M494.4 25.5h0M496 56h0M490 24.8h0M495.7 72.3h0M491.7 56.9h0M501.9 65h0M501.1 35.5h0M494.8 55.8h0M500.2 46.8h0M491.9 29h0M508.3 56.4h0M505.7 75.5h0M481 67.4h0M496.8 91h0M493.7 57.3h0M489.8 37.5h0M486.8 42.6h0M487.6 31.5h0M498.7 24h0M498.1 32.6h0M489.4 40.2h0M512.5 60.8h0M499.9 24.3h0M501.8 72.2h0M513.6 72.3h0M482.8 61.1h0M504.2 27.6h0M499.1 22.8h0M486.3 38.5h0M502.6 33.2h0M503.1 63.7h0M509.9 89.4h0M489.6 22.7h0M497.3 60h0M477.7 79.2h0M506.5 38.6h0M491.6 78.7h0M494.3 39.6h0M475.9 77.9h0M499.1 48.3h0M506.6 66.2h0M502.7 80.5h0M492.2 19.8h0M506.5 88.2h0M486.2 57.5h0M483.5 96.3h0M498.5 80.7h0M491.8 77.8h0M511.8 60.8h0M488.1 50.3h0M493.2 18.9h0M484.2 90.7h0M494.1 31h0M493 48.2h0M492.1 90.3h0M498.9 71.8h0M491.6 88.7h0M504.2 73.3h0M497.2 20.8h0M502 43.3h0M479.5 69.7h0M494.6 38.4h0M501.3 37.6h0M506.9 34.3h0M510.1 53.2h0M474.3 87.2h0M512.5 78.5h0M497.8 41.1h0M494.8 37h0M496.2 77.8h0M482.9 59.3h0M492.9 64.2h0M484 82.6h0M502.9 62.3h0M500.7 53h0M483.3 74.8h0M502.6 27.1h0M486.5 88.8h0M491.1 46.6h0M481.9 64.4h0M489.1 71.6h0M498.3 40.2h0M499.5 40.7h0M496 72.8h0M500.6 22.5h0M494.5 36.7h0M510.1 86.2h0M508.9 75.7h0M493.6 53.5h0M490.1 22.2h0M499.2 57.8h0M502.9 96.8h0M496.6 46.2h0M485.8 59h0M508.3 41.1h0M497.8 81h0M505.5 78.4h0M493.9 87.4h0M498.5 90.5h0M487.9 67h0M502.5 68.3h0M493.6 47.3h0M490.7 71.3h0M484.3 85.4h0M493.8 88.2h0M478.2 75h0M507.9 55.2h0M498.2 76.6h0M482.3 62h0M495.9 86.7h0M506.5 68.4h0M507.9 90.2h0M492.9 76.4h0M505.1 94.1h0M489 69.4h0M513 66.1h0M494.2 43h0M512.2 58.3h0M501.3 85h0M490.1 100.8h0M505.5 44.1h0M500 22.2h0M501.6 51.9h0M502.3 90.6h0M501.5 44.5h0M504.2 32.3h0M495.8 28.7h0M501.3 77.9h0M482.1 91.4h0M487.5 27.8h0M491.4 33h0" stroke="#d07882" stroke-width="1.2" stroke-linecap="round" stroke-opacity="0.8" fill="none"/>
<path d="M475.1 92.4h0M485.6 95.3h0M499 99h0M497.1 99.7h0M472.7 88h0M496.3 98.6h0M484.7 95.2h0M480.6 95.1h0M482.2 92.5h0M488 90.4h0M485.5 90h0M476.7 97.3h0M475.5 87.1h0M482.5 79.5h0M486.2 101.2h0M495.8 98.1h0M491.4 89.2h0M501.7 98.7h0M497.3 100.5h0M501.5 90.6h0M473.4 92.5h0M473.9 93.6h0M493.7 100.2h0M485.8 98.9h0M492.8 100.6h0M493.2 88.3h0M476 80.3h0M502.8 90.9h0M480 94.7h0M505.6 94.2h0M483.6 96.5h0M485.4 95.4h0M476.8 89.9h0M494.3 99.2h0M486.3 92.4h0M481.4 94.4h0M486.3 92.4h0M478.9 82.6h0M492.7 96.7h0M507.3 91.6h0M487.2 92.5h0M493.9 91.2h0M495.2 99.9h0M487.4 84.9h0M483.3 98.4h0M490.1 91.1h0M488 96.6h0M492.7 99h0M498.7 94h0M480.4 80.7h0M489.8 91.2h0M492.7 100.4h0M500.6 91.3h0M477.7 98.5h0M481.6 94.1h0M485.9 101.9h0M473.4 84.2h0M497.7 93.6h0M486 89.8h0M494.8 97.4h0M486.3 84.5h0M496 97.5h0M492.5 102.2h0M493.8 101.8h0M492.5 89.3h0M488.6 90h0M485.4 89h0M485 90.5h0M488.5 87.3h0M473.8 84h0M483.5 83.2h0M497.8 95.3h0M501.5 93.8h0M497.7 92.7h0M482.7 87.1h0M484.2 83.3h0M478.7 86.2h0M503.8 94.5h0M499.1 92.6h0M476.9 91.2h0M476.3 84.3h0M476.9 95.3h0M485 84.8h0M491.7 90.5h0M476.9 93.6h0M502 98.6h0M485.7 101.7h0M491.9 94h0M488.2 93h0M494.2 96.9h0M487.9 101h0M482.5 94.1h0M498.5 93.6h0M496.2 89.3h0M500.8 97.3h0M501.7 95.9h0M499.1 90.9h0M490.5 89.8h0M477.7 87.6h0M485.2 99.7h0M487.3 84.7h0M483.9 89.1h0M493.5 101.6h0M493.6 92.6h0M500.8 94.4h0M473.6 91.1h0M483.2 86.5h0M486.4 97.4h0M481.3 91.5h0M482.4 99.9h0M488.8 98.2h0M499.1 89h0M487.2 90.3h0M485.1 98.5h0M495.7 86.4h0M496.2 100.7h0M500.5 91.2h0M486.4 94.3h0M478.5 89.9h0M474.4 94.6h0M488.1 93.3h0M498.5 99.3h0M480.4 94.5h0M490.4 95.8h0M497.1 96.7h0M490.4 99.9h0M494.9 97.7h0M495 95.5h0M486.6 92.4h0M483 86.4h0M501.6 91.7h0M506.2 95h0M501.6 95.1h0M486.8 99.5h0M480.2 87.1h0M479.5 95.1h0M502.8 93.5h0M474.4 89.8h0M487.2 89.6h0M477.1 97.9h0M489.7 101.6h0M505.5 91.3h0M494.8 99.7h0M502.8 97.2h0M499.3 94.8h0M485.4 100.7h0M492.1 94.5h0M478.8 93.4h0M486.9 95.2h0M496.3 93.7h0M487 98.5h0M481.4 89.5h0M499.6 96.7h0M485.4 85.7h0M503.5 88.3h0M505.3 94.5h0M497.9 89.3h0M474.7 92.2h0M485.1 86.3h0M481 91.8h0M488.6 100h0M490 92.7h0" stroke="#60b8c8" stroke-width="1.2" stroke-linecap="round" stroke-opacity="0.8" fill="none"/>
<path d="M505.2 45.5h0M500.5 91.9h0M507.2 48.8h0M492.5 45h0M498 72.7h0M497.4 64.2h0M493.5 38.3h0M499.3 37.7h0M487 29.4h0M476.5 82.7h0M484.1 36.4h0M496.7 19.8h0M495.7 80.5h0M508.2 74.1h0M498.4 77.4h0M505.5 48.8h0M489.5 30h0M510.3 57.3h0M483.3 32.9h0M497.1 63.9h0M494.6 52.9h0M507.4 70.2h0M502.4 57.5h0M508.7 73.4h0M496.9 66.1h0M504.6 51.7h0M499.4 64.3h0M502.3 55.1h0M488.2 42.2h0M501.1 96.4h0M491 60.6h0M508.8 54.1h0M485.6 78.8h0M488.8 71.6h0M491.3 71h0M494.6 83.5h0M490.3 86.3h0M503.1 66.4h0M500.9 30h0M494.1 55.2h0M487.7 62.1h0M482.9 70.3h0M486.3 62.5h0M494.2 30.8h0M493.8 83.8h0M488.7 71.5h0M489.9 79.1h0M491 86.1h0M484.6 75.4h0M485.9 53.7h0M493.5 65.2h0M489.4 87.8h0M509.1 70.4h0M476.8 85.3h0M478.3 76.3h0M487.3 73.1h0M501.1 71.2h0M497.7 93.3h0M509.7 85h0M479.6 94.3h0M484.3 35.9h0M504.5 62h0M494.1 21.6h0M506.6 71.5h0M504.9 28.4h0M501.5 97.5h0M494.9 50.6h0M491.6 87.5h0M486.7 78h0M491.1 72.7h0M473.7 86.6h0M498 35.4h0M495.2 61.7h0M501.6 29h0M490.5 94.5h0M491.9 55.4h0M491.9 29.8h0M492 96.4h0M487 84.9h0M493.4 61h0M498.3 54.7h0M490.2 54.3h0M475.6 83.3h0M504.7 33.1h0M473.8 89.3h0M481.6 62.1h0M487.6 44.3h0M505.2 45.9h0M489.7 28.1h0M496.3 17.1h0M494.9 63h0M489.6 27.7h0M488.5 66.6h0M502.8 80h0M503.9 78.4h0M503.8 43.4h0M509.7 49.6h0M508.8 59.9h0M501.2 55.3h0M508.4 83.5h0M508.5 74h0M488.6 39.7h0M512.1 65.2h0M505 44.1h0M487.2 47.1h0M477.4 75.2h0M500.1 74.5h0M492.5 85.8h0M473.9 90.1h0M495.1 33.8h0M503.3 24.8h0M484.4 15.5h0M488.2 76h0M489.4 43.5h0M504.5 69.4h0M499.7 55.4h0M482.2 65.2h0M490.7 60.1h0M491.2 55.3h0M503.8 42.9h0M507.7 88.2h0M502.3 65.2h0M500.7 92.3h0M508.5 66.6h0M508.5 68.1h0M507.5 58.4h0M503.2 84.1h0M489.6 23.8h0M485.9 73.3h0M489.1 76.9h0M495.3 47.6h0M494.9 19h0M511.8 49.4h0M491.5 79.4h0M509.5 62.2h0M488 93.3h0M511.3 85.5h0M511.9 64.6h0M507.5 41.4h0M507.5 72.4h0M487.9 30.3h0M491.8 89.4h0M484.8 58.3h0M488.7 72.4h0M494.6 39.8h0M504.8 78.1h0M492 58.5h0M487.1 56.4h0M487.5 51.4h0M492.5 48.6h0M482.1 71.1h0M480.8 75.9h0M499.3 49.7h0M507.7 70.7h0M500.1 22.2h0M497.8 60.1h0M508.2 61.3h0M490.7 58.5h0M508.3 54.6h0M495.5 63.7h0M487.3 53.8h0M499.2 68h0M488.6 57.9h0M495 22.7h0M502.8 53.1h0M503.2 44.1h0M506.4 67h0M483.1 64.2h0M495 55.1h0M511.1 53h0M481.6 79.5h0M489.4 46.6h0M490.8 32.9h0M483.2 73.3h0M489.9 29.8h0M512.3 55.9h0M493.6 61.9h0M496.7 42.4h0M490.4 85.6h0M495.1 22.6h0M510.9 53.9h0M502.5 48.1h0M498.4 82.3h0M499.1 29.8h0M500.2 21.5h0M502.8 37.6h0M487.4 71.1h0M481.7 79.6h0M488.8 43.7h0M495.7 68.7h0M495.5 24.3h0M492 31.6h0M513.1 75.1h0M491.2 59.3h0M503.9 88.6h0M476.8 78.7h0M487 40.2h0M509.4 50.7h0M504.8 44h0M491 81.1h0M496.4 75.6h0M484.8 68.3h0M483.2 23.8h0M485.6 68h0M484.7 28.5h0M495.9 18.7h0M485.8 14.4h0M490.9 38.8h0M500 80.6h0M508.1 54.7h0M489.6 58.4h0M506.2 56.5h0M494.8 38.8h0M486.6 81.4h0M497.7 27.6h0M477.7 78.3h0M511.1 72.7h0M486.1 66.7h0M497.2 44.9h0M488.3 65h0M509.5 66.6h0M497.6 82.5h0M483.9 80.3h0M500.6 52.7h0M493.7 34.1h0M474.6 93.4h0M501.7 73.6h0M501.4 29.8h0M510 58.6h0M493.7 31.2h0M487 66.1h0M489.2 18.3h0M499.7 85.1h0M493.4 26.1h0M501 61.9h0M483.2 72.6h0M496.4 28.7h0M487.6 79.2h0M495.4 80.8h0M501.1 28.8h0M490.8 77h0M480.6 74.3h0M496.6 77h0M509.7 78.6h0M499.3 48.7h0M504.4 77.8h0M491.7 32.5h0M508 73.8h0M494.2 52.9h0M488 41.1h0M499.6 77.2h0M502.3 34h0M484.9 80.3h0M488 31.2h0M507.3 51.7h0M492.9 66.8h0M499.9 42.2h0M508.7 72.6h0M500.6 72.9h0M490 78.9h0M489.7 36.6h0M494.5 94h0M499.6 62.1h0M507 49.2h0M493.6 41.3h0M509.7 57.2h0M477.2 82.9h0M511.3 51.1h0M486.6 80.5h0M489.8 78.1h0M502.7 72.8h0M492.2 17.3h0M493.4 16.4h0M486.3 68.4h0M505.3 55.9h0M498.8 41.8h0M498.4 47.3h0M497.3 18.8h0M483.8 79.4h0M511.2 71.9h0M506.9 44.6h0M496.4 53.4h0M499.4 31.4h0M477.4 97h0M512.2 80.9h0M492.6 26.7h0M491.6 85.4h0M493.5 82.1h0M484.4 62h0M499.1 67.8h0M489.6 15.6h0M490.8 82.9h0M495.6 43.1h0M492.8 88.2h0M487.6 40.5h0M501.8 72.3h0M506.6 75.1h0M507.7 84.2h0M507.5 51.4h0M489.6 20.6h0M496.7 76.6h0M511.6 80.4h0M492.1 59.4h0M486.3 38.3h0M498.7 21.7h0M484.2 97.9h0M489.2 19.9h0M495.3 96h0M487.2 23.1h0M501 31.5h0M491.1 47.1h0M491 28.6h0M485.8 47.5h0M508.8 42.6h0M503.7 26.8h0M493.5 101.9h0M489.2 92.3h0M482.8 68.6h0M498.5 67.8h0M491 81.7h0M484.2 70.1h0M508.9 52.2h0M490.5 94.7h0M503 74h0M484.9 76h0M490.8 48.1h0M486.1 41.3h0M506.7 36.8h0M495.4 55h0M504.3 28.6h0M492.9 76.1h0M488.1 82.1h0M485.3 89.6h0M488.4 47.3h0M482 88h0M501.4 32.6h0M504.5 80.5h0M497.7 83.3h0M488.3 101.6h0M494.7 63.5h0M503.8 73h0M502.6 53.6h0M474.6 81.5h0M487.3 84.6h0M483.4 20.9h0M503.5 65.4h0M484.5 71.6h0M486.7 20.4h0M500.6 55.3h0M484.9 88.2h0M493.1 100.7h0M492.8 42.3h0M485 83.5h0M484.1 57.6h0M508.8 71.6h0M490.4 24.7h0M487.3 77.5h0M487.2 76.4h0M500.2 31.9h0M489.1 22.2h0M480.5 69.7h0M488 48.1h0M513 77.1h0M499.1 83.7h0M473.7 92.6h0M490.1 67.1h0M489.6 53.8h0M508.8 47.2h0M507.1 58.5h0M483.6 71.5h0M497.7 70.9h0M499.3 89.6h0M487.2 68.7h0M489.3 100.8h0M511.8 67.1h0M512.1 81.4h0M485.9 78.7h0M512.6 66.6h0M476.5 87.2h0M495.5 67h0M504 51.5h0M488.3 44h0M499.9 92.8h0M491.7 52.5h0M485 80.7h0M497.1 20.5h0M497.7 26.5h0M478.7 96.5h0M487.9 89.5h0M496.3 89.8h0M501.3 93.2h0M498.8 48.5h0M500.7 54.3h0M492.1 102h0M480.5 84.1h0M496.6 41h0M479.2 86.3h0M497.4 40.8h0M490.3 50.9h0M484.2 68.1h0M498.1 48.7h0M497.7 23.5h0M491.9 81.8h0M491.1 38.8h0M482.8 62.5h0M495.1 22h0M487.9 40.7h0M510.2 84.5h0M490.2 47.8h0M497.1 65.9h0M479.3 77.2h0M482.3 74.6h0M509.8 54.1h0M480.8 65.8h0M484.3 38.4h0M487.7 67.1h0M508 64h0M495 49.4h0M510.5 82.1h0M487.8 56.1h0M509.6 66.3h0M488.9 50.4h0M511.6 62h0M494.8 55.2h0M485.1 28.5h0M501.8 33.5h0M489.3 22.3h0M488.6 97.9h0M504.4 27.1h0M508.4 76.4h0M489.5 47.5h0M486 71.1h0M508.2 68.4h0M482.5 72.3h0M493 26h0M511.1 81h0M485.4 74.5h0M497.5 49.6h0M493 67h0M491.5 73.5h0M495.9 61.7h0M486.1 26.5h0M488.1 68.6h0M488.7 43.4h0M500.5 62.3h0M506.9 33.3h0M487.8 67.7h0M501.1 46.6h0M505.2 48.8h0M479.8 72.8h0M491.6 38.6h0M503.2 39.5h0M498.4 60.9h0M484.7 38.2h0M493.6 58.7h0M487.2 78.5h0M494.1 50h0M501.7 70.7h0M486.1 19.5h0M502.8 36.1h0M498.2 28h0M475.6 78.2h0M494.5 57h0M497.3 26.8h0M485.6 53.8h0M494.6 19.4h0M476.1 78.1h0M501.2 44.2h0M507.1 42.3h0M501 44.7h0M493.6 89.5h0M474.8 88.2h0M496.3 35.6h0M511.8 52.6h0M494.1 42.1h0M498.8 85.3h0M501.2 72.7h0M493.5 66h0M485.5 36h0M502.7 47.4h0M486.2 87.2h0M487.6 18.4h0M506.4 39h0M494.5 77.8h0M499.1 61.4h0M474.6 81.4h0M478.8 76.2h0M492 66.7h0M511.8 69.5h0M493.9 38.2h0M500.5 94.1h0M486.2 70.3h0M488.2 53.4h0M479.5 68.3h0M508.6 89.1h0M491.4 29.5h0M484.1 77.3h0M493.6 76.2h0M513 72.1h0M497.7 39.8h0M488.7 22.7h0M491.5 48.1h0M501 65.7h0M493.1 34.1h0M506.5 68h0M489.9 57.4h0M503.8 67.1h0M486.1 52.5h0M504.2 86.7h0M477.9 85h0M492.2 44.5h0M495.7 51.7h0M500.1 32.1h0M505.3 35.8h0M489.2 93.6h0M482.8 69.6h0M488.8 21h0M511.4 63.6h0M500.4 92.2h0M502 76.9h0M482.5 59.4h0M483.2 77.7h0M488.3 14.5h0M512.6 80.8h0M507.9 90.5h0M489.2 72h0M478.9 72.7h0M484 64h0M492.7 27.4h0M502.9 30.1h0M496.5 64.2h0M476.4 86.9h0M509.5 41h0M499.1 64.4h0M483.4 83.9h0M496.3 74.5h0M490.3 40.9h0M509.7 68.8h0M507.5 67.2h0M494.4 84.2h0M512.4 62h0M485.5 56.8h0M477.1 77.6h0M508.4 74.5h0M494 37.5h0M502.8 26.6h0M494.7 57.2h0M486 88.5h0M494.2 56.2h0M504.4 60.1h0M508.6 42.7h0M507.4 52.5h0M485.8 48.4h0M496.9 55.7h0M474.3 92.4h0M500.1 46.3h0M495.1 75.5h0M488.3 59.8h0M495.7 40.3h0M487.4 60.3h0M494 70.2h0M489.6 20.2h0M512.3 58.2h0M484 58.8h0M501.6 76.5h0M498 40h0M483.4 63.4h0M510.6 56.7h0M496 55.3h0M489.3 15.7h0M485 37.1h0M502 64h0M496.5 35.6h0M494.3 88.9h0M498.9 23.5h0M487.9 47.8h0M491 92.4h0M493.8 94.2h0M495.2 51.6h0M479.6 89.1h0M487.4 51.1h0M489.3 31h0M481.7 87.3h0M479.9 72.9h0M485.6 64.6h0M487.7 63.5h0M505.9 85h0M489.6 62.2h0M499.4 74.4h0M507.7 71.2h0M487.7 72.8h0M486.6 13.5h0M490.8 72.4h0M513.5 66.2h0M498.7 77.8h0M483.2 76.3h0M488.9 51.4h0M493.3 19h0M492.4 50.3h0M485.6 43.3h0M492.1 38.6h0M503.9 38.8h0M487.1 41.7h0M488.4 73.4h0M488.8 19.3h0M484.1 37.3h0M482.5 63h0M491.7 20.3h0M508.9 90.7h0M497.5 48.8h0M506.1 57.5h0M511.5 55.8h0M493.8 89.2h0M491.2 27.2h0M495.7 36.5h0M494.1 27.6h0M507 62h0M495.3 55h0M489.7 81.4h0M498.4 48.7h0M491.2 68.6h0M487.7 42.1h0M494 95h0M500.5 70.5h0M492.8 35.4h0M507.3 58.9h0M489.5 43.3h0M494.7 59.4h0M505.1 81.6h0M501 42.3h0M495.2 48.1h0M494.5 35.2h0M506.2 89.4h0M508.1 48.9h0M505.6 73.7h0M504.7 59.9h0M493.7 21.5h0M481.2 64.2h0M493.6 84.1h0M500.5 29.4h0M496.8 40.3h0M496 85h0M480.5 71h0M499.5 63.8h0M479.1 99.9h0M487.6 68.8h0M509.6 42.2h0M501.8 79.2h0M492 86.5h0M491.3 45.9h0M501.8 28.2h0M482.3 82.2h0M489.5 68.1h0M500.3 85.9h0M490.8 53.9h0M508.6 79.9h0M508.9 43.1h0M502.1 38h0M493.4 83.7h0M501.7 28.8h0M492.6 75.3h0M490.9 21.8h0M492.7 42h0M509 44.3h0M488.3 40.7h0M508.3 43.3h0M495.4 95.2h0M491.5 73.9h0M487 48.6h0M489.8 23.6h0M509.2 83.3h0M492 81.3h0M507.1 39.7h0M494.1 58.8h0M489.7 83.7h0M485.3 28.9h0M483.1 69.9h0M483.5 57.4h0M494.4 32.1h0M497.1 23.1h0M484.2 86.2h0M506.6 57.9h0M489.5 59.3h0M480.3 90.1h0M506 54.1h0M488.5 62.7h0M496.9 33.1h0M488.4 26.1h0M487.2 51h0M507.2 77.3h0M481.8 73.4h0M479.9 88.3h0M487 72.8h0M491.6 78.4h0M497.8 32.4h0M504.4 93.9h0M501 77.9h0M497.8 86h0M480.9 96.5h0M498.8 33.9h0M488.6 15.9h0M491 48.3h0M498.2 45.4h0M483.3 29.2h0M488.3 72.1h0M499.9 54.6h0M480.3 72.9h0M498.8 19.6h0M506 89.7h0" stroke="#e4a4ac" stroke-width="1.2" stroke-linecap="round" stroke-opacity="0.8" fill="none"/>
<path d="M504.3 97.1h0M493.5 99.5h0M484.2 90.7h0M474.4 83h0M493.7 88.4h0M489.1 91.6h0M486 85.9h0M500.6 91.5h0M484.9 98.6h0M506.9 92.2h0M498.6 88.2h0M497.9 89.3h0M485.5 94.5h0M488.6 91h0M483.9 87.1h0M482.9 90.3h0M495.6 94h0M499.8 96h0M482.9 93.9h0M476.6 96.1h0M487.5 84.8h0M490.6 101.9h0M484.2 99.8h0M497 99.1h0M504.1 88.9h0M488.8 100.2h0M499 94.4h0M505.3 96.3h0M485.8 91.2h0M500.9 98.3h0M478.1 95h0M487.4 88.1h0M486.3 100.3h0M487.9 97.5h0M485.8 90h0M475.7 93.9h0M494 100.9h0M486.7 99h0M497.9 99.5h0M484.9 83.4h0M475.5 90h0M492.8 101h0M483.1 88.7h0M482.5 90.6h0M508.8 88h0M478.6 85.3h0M475 92.6h0M483.6 99.1h0M477.4 94.8h0M498.4 96h0M486.8 99.5h0M496.6 99.2h0M499.3 94.5h0M488.7 96.8h0M491.2 96.8h0M484.5 98.6h0M501.5 93h0M493.5 101.5h0M488.4 91h0M490.8 94.1h0M486.5 91h0M481.4 88.6h0M474.2 90.9h0M498.4 93h0M479.6 85.8h0M490.7 99.8h0M482.6 91.9h0M483.9 94.1h0M477.2 85.8h0M493.7 101.7h0M500.1 92.8h0M496.7 89.8h0M475.4 94.9h0M489.4 90.8h0M479.7 91.2h0M491.6 95.4h0M482.4 98.1h0M492.9 101.3h0M488.9 96.4h0M502.1 92.6h0M479.6 91.1h0M500.2 96.5h0M493.2 97.1h0M486.4 94.9h0M483.2 100.2h0M497 90.5h0M473.8 89.8h0M475.5 83.7h0M479.7 92.5h0M476 95.1h0M478.6 92.7h0M500.6 90.4h0M484.8 88.2h0M485.5 87.4h0M492.5 101.8h0M481.9 96.9h0M478.9 90.3h0M480.6 91.3h0M478.9 84.7h0M501.6 89.3h0M498.7 100.6h0M495.3 99.9h0" stroke="#90c8d8" stroke-width="1.2" stroke-linecap="round" stroke-opacity="0.8" fill="none"/>
<path d="M474.4 17.1h0M481.5 32.1h0M470.2 25.1h0M482.2 30.5h0M482.1 16.5h0M479.4 19.1h0M471.1 24.2h0M479 18.5h0M474.1 21.6h0M477.7 19h0M477.9 31.6h0M478.4 24.5h0M482.8 20.3h0M481.3 21.1h0M476.8 29.9h0M475.4 29.1h0M477.5 19.9h0M480.1 34.3h0M482.4 18.3h0M480.2 22.2h0M480.8 33.8h0M479.6 17.1h0M482 30.8h0M473.9 28.6h0M482.6 23.8h0M474.3 23.8h0M470.4 20.2h0M482.9 29.6h0M474 17.5h0M482.1 20.6h0M482.4 14.1h0M477.3 20.2h0M471.2 25.3h0M474.2 28.2h0M472.6 26.8h0M479.5 27.1h0M482.4 16.2h0M482.4 33.6h0M480.3 20.6h0M474.6 25.9h0M479.5 19h0M476.2 32.6h0M470 25.5h0M482.1 21.9h0M475.9 24.4h0M482.6 33.3h0M478.5 19.5h0M479 13.8h0M482.3 31h0M472.8 30.5h0M482.8 31.2h0M474.7 21.4h0M470.8 20.6h0M478.6 24h0" stroke="#d08890" stroke-width="1.2" stroke-linecap="round" stroke-opacity="0.8" fill="none"/>
<path d="M502.4 51.7h0M512.2 59.6h0M503.4 57.9h0M485.1 56.4h0M496 67.7h0M507.9 42.3h0M492.5 16h0M509.2 76.8h0M497.7 39.2h0M498 39.4h0M501.1 33.7h0M491.2 18.7h0M486.2 14.9h0M513.1 68.3h0M494.2 53.4h0M492 64.4h0M492.3 34.2h0M505 33.9h0M504.8 79.6h0M493.5 84.6h0M490 42.1h0M509.7 49.3h0M496.1 50.1h0M503 63.6h0M496.2 78.8h0M495.6 96.7h0M495.3 50.3h0M507.2 61.6h0M508.9 48.1h0M495.8 33.6h0M497.7 82.2h0M505.7 69.3h0M484.9 18h0M485.4 15.2h0M502.5 95.4h0M499.1 83.3h0M483.3 14.9h0M502.1 65.2h0M488.3 18.9h0M483 28.6h0M501.1 89.3h0M494.9 77.9h0M505.7 31.5h0M488.6 64.6h0M504.7 95h0M489.7 63.8h0M490.4 65.6h0M494.1 79.6h0M491.3 72.2h0M500.9 30.1h0M496.3 50.6h0M505.8 78.1h0M500.9 60.1h0M494 69.3h0M496.2 41.3h0M487.7 13.3h0M492.5 86.1h0M504.9 86.9h0M486.4 82.6h0M496.5 70.2h0M501.8 83.4h0M494 46.1h0M496.9 19.4h0M493 50.2h0M492.3 89.5h0M503.4 33.2h0M496.7 81h0M511.6 74.5h0M505.5 48.6h0M490.6 38h0M494.7 31h0M501 28.1h0M491.2 23.9h0M497.3 26.8h0M496.8 87.9h0M490.3 32.6h0M487.9 63.5h0M475.2 80.6h0M484.5 69.2h0M492.4 39.3h0M510.1 87.4h0M501.7 49h0M505.1 44.2h0M480.6 82.3h0M491.9 51h0M486 84.3h0M499.9 20.6h0M494.8 90.4h0M510.6 77.8h0M491.5 69.3h0M484 93.2h0M504.2 46h0M494.7 74h0M501 78.6h0M500.3 24.7h0M494.8 49.1h0M501.7 75.1h0M503.1 31.1h0M498.5 24h0M495.1 32h0M485.5 69.7h0M473 88.7h0M489.5 34.4h0M490.9 52.2h0M490.4 38.7h0M504 86.3h0M504 31.4h0M508.1 74.4h0M490.6 22.4h0M479.4 72.4h0M507.8 61.3h0M498.9 58.8h0M498 50.7h0M482.2 74.9h0M502.6 81.2h0M482 61.3h0M491.3 83.5h0M504.9 44h0M489.2 81.5h0M486.5 18.8h0M491.8 87.9h0M507.4 64.3h0M508.1 70.3h0M494.2 64h0M508.1 82.3h0M506.2 82.1h0M493.5 82.4h0M503.3 81.5h0M489.7 89.6h0M499.4 54.7h0M498.5 92.4h0M485 71.3h0M504.6 76.1h0M484.9 59.3h0M502.2 75.1h0M488.7 61.1h0M498.2 36.7h0M504.8 63.4h0M502.2 27.3h0M506 64h0M497.5 50.6h0M506.9 85.1h0M508.5 48.7h0M499.9 84.4h0M509.8 79.1h0M494.5 37h0M510 77.9h0M494.2 41.3h0M480.2 97.1h0M501.5 48.2h0M509.4 50.8h0M488.4 66.5h0M497.1 89.9h0M499.4 21.6h0M502.9 77.2h0M504.1 28.5h0M501.5 30.1h0M496.2 67.3h0M511.3 57.6h0M496.5 91.9h0M503.5 41.3h0M486 46h0M503.9 50.4h0M504.7 32.5h0M484.3 81.6h0M482.4 88.6h0M504.6 44.3h0M499.4 30.8h0M496.3 71.3h0M505.4 57.8h0M485.9 100.5h0M495.2 40.2h0M507.3 64.3h0M494.2 53.7h0M503.4 45.8h0M490.8 15.9h0M508.5 65.1h0M507.9 68h0M499.8 85.5h0M512.1 51.6h0M494.1 69.4h0M499.9 77.7h0M502.7 76.4h0M509.7 81.8h0M500.9 46h0M497.2 31.7h0M494.8 34.3h0M506.5 78.8h0M512.7 79.4h0M495.8 75.5h0M492.9 16.9h0M502.9 68.1h0M500.4 36.9h0M497.4 69.5h0M492 41.2h0M501.4 53.2h0M496 29.8h0M481.9 67.8h0M500.4 23.7h0M487.2 49.8h0M508 60.5h0M499.2 22.9h0M500.5 45.5h0M492.9 63.5h0M490.4 43.2h0M486.2 17.5h0M499.3 53h0M497.6 50.8h0M502.9 93.5h0M496.4 68.7h0M493.9 58.9h0M506.3 31.8h0M487.2 25.8h0M483.3 22.7h0M488.8 21.4h0M501.4 84.4h0M504.3 81.6h0M496.8 83.6h0M513.2 65.4h0M500.4 79.7h0M498.7 21.1h0M492.3 61.2h0M480.9 68h0M498.6 88h0M494.3 61.1h0M493.5 35.2h0M488.8 92.6h0M494 72.5h0M495.4 70.7h0M495.4 71.5h0M501.2 63.4h0M495.9 69.9h0M499.1 41.2h0M492.3 68.8h0M490 33.7h0M485.9 28.1h0M474.7 81.1h0M509.7 61.4h0M496.2 39.3h0M504.2 75.8h0M498.4 72.5h0M482.8 86h0M492 95.2h0M508.9 77.7h0M490.2 43h0M511.9 77.9h0M498.4 61.2h0M496.5 25.9h0M494.4 23.1h0M508.1 89.4h0M509.9 74.8h0M491.4 34.3h0M484.5 75h0M501.9 52.5h0M510.8 52h0M483.1 21.4h0M490.6 35.1h0M507.2 71.2h0M490.1 43.4h0M498 47.6h0M491.3 82.5h0M490 48.8h0M503.3 69.4h0M498.9 91h0M496.4 82.6h0M491.6 67.2h0M491.8 75h0M493.5 93.9h0M507.4 64.7h0M494.7 87.7h0M490.9 28.2h0M497.6 40.1h0M499.5 64.2h0M498.3 31h0M491.8 17.7h0M507.2 38.8h0M482.6 82.6h0M489.5 80.1h0M505.9 54.3h0M499.8 70.6h0M499.2 56.3h0M500.8 76.8h0M497.8 61.3h0M508.4 73.8h0M496.3 69.9h0M489.8 60.8h0M495.4 75.6h0M487.7 40.7h0M496.1 83.3h0M479 99.3h0M488.3 30h0M500 66.9h0M510.9 58h0M505.8 69h0M509.2 78.3h0M492.6 26.8h0M486.6 43.9h0M489.2 94h0M494 32.8h0M498.4 46.2h0M510.8 71h0M492.7 60.6h0M491.8 66.1h0M507.2 65.4h0M495.4 48.8h0M499.5 73.3h0M488 42.4h0M499.1 80.8h0M484.4 25.2h0M494.1 43h0M487.6 63.2h0M511.1 65.5h0M510.4 88.7h0M504.1 83.3h0M477.2 84.1h0M511.4 81.4h0M494.7 39h0M512.6 57.8h0M495.7 32.3h0M505.8 74.6h0M507 74.5h0M482.5 68.4h0M511.3 60.6h0M491.5 22.8h0M496.9 28.4h0M501.7 85h0M509.8 42.9h0M489 91.7h0M484.9 80.2h0M491.9 60h0M492.2 17.1h0M506.1 92.3h0M480.6 89.2h0M495.5 59.8h0M501.4 41.8h0M503.1 75.9h0M498.5 74.9h0M478.1 91.9h0M513.5 74.2h0M502.9 62h0M486.8 38.5h0M499.6 74.1h0M506.4 53.3h0M492.7 62.5h0M502.9 37.4h0M476 84.9h0M493.7 96.4h0M507 77.3h0M511.1 54.5h0M496.9 41.7h0M496 51.5h0M491.5 33.5h0M510.6 67.5h0M509.7 56h0M496.5 88.8h0M509.9 76.8h0M481.9 94.4h0M491.7 85h0M492.4 24.2h0M499 78.2h0M489.3 69.6h0M499.8 62.4h0M506 72.3h0M511 60h0M507.5 43.6h0M502.1 31.6h0M496 51.2h0M491.5 49.4h0M485.9 35.1h0M502.9 97.1h0M497.9 70.2h0M488.3 89.2h0M501.6 49.2h0M503.9 59.6h0M509.1 52.5h0M502.9 44.6h0M480.8 68.6h0M507.1 91.6h0M490 32.5h0M493.4 30.1h0M506.1 61.2h0M501.2 30.4h0M487.5 39.9h0M507.5 40.3h0M500.2 64.4h0M498.4 43.3h0M502.1 39.5h0M502 71.3h0M495.5 70h0M501.3 66.4h0M489.1 50.2h0M495.9 23.8h0M499.7 23.9h0M497 25.6h0M504.9 52.7h0M490.2 63.7h0M507.6 47.2h0M490.2 94.2h0M497.6 18.8h0M498.1 29.7h0M501.1 91.9h0M481.7 98.4h0M509.4 81.5h0M496 87.2h0M492.6 89.2h0M502.9 25.3h0M502.2 82.1h0M482.7 62.3h0M501.3 29.1h0M500 39.7h0M483.2 75.4h0M498.1 56h0M510.3 88.3h0M496.9 47.9h0M483.5 57.6h0M506.7 56.2h0M493.2 94.5h0M486.8 49.1h0M499.4 62.2h0M494.5 57.7h0M492.7 73.9h0M484.2 22.4h0M490.9 31.8h0M504.3 41.1h0M506.4 72.2h0M494.8 92.3h0M500.6 22.1h0M497.5 26.2h0M494.6 81.6h0M510.8 58.6h0M506.7 40.1h0M481 95h0M513.2 67.9h0M496.2 73.3h0M487.7 19.3h0M488.4 45.4h0M493.6 27.1h0M495.3 76h0M500.7 44.4h0M499.1 86.6h0M503.3 82.8h0M505.4 54.3h0M496.7 21.4h0M513.5 72.8h0M502 34.8h0M499.4 63.7h0M496.6 42.5h0M501.8 81.5h0M483.9 71.6h0M492.1 78.9h0M495 65.3h0M493.9 56.3h0M508.2 44.4h0M503.9 60.4h0M506.4 86h0M511.6 83.2h0M496.1 42.6h0M483.5 66.3h0M503 63.3h0M503.8 80h0M493.6 48.2h0M506.2 55.3h0M505.7 77.1h0M496 74h0M494.6 80.1h0M495.1 23.2h0M512.8 76.9h0M492.7 27.7h0M512.8 77.6h0M507.3 44.5h0M508.2 77.2h0M487.4 39.6h0M496.3 82.6h0M494.6 74.7h0M492.9 64.7h0M484.6 61.8h0M495.7 80.9h0M488.3 58.4h0M494.4 33.3h0M502.4 50.3h0M483.4 80.7h0M489.3 30.1h0M497.9 61.7h0M498.5 61.3h0M490.2 51.4h0M497.7 83.3h0M490 29.5h0M484.4 29h0M490.9 49.8h0M485.2 61.8h0M494.5 87.5h0M510 47.7h0M497 58.4h0M478 74.2h0M498.9 90.6h0M486.8 34.1h0M489.3 68.3h0M512.1 62.8h0M494.5 79.3h0M507.1 43.4h0M475.1 94.9h0M488.6 20.1h0M487.8 80.6h0M496.3 85h0M498.2 30.6h0M489.8 44.9h0M496.6 36.2h0M492.5 27.3h0M492.4 54.7h0M486.4 46.4h0M479 87.3h0M495.3 48.7h0M482.3 85.7h0M486.5 67.6h0M496.6 52.6h0M491.7 49.3h0M497.6 84h0M507.5 77.1h0M510.7 45.5h0M506.7 80.6h0M512.1 52h0M508.6 67.9h0M509.1 75.5h0M499.5 40.2h0M505.4 31.5h0M490.4 46.8h0M500.6 21.9h0M500.2 45.9h0M493.4 19.6h0M492.6 96.4h0M491.1 25.6h0M485.7 51.9h0M513.5 73.7h0M505.9 95.1h0M486.6 85.8h0M500.1 31.8h0M488.5 69.4h0M493.9 30.5h0M510.1 74.4h0M503.2 30.2h0M493.2 81.3h0M501 72.1h0M480.7 75h0M476.8 89.6h0M499.8 22.8h0M503.9 87.6h0M509.7 67.7h0M501.9 23h0M500.8 32.9h0M494.4 73.8h0M499.4 99.7h0M490.5 53.7h0M482.8 80.4h0M508.3 77.8h0M475.5 90.5h0M504.3 53.9h0M510.9 75.6h0M495.2 60.3h0M499.5 63h0M490 67.2h0M490.2 32.7h0M503.5 47.4h0M498.7 92.5h0M505.7 39.5h0M475.9 76.1h0M477.1 91.1h0M497.1 40.4h0M490.4 42.3h0M488.6 46.8h0M501.4 64.2h0M502.6 84.3h0M503.4 50.8h0" stroke="#b85868" stroke-width="1.2" stroke-linecap="round" stroke-opacity="0.8" fill="none"/>
<path d="M505 93.9h0M477.1 87.2h0M485.6 89.6h0M488.4 98h0M481.2 98.3h0M492.9 99.6h0M488 95.7h0M476.1 96.3h0M502.3 94.9h0M486.6 100.9h0M501.4 89.3h0M473.6 89.1h0M476.4 84.1h0M482.5 93.5h0M495.4 97.3h0M497 99.7h0M488.7 93.4h0M494.2 99.3h0M484.8 101.8h0M480.7 91.1h0M480.9 84.8h0M491.6 95.6h0M481.4 93.1h0M479.6 100.1h0M476.1 92.7h0M491.3 100h0M493.5 100.8h0M480.5 87.4h0M489.9 95.6h0M482.5 95.4h0M487.9 83.7h0M500.1 95.4h0M484.8 85.7h0" stroke="#a8b0bc" stroke-width="1.2" stroke-linecap="round" stroke-opacity="0.8" fill="none"/>
<path d="M487.7 62.5h0M478.3 79.4h0M487 27.5h0M483.7 77.6h0M489 61.3h0M487.4 18.6h0M484.6 69h0M488.6 65.5h0M484.1 26.5h0M488.8 19.3h0M488.4 69h0M487 47.2h0M487.6 51.6h0M485.1 57.9h0M488.6 69.4h0M487.9 16.4h0M490 29.6h0M488.4 36.1h0M483.9 36.2h0M485.6 75.3h0M486.7 17.5h0M489.6 25.3h0M484.1 64.4h0M486.4 57.8h0M485.7 62.2h0M489 20.5h0M485.3 43.4h0M488.8 55h0M482.7 60h0M486.9 56.2h0M483.1 27.7h0M487.2 49.1h0M483.7 70.9h0M487.4 47.8h0M481.6 70.4h0M488 56.4h0M483.9 65.6h0M489.8 53.7h0M479.8 70.3h0M489.7 41.7h0M488.5 62.8h0M484.9 23.8h0M488.5 15.8h0M487.9 59.9h0M489.5 76.9h0M486 35.1h0M488.1 39.5h0M483.1 13.5h0M482.6 73.8h0M488.3 75.8h0M486.6 74.3h0M488.8 40h0M480 69.3h0M475.1 77.7h0M489.3 47.2h0M488.6 19.5h0M486.8 33h0M488.6 67.5h0M476.7 77.6h0M489.3 48.5h0M487.1 59.2h0M489.4 25.5h0M482.6 70.2h0M485.1 36.1h0M488.6 41.6h0M486.9 56.8h0M486.7 38.4h0M478.8 70.6h0M477.5 75.2h0M486.7 72.1h0M487.5 79h0M480.5 69.1h0M483.6 72.8h0M482.2 67.5h0M488.8 44.2h0M480.9 75.9h0M483.6 13.9h0M485.4 56.4h0M487.7 53.4h0M489.9 50.9h0M486.5 25.5h0M483 23.2h0M485.6 68.8h0M481.3 67.3h0M486 36.5h0M482.6 77.3h0M487 41.3h0M484.2 71.6h0M482.3 79.2h0M486.5 72.8h0M479.6 73.4h0M483.9 31.9h0M484.4 26.2h0M479.1 76.7h0M481.7 63.3h0M488.8 63.4h0M485.5 35.2h0M484.1 65.9h0M486.4 69.9h0" stroke="#b0a0b0" stroke-width="1.2" stroke-linecap="round" stroke-opacity="0.8" fill="none"/>
<path d="M481.8 31.4h0M476 17.1h0M482.3 33h0M473 22.1h0M476 17.3h0M470 20.4h0M475.4 25.8h0M478.8 33.5h0M474.4 27.6h0M477.7 27.5h0M479.5 15.8h0M482.5 15.9h0M476.2 29.3h0M479.9 19.9h0M471 26.4h0M474.8 19.1h0M474.9 21.3h0M481.7 19.8h0M478.7 27.9h0M476.2 25.3h0M478.7 25.4h0M474.4 27.4h0M482 35.1h0M475.5 17.2h0M482.1 30.4h0M482.5 23h0M476.3 32.1h0M474.9 30.8h0M470.8 24.2h0M476.3 28.4h0M478.9 18.9h0M482.4 26.2h0M471 18h0M481.1 32.2h0M476.9 30.8h0M472.8 23.6h0M476.3 24.3h0M482.8 19.9h0" stroke="#b0a8b8" stroke-width="1.2" stroke-linecap="round" stroke-opacity="0.8" fill="none"/>
<path d="M497.4 48.9h0M507.3 81.4h0M506 59.3h0M488.6 25.6h0M500.8 81.3h0M488.7 39.8h0M494.1 16.4h0M493.1 39.4h0M477.7 79.7h0M492.5 27h0M511.4 53.5h0M487.7 30h0M494.3 37.6h0M493.6 76.5h0M494.3 51.3h0M485.9 31h0M500.2 59.4h0M496.6 80.2h0M487.8 71.2h0M491.1 50.1h0M504.4 87.8h0M487.2 86h0M499.4 68.8h0M496.9 45.9h0M489.2 72.4h0M481.5 96.2h0M508.5 83h0M484.6 66.4h0M485.7 47.3h0M500.6 30.1h0M513.5 65.7h0M506.1 32.7h0M491.6 84.9h0M505.6 40.7h0M496.1 45h0M489.9 97.9h0M491.6 64.9h0M505.9 36.7h0M487.2 34.5h0M498.3 26.5h0M499.8 60.5h0M497.7 50.3h0M493.9 49.3h0M499.3 77.6h0M498.8 57.5h0M502.2 86.4h0M510.5 69.8h0M495.7 85.2h0M509.5 85.4h0M504 65.9h0M494.9 47.9h0M492.1 83h0M488.6 39.8h0M496.3 95h0M503.9 43.9h0M490.8 28.7h0M478.8 78h0M485.7 52.5h0M508.3 72.4h0M494.9 71.9h0M485.7 17.1h0M480.7 81.2h0M506.2 93.5h0M503.2 67.8h0M493.9 59.3h0M503.9 64.8h0M509.3 81.8h0M492.9 15.5h0M504 57.9h0M493.6 93.5h0M504.9 63.3h0M500.8 82.8h0M499.1 61.2h0M485.2 30.7h0M495 36.4h0M440 69.6h0M452.1 59.8h0M446.1 66.3h0M449.5 63.5h0M454.1 52.9h0M447.3 60.6h0M448 60.4h0M440.5 68.8h0M454.8 55.6h0M438.4 65.3h0M456.7 52h0M449.4 54.9h0M445.2 60.9h0M437.7 72h0M444.2 66.2h0M451.8 59h0M433.9 70.3h0M455.3 51.5h0M451.4 52.8h0M443.1 59h0M433.8 68.7h0M434.5 67.4h0M441.6 61.3h0M445.3 61h0M446.3 56.2h0M432.7 69.5h0M445.6 60.7h0M456.8 52.6h0M451.1 56.3h0M441.4 62.5h0M452.9 58.4h0" stroke="#80b8c8" stroke-width="1.2" stroke-linecap="round" stroke-opacity="0.8" fill="none"/>
<path d="M489.3 85.2h0M511.7 81.4h0M510.5 64.9h0M496.6 37.1h0M509.8 73.6h0M504.1 27.4h0M504.2 48.9h0M495.7 88.8h0M503.3 58.6h0M497.8 65.7h0M492.1 50.1h0M497.7 75.1h0M496 35.7h0M503.9 42.2h0M492.2 30.5h0M489.7 100.8h0M500.2 70.4h0M506 83.6h0M492.8 18.6h0M508.4 74h0M496.4 60.9h0M508.6 52.2h0M506.7 45.1h0M475.5 90h0M506.5 58.5h0M503.6 83.9h0M492.2 59.1h0M512.8 80.7h0M496.7 63.4h0M496.3 44.5h0M504.4 31.8h0M503.3 85.6h0M504.8 62.1h0M496.4 79.1h0M507.5 73.9h0M508.9 52.7h0M491.9 32.6h0M502 82.1h0M495 19.6h0M497.2 28.6h0M504.4 39h0M487.6 93.5h0M503.1 31.7h0M505 56.6h0M498.4 74.8h0M511.9 68h0M480.4 81.8h0M491.7 78h0M510.6 76h0M502.7 87.8h0M489.1 83.3h0M498.3 85.9h0M495.1 25.9h0M500.2 88.3h0M507.4 70.8h0M503.6 83.3h0M496.9 101.1h0M513 65.1h0M496.8 94.7h0M493.8 51.4h0M500.3 33.6h0M496 88h0M501.2 71.5h0M491.6 44.8h0M506.6 67h0M503.5 62.4h0M492.7 83h0M496.2 46.6h0M499.1 93.8h0M507 69.1h0M495.3 77.4h0M501.7 52.2h0M504.1 59.1h0M502.5 32.3h0M483.3 82.2h0M511.5 55.6h0M475.5 82.1h0M490.2 75.4h0M497 58.8h0M508 52.6h0M475.5 85.7h0M506 41.4h0M503.1 52.7h0M483.5 98.9h0M503.3 57.9h0M511.3 53.2h0M494.7 28.4h0M508.3 57.6h0M472.7 86.3h0M492.4 23.4h0M477.4 85.2h0M509.7 43.2h0M493.7 77.3h0M500.1 47.4h0M504.8 71.5h0M498.3 26.5h0M498 35.9h0M495.4 16.9h0M504.2 83.1h0M497.2 79.8h0M500 82.4h0M492 59.1h0M500 72.5h0M504.3 34.3h0M494.5 45.9h0M496.3 32.5h0M507 53.3h0M510.4 47.2h0M504.5 35.1h0M496.7 28.9h0M506 52.1h0M504.1 64.5h0M509.2 83h0M502.4 68.7h0M512 79h0M505.8 33.2h0M507.4 60.7h0M500.9 60.8h0M485.7 99.5h0M501.6 92.3h0M499 42.7h0M513.1 66.2h0M498.9 29.8h0M490.9 43.7h0M508.9 45.6h0" stroke="#b8a0a8" stroke-width="1.2" stroke-linecap="round" stroke-opacity="0.8" fill="none"/>
<path d="M479.2 25.4h0M475 23.6h0M481.5 32.3h0M481.4 33.1h0M476.2 30.4h0M472.5 23.4h0M481.7 28.8h0M474 29.5h0M479.6 18.8h0M478.5 22.3h0M481 21.7h0M473.6 29.9h0M472.6 17.5h0M476.3 27.6h0M474.4 30.7h0M480.7 30.2h0M477.5 27.3h0M479.7 22.5h0M481.4 14.9h0M482.9 33.8h0M478.8 30.7h0M470.1 24.6h0M474.9 21.3h0M475 27.5h0M482.2 34.4h0M478.2 32.1h0M480.5 32.5h0M482.4 22.7h0M475.2 21.4h0M479.4 19.3h0M481.6 32.2h0M477.3 24.3h0M475.2 15.8h0M481.9 31.1h0M475.7 22.1h0" stroke="#e0c0c8" stroke-width="1.2" stroke-linecap="round" stroke-opacity="0.8" fill="none"/>
<path d="M449 63.7h0M446.9 64.8h0M435.3 72.4h0M444.5 65.7h0M445.2 65.9h0M449.7 60.5h0M441.6 62.1h0M443.4 60.3h0M433.1 72.9h0M442.8 70h0M442.7 65.9h0M434.3 75.8h0M456.1 53.6h0M449.6 62.1h0M436.3 69.2h0M437.4 69.1h0M434.1 67.9h0M452.1 56.2h0M440.7 66h0M445.5 59.9h0M450.5 61.5h0M436.4 71.5h0M451.5 58.1h0M440.3 65.7h0M433.5 69.2h0M452.5 51.9h0M447.1 65.7h0M444.3 68.4h0M442 67.1h0M451.6 56.1h0M437.5 73.9h0M446.1 60.8h0M433 68.8h0M436 69.2h0M434.5 74.2h0M438.9 72.5h0M441 66.9h0M447 58.5h0M433.7 67h0M447.2 65.8h0M449.4 56.6h0M434.1 73h0M452.3 60.5h0M452.7 55.2h0M454.5 54.9h0M443.3 59.6h0M436.4 68.6h0M452.1 52.1h0M443.7 66h0M439.6 67.4h0M448.1 61.3h0M439.7 70.8h0M444.7 67.6h0M437.5 72.7h0M446.5 66.6h0M442.7 67.8h0M445.1 61.7h0M450.4 59.7h0M448 60.9h0M440.8 70.5h0M450.6 57h0M434.7 70.3h0M443.5 65.6h0M445.7 59.5h0M456.1 52.1h0M443.6 69.1h0M455 52.5h0M446.5 66.5h0M453.5 52.1h0M445.1 65.9h0M449.3 56.8h0M441.5 67.3h0M442.5 68.7h0M444.2 58.5h0M444.9 64.4h0M449 60.2h0M440.2 70.1h0M453 54.3h0M437.7 74h0M454.7 52.7h0M452.7 57.1h0M441.4 61.9h0M451.8 59.4h0M442.9 61.9h0M450.8 58.4h0M438 66h0M441.5 69.8h0M454 51.4h0M439.3 65.8h0M438.4 65.3h0M449.8 55.6h0M448.4 59.8h0M437.2 67.7h0M439.8 65.5h0M450.2 52.6h0M441.8 65.6h0M453.4 58.4h0M438.6 69.4h0M449.2 54.8h0M439.5 62.9h0M433.7 71.9h0M445.9 56.8h0M447.7 55.9h0M440.2 65.4h0M432.1 70.5h0M444.8 67h0M438.5 72.9h0M447.3 63.7h0M440.4 62.5h0M444.4 60.9h0M435.4 71.8h0M444.9 61.9h0M447.8 56.9h0M445.9 58.4h0M441.2 70.8h0M437.2 74.1h0M440.6 67.1h0M439.8 68.9h0M438.8 64.2h0M444.1 61.4h0M447.6 62h0M436.8 65.6h0M451.2 51.7h0M437 70.9h0M433.9 73.2h0M447 59.6h0M452.5 52.1h0M446.4 63.1h0M451.6 54.9h0M444 65.9h0M450.7 56.1h0M441 63h0M448.6 57.3h0M435 66.7h0M436.8 65.9h0M433.3 71.1h0M435.6 69.5h0M443.2 64.2h0M434.6 71.5h0M437.8 64.2h0M450 54.1h0M437.2 64.5h0M452.4 52.2h0M436.6 64.7h0M437.8 74.2h0M440.2 62h0M441.4 65h0M443.8 66.7h0M435.6 70.8h0M450.7 57.3h0M435.6 70.2h0M440.3 66.1h0M448.2 63.6h0M452.1 55.1h0" stroke="#d07080" stroke-width="1.2" stroke-linecap="round" stroke-opacity="0.8" fill="none"/>
<path d="M440.9 70.7h0M438.3 73.1h0M448.1 60.1h0M450.1 58.1h0M441.7 62.4h0M436.7 70.1h0M454.3 52.1h0M444.1 66.1h0M438.3 65h0M450.5 60h0M456.2 55.9h0M437.2 68.6h0M441.4 64.8h0M447.8 63.7h0M434.8 67.4h0M440.6 61.9h0M452.2 53.8h0M441.6 69.6h0M448.6 55h0M433.8 70.6h0M447.9 60.2h0M437.9 74.1h0M444.9 64.4h0M454.4 56.3h0M446.8 60.4h0M435.7 70.3h0M438.3 68.7h0M449.8 54h0M434.7 66.5h0M454.1 54.1h0M450 55.5h0M443.6 66.5h0M450.4 61.1h0M452.5 55.2h0M442.4 60.1h0M455.3 53.4h0M447.3 65.3h0M446.4 61.9h0M439.8 63.3h0M437.7 65.2h0M450.4 62.1h0M442.1 60.4h0M447.1 57.3h0M440.4 63.2h0M434.5 68.1h0" stroke="#e8a8b0" stroke-width="1.2" stroke-linecap="round" stroke-opacity="0.8" fill="none"/>
<path d="M472.5 80h0M465.8 69.7h0M457.3 61.3h0M456.3 55.6h0" stroke="#c0b0c0" stroke-width="1.2" stroke-linecap="round" stroke-opacity="0.8" fill="none"/>
<path d="M459.4 61.5h0M458.3 58.6h0M468.7 73.7h0M468.8 74.7h0M463.1 67.2h0" stroke="#d8a0a8" stroke-width="1.2" stroke-linecap="round" stroke-opacity="0.8" fill="none"/>
<path d="M474.8 34.5Q478 30.5 483 31.5" stroke="#b03040" stroke-width="1.3" fill="none" opacity="0.8"/>
<path d="M421.9 54.6V112.3H477" stroke="#000" stroke-width="1.6" fill="none"/>
<path d="M421.9 49.6L418.1 56L425.7 56Z" fill="#000"/>
<path d="M482 112.3L475.6 108.5L475.6 116.1Z" fill="#000"/>
<text transform="translate(414.5 80.9) rotate(-90)" font-size="7.8" text-anchor="middle">UMAP 2</text>
<text x="435" y="126" font-size="7.5" text-anchor="start" font-weight="normal">UMAP 1</text>
<text x="463.5" y="142.2" font-size="7.5" text-anchor="middle" font-weight="normal">Tissue identity</text>
<circle cx="456.5" cy="155" r="2.2" fill="#5ab8c8"/>
<text x="461.8" y="157.6" font-size="7.3" text-anchor="start" font-weight="normal">LN</text>
<circle cx="456.5" cy="164.2" r="2.2" fill="#c87878"/>
<text x="461.8" y="166.8" font-size="7.3" text-anchor="start" font-weight="normal">PB</text>
<g stroke-width="13.43" shape-rendering="crispEdges">
<path d="M156 325.77h1M159 325.77h1M144 352.44h1M155 352.44h2M159 352.44h1M167 352.44h1M172 352.44h1M174 352.44h1M184 352.44h1M186 352.44h1M189 352.44h3M203 352.44h1M206 352.44h1M211 352.44h2M217 352.44h1M159 365.76h1M167 365.76h1M172 365.76h1M174 365.76h1M181 365.76h1M184 365.76h3M189 365.76h2M203 365.76h2M206 365.76h1M144 379.1h1M146 379.1h1M155 379.1h2M158 379.1h2M164 379.1h1M167 379.1h1M171 379.1h1M174 379.1h1M176 379.1h1M181 379.1h1M189 379.1h2M197 379.1h1M204 379.1h1M206 379.1h1M211 379.1h2M214 379.1h1M216 379.1h1M144 392.43h1M159 392.43h1M167 392.43h1M174 392.43h1M185 392.43h1M189 392.43h2M197 392.43h1M201 392.43h1M203 392.43h2M144 405.75h1M159 405.75h1M167 405.75h1M174 405.75h1M184 405.75h1M186 405.75h1M189 405.75h2M202 405.75h2M206 405.75h1M159 565.72h1" stroke="#fdf3e0"/>
<path d="M163 352.44h3M168 352.44h1M171 352.44h1M173 352.44h1M175 352.44h1M177 352.44h3M181 352.44h1M183 352.44h1M185 352.44h1M187 352.44h1M192 352.44h1M194 352.44h1M196 352.44h1M201 352.44h1M204 352.44h1M209 352.44h1M213 352.44h4M218 352.44h1M220 352.44h4M144 365.76h1M153 365.76h3M163 365.76h2M166 365.76h1M168 365.76h1M171 365.76h1M173 365.76h1M175 365.76h2M179 365.76h1M183 365.76h1M187 365.76h1M191 365.76h1M194 365.76h1M197 365.76h2M205 365.76h1M207 365.76h1M209 365.76h1M212 365.76h1M216 365.76h3M223 365.76h2M42 379.1h1M168 379.1h1M172 379.1h1M177 379.1h3M182 379.1h5M191 379.1h1M195 379.1h1M200 379.1h4M208 379.1h1M213 379.1h1M215 379.1h1M217 379.1h1M162 392.43h1M164 392.43h2M171 392.43h2M175 392.43h2M179 392.43h1M181 392.43h1M183 392.43h2M186 392.43h2M191 392.43h1M195 392.43h2M198 392.43h2M202 392.43h1M206 392.43h1M211 392.43h2M214 392.43h1M216 392.43h1M218 392.43h1M220 392.43h1M156 405.75h1M162 405.75h3M170 405.75h4M177 405.75h1M185 405.75h1M187 405.75h1M194 405.75h1M204 405.75h1M209 405.75h1M212 405.75h1" stroke="#fdf0da"/>
<path d="M157 272.46h1M146 352.44h1M157 352.44h1M161 352.44h2M166 352.44h1M169 352.44h2M176 352.44h1M182 352.44h1M193 352.44h1M195 352.44h1M197 352.44h4M202 352.44h1M207 352.44h2M210 352.44h1M224 352.44h1M156 365.76h1M158 365.76h1M162 365.76h1M165 365.76h1M177 365.76h2M182 365.76h1M193 365.76h1M195 365.76h2M199 365.76h1M201 365.76h2M208 365.76h1M211 365.76h1M213 365.76h3M220 365.76h3M19 379.1h1M23 379.1h2M43 379.1h1M50 379.1h1M162 379.1h2M170 379.1h1M173 379.1h1M175 379.1h1M180 379.1h1M187 379.1h1M192 379.1h1M194 379.1h1M198 379.1h2M205 379.1h1M207 379.1h1M209 379.1h2M218 379.1h1M220 379.1h1M223 379.1h1M146 392.43h1M150 392.43h1M155 392.43h2M161 392.43h1M163 392.43h1M166 392.43h1M168 392.43h2M173 392.43h1M177 392.43h2M182 392.43h1M188 392.43h1M192 392.43h1M194 392.43h1M200 392.43h1M205 392.43h1M207 392.43h3M213 392.43h1M217 392.43h1M221 392.43h1M223 392.43h2M146 405.75h1M161 405.75h1M165 405.75h2M168 405.75h2M176 405.75h1M179 405.75h1M181 405.75h3M191 405.75h1M195 405.75h1M197 405.75h2M201 405.75h1M218 405.75h1M220 405.75h1M159 525.73h1M144 565.72h1M155 565.72h3" stroke="#fdedd4"/>
<path d="M144 232.47h1M156 232.47h1M42 272.46h1M144 272.46h1M146 272.46h1M148 272.46h1M159 312.44h1M155 325.77h1M145 352.44h1M148 352.44h1M158 352.44h1M188 352.44h1M205 352.44h1M219 352.44h1M169 365.76h2M188 365.76h1M192 365.76h1M200 365.76h1M210 365.76h1M16 379.1h3M20 379.1h2M27 379.1h1M29 379.1h2M32 379.1h1M34 379.1h2M38 379.1h4M47 379.1h2M145 379.1h1M148 379.1h1M154 379.1h1M157 379.1h1M161 379.1h1M165 379.1h2M169 379.1h1M188 379.1h1M196 379.1h1M219 379.1h1M221 379.1h2M224 379.1h1M157 392.43h1M170 392.43h1M180 392.43h1M193 392.43h1M210 392.43h1M215 392.43h1M222 392.43h1M145 405.75h1M154 405.75h1M157 405.75h1M175 405.75h1M192 405.75h1M196 405.75h1M199 405.75h2M205 405.75h1M208 405.75h1M211 405.75h1M213 405.75h1M216 405.75h2M223 405.75h1M144 525.73h1M156 525.73h3M158 565.72h1" stroke="#fceacf"/>
<path d="M154 232.47h1M212 232.47h1M144 245.8h1M29 272.46h1M38 272.46h2M41 272.46h1M43 272.46h1M45 272.46h1M50 272.46h1M145 272.46h1M155 272.46h2M159 272.46h1M158 325.77h1M159 339.11h1M149 352.44h1M154 352.44h1M180 352.44h1M146 365.76h1M157 365.76h1M161 365.76h1M180 365.76h1M219 365.76h1M22 379.1h1M25 379.1h2M28 379.1h1M31 379.1h1M33 379.1h1M36 379.1h1M44 379.1h3M49 379.1h1M150 379.1h1M153 379.1h1M193 379.1h1M148 392.43h1M153 392.43h2M158 392.43h1M219 392.43h1M155 405.75h1M158 405.75h1M178 405.75h1M180 405.75h1M193 405.75h1M207 405.75h1M210 405.75h1M214 405.75h2M221 405.75h2M224 405.75h1M146 565.72h1" stroke="#fce7c9"/>
<path d="M159 232.47h1M167 232.47h1M156 245.8h1M30 272.46h1M32 272.46h1M35 272.46h2M40 272.46h1M44 272.46h1M46 272.46h1M48 272.46h1M154 272.46h1M144 312.44h1M155 312.44h1M167 312.44h1M154 325.77h1M167 325.77h1M157 339.11h1M150 352.44h1M152 352.44h1M145 365.76h1M147 365.76h1M37 379.1h1M145 392.43h1M147 405.75h1M188 405.75h1M219 405.75h1M174 472.4h1M155 525.73h1M153 565.72h1" stroke="#fce4c3"/>
<path d="M150 232.47h1M155 232.47h1M174 232.47h1M186 232.47h1M206 232.47h1M159 245.8h1M206 245.8h1M158 259.12h1M26 272.46h2M47 272.46h1M49 272.46h1M147 272.46h1M153 272.46h1M158 272.46h1M30 285.79h1M32 285.79h1M42 285.79h1M159 285.79h1M148 312.44h1M161 312.44h1M144 325.77h1M157 325.77h1M161 325.77h1M156 339.11h1M153 352.44h1M148 365.76h1M150 365.76h1M147 379.1h1M152 379.1h1M147 392.43h1M152 392.43h1M148 405.75h1M152 405.75h2M146 525.73h1M148 565.72h1M154 565.72h1M161 565.72h1" stroke="#fce1bd"/>
<path d="M145 232.47h2M148 232.47h1M157 232.47h1M204 232.47h1M155 259.12h2M159 259.12h1M28 272.46h1M31 272.46h1M33 272.46h2M37 272.46h1M149 272.46h2M29 285.79h1M45 285.79h1M144 285.79h1M155 285.79h1M155 299.12h1M159 299.12h1M157 312.44h1M146 325.77h1M155 339.11h1M147 352.44h1M151 352.44h1M149 365.76h1M152 365.76h1M149 379.1h1M150 405.75h2M167 472.4h1M189 472.4h1M206 472.4h1M149 525.73h1M154 525.73h1M147 565.72h1" stroke="#fcdcb5"/>
<path d="M152 232.47h2M158 232.47h1M184 232.47h1M190 232.47h1M198 232.47h1M209 232.47h1M146 245.8h1M153 245.8h1M174 245.8h1M146 259.12h1M161 272.46h1M38 285.79h1M47 285.79h1M154 285.79h1M144 299.12h1M154 312.44h1M156 312.44h1M190 312.44h1M145 325.77h1M148 325.77h1M153 325.77h1M174 325.77h1M144 339.11h1M154 339.11h1M158 339.11h1M151 379.1h1M151 392.43h1M160 392.43h1M145 525.73h1M153 525.73h1M156 552.38h1M159 552.38h1M206 552.38h1M145 565.72h1" stroke="#fbd7ae"/>
<path d="M147 232.47h1M149 232.47h1M151 232.47h1M161 232.47h1M169 232.47h1M179 232.47h1M189 232.47h1M191 232.47h1M197 232.47h1M203 232.47h1M211 232.47h1M145 245.8h1M152 245.8h1M167 245.8h1M154 259.12h1M157 259.12h1M152 272.46h1M31 285.79h1M34 285.79h2M43 285.79h1M46 285.79h1M49 285.79h1M145 312.44h2M189 312.44h1M204 312.44h1M152 325.77h1M203 325.77h1M212 325.77h1M150 339.11h1M153 339.11h1M161 339.11h1M160 365.76h1M160 379.1h1M149 392.43h1M149 405.75h1M190 472.4h1M204 472.4h1M147 525.73h2M150 525.73h1M161 525.73h1M152 565.72h1" stroke="#fbd2a6"/>
<path d="M79 232.47h2M136 232.47h1M168 232.47h1M172 232.47h2M181 232.47h1M201 232.47h2M214 232.47h3M218 232.47h1M223 232.47h1M149 245.8h2M154 245.8h2M158 245.8h1M203 245.8h2M151 272.46h1M186 272.46h1M24 285.79h1M36 285.79h1M39 285.79h1M41 285.79h1M44 285.79h1M48 285.79h1M50 285.79h1M156 285.79h1M158 285.79h1M156 299.12h1M167 299.12h1M149 312.44h1M152 312.44h1M158 312.44h1M174 312.44h1M183 312.44h2M147 325.77h1M204 325.77h1M220 325.77h1M145 339.11h2M148 339.11h1M225 352.44h1M160 405.75h1M191 472.4h1M209 472.4h1M159 485.74h1M167 525.73h1M174 525.73h1M144 539.06h1M167 539.06h1M158 552.38h1M149 565.72h2M159 579.05h1" stroke="#fbcd9f"/>
<path d="M77 232.47h1M81 232.47h2M91 232.47h1M128 232.47h1M133 232.47h2M140 232.47h1M142 232.47h2M162 232.47h1M176 232.47h1M183 232.47h1M187 232.47h1M213 232.47h1M216 245.8h1M144 259.12h1M153 259.12h1M167 259.12h1M184 272.46h1M23 285.79h1M25 285.79h2M28 285.79h1M33 285.79h1M153 285.79h1M161 285.79h1M212 285.79h1M146 299.12h1M157 299.12h1M150 312.44h1M153 312.44h1M203 312.44h1M149 325.77h3M206 325.77h1M160 352.44h1M227 352.44h1M151 365.76h1M225 365.76h1M19 419.09h1M84 419.09h2M109 419.09h1M30 432.42h1M159 432.42h1M90 445.75h1M95 445.75h1M103 445.75h1M105 445.75h1M114 445.75h1M128 445.75h2M134 445.75h1M53 459.08h1M71 459.08h2M109 459.08h1M113 459.08h1M120 459.08h2M125 459.08h1M184 472.4h1M203 472.4h1M211 472.4h1M59 485.74h1M70 485.74h1M72 485.74h1M82 485.74h1M86 485.74h2M90 485.74h2M113 485.74h1M124 485.74h3M128 485.74h1M134 485.74h1M137 485.74h1M159 512.39h1M152 525.73h1M156 539.06h1M174 539.06h1M155 552.38h1M42 565.72h1M50 565.72h1M151 565.72h1" stroke="#fac897"/>
<path d="M53 232.47h1M55 232.47h1M72 232.47h2M75 232.47h2M78 232.47h1M83 232.47h4M90 232.47h1M92 232.47h2M98 232.47h1M104 232.47h2M110 232.47h1M113 232.47h2M118 232.47h1M120 232.47h1M125 232.47h1M127 232.47h1M129 232.47h1M131 232.47h2M135 232.47h1M139 232.47h1M164 232.47h2M170 232.47h2M185 232.47h1M192 232.47h1M205 232.47h1M227 232.47h1M147 245.8h2M164 245.8h1M189 245.8h1M145 259.12h1M161 259.12h1M204 272.46h1M27 285.79h1M37 285.79h1M40 285.79h1M147 285.79h1M150 285.79h1M167 285.79h1M189 285.79h1M204 285.79h1M153 299.12h2M158 299.12h1M151 312.44h1M194 312.44h1M206 312.44h1M164 325.77h1M186 325.77h1M152 339.11h1M226 352.44h1M29 392.43h1M32 392.43h1M42 392.43h1M16 419.09h3M20 419.09h2M23 419.09h1M27 419.09h1M29 419.09h2M33 419.09h1M38 419.09h2M45 419.09h2M52 419.09h4M57 419.09h4M62 419.09h2M65 419.09h13M79 419.09h5M86 419.09h23M110 419.09h1M112 419.09h2M115 419.09h1M117 419.09h5M124 419.09h3M128 419.09h1M131 419.09h1M133 419.09h1M136 419.09h8M16 432.42h1M19 432.42h3M23 432.42h2M26 432.42h1M29 432.42h1M31 432.42h3M38 432.42h3M42 432.42h2M50 432.42h1M54 432.42h3M63 432.42h1M70 432.42h1M77 432.42h3M83 432.42h1M108 432.42h1M118 432.42h1M126 432.42h1M128 432.42h1M131 432.42h1M133 432.42h2M140 432.42h1M142 432.42h1M144 432.42h1M16 445.75h2M19 445.75h3M23 445.75h1M25 445.75h1M27 445.75h1M29 445.75h4M46 445.75h1M52 445.75h2M55 445.75h3M59 445.75h8M69 445.75h6M76 445.75h2M79 445.75h11M91 445.75h4M97 445.75h6M104 445.75h1M106 445.75h8M115 445.75h13M130 445.75h4M135 445.75h9M50 459.08h3M54 459.08h4M59 459.08h8M68 459.08h1M70 459.08h1M73 459.08h26M100 459.08h6M107 459.08h2M110 459.08h3M114 459.08h2M117 459.08h3M122 459.08h3M126 459.08h14M141 459.08h3M167 459.08h1M164 472.4h1M197 472.4h1M217 472.4h1M19 485.74h1M51 485.74h7M61 485.74h2M64 485.74h6M71 485.74h1M73 485.74h9M83 485.74h3M88 485.74h2M92 485.74h4M97 485.74h9M107 485.74h3M111 485.74h1M114 485.74h2M117 485.74h7M127 485.74h1M129 485.74h5M135 485.74h2M138 485.74h6M50 499.06h1M52 499.06h11M65 499.06h1M68 499.06h6M76 499.06h7M84 499.06h3M88 499.06h2M91 499.06h5M97 499.06h1M102 499.06h1M109 499.06h2M113 499.06h2M118 499.06h4M123 499.06h2M128 499.06h1M130 499.06h9M142 499.06h2M183 525.73h1M185 525.73h2M206 525.73h1M146 539.06h1M203 539.06h2M144 552.38h1M154 552.38h1M204 552.38h1M21 565.72h1M32 565.72h2M40 565.72h1M160 565.72h1M144 579.05h1M155 579.05h1M167 579.05h1" stroke="#fac291"/>
<path d="M52 232.47h1M54 232.47h1M57 232.47h4M63 232.47h1M66 232.47h1M69 232.47h3M74 232.47h1M87 232.47h2M97 232.47h1M101 232.47h1M103 232.47h1M107 232.47h3M111 232.47h1M117 232.47h1M119 232.47h1M121 232.47h4M126 232.47h1M130 232.47h1M137 232.47h2M141 232.47h1M163 232.47h1M178 232.47h1M194 232.47h3M210 232.47h1M217 232.47h1M220 232.47h2M224 232.47h2M72 245.8h1M77 245.8h1M84 245.8h1M128 245.8h1M151 245.8h1M157 245.8h1M209 245.8h1M223 245.8h2M148 259.12h2M174 259.12h1M160 272.46h1M167 272.46h1M182 272.46h1M185 272.46h1M190 272.46h1M22 285.79h1M148 285.79h1M157 285.79h1M190 285.79h1M211 285.79h1M145 299.12h1M161 299.12h1M60 312.44h1M65 312.44h1M147 312.44h1M185 312.44h3M191 312.44h1M197 312.44h1M201 312.44h1M212 312.44h1M216 312.44h1M52 325.77h1M184 325.77h1M190 325.77h1M215 325.77h1M223 325.77h1M98 339.11h1M149 339.11h1M151 339.11h1M227 365.76h1M21 392.43h1M24 392.43h1M26 392.43h1M31 392.43h1M35 392.43h2M39 392.43h1M45 392.43h4M50 392.43h1M22 419.09h1M24 419.09h3M28 419.09h1M31 419.09h2M34 419.09h4M40 419.09h5M47 419.09h5M56 419.09h1M61 419.09h1M64 419.09h1M78 419.09h1M111 419.09h1M114 419.09h1M116 419.09h1M122 419.09h2M127 419.09h1M129 419.09h2M132 419.09h1M134 419.09h2M159 419.09h1M17 432.42h2M22 432.42h1M25 432.42h1M27 432.42h2M35 432.42h3M45 432.42h5M51 432.42h3M57 432.42h4M62 432.42h1M66 432.42h1M87 432.42h1M89 432.42h1M91 432.42h2M101 432.42h2M113 432.42h1M116 432.42h1M122 432.42h1M125 432.42h1M127 432.42h1M129 432.42h2M132 432.42h1M135 432.42h2M138 432.42h2M141 432.42h1M143 432.42h1M18 445.75h1M22 445.75h1M24 445.75h1M26 445.75h1M28 445.75h1M33 445.75h3M37 445.75h9M47 445.75h1M49 445.75h3M54 445.75h1M58 445.75h1M67 445.75h2M75 445.75h1M78 445.75h1M96 445.75h1M16 459.08h1M22 459.08h1M30 459.08h1M32 459.08h1M42 459.08h1M47 459.08h1M58 459.08h1M67 459.08h1M69 459.08h1M99 459.08h1M106 459.08h1M116 459.08h1M140 459.08h1M181 472.4h1M185 472.4h1M187 472.4h1M198 472.4h1M200 472.4h1M208 472.4h1M212 472.4h1M218 472.4h1M16 485.74h3M20 485.74h2M23 485.74h1M32 485.74h1M42 485.74h1M46 485.74h1M48 485.74h1M50 485.74h1M58 485.74h1M60 485.74h1M63 485.74h1M96 485.74h1M106 485.74h1M110 485.74h1M112 485.74h1M116 485.74h1M146 485.74h1M156 485.74h1M16 499.06h5M29 499.06h4M42 499.06h1M46 499.06h1M51 499.06h1M63 499.06h2M66 499.06h2M74 499.06h2M83 499.06h1M87 499.06h1M90 499.06h1M96 499.06h1M98 499.06h1M101 499.06h1M103 499.06h6M111 499.06h2M115 499.06h3M122 499.06h1M125 499.06h3M129 499.06h1M139 499.06h3M62 512.39h1M155 512.39h1M158 512.39h1M173 525.73h1M181 525.73h1M184 525.73h1M189 525.73h1M211 525.73h1M145 539.06h1M158 539.06h2M164 539.06h1M172 539.06h1M146 552.38h1M157 552.38h1M161 552.38h1M167 552.38h1M174 552.38h1M201 552.38h1M203 552.38h1M209 552.38h1M23 565.72h1M30 565.72h1M39 565.72h1M41 565.72h1M43 565.72h6M146 579.05h1M157 579.05h1M206 579.05h1" stroke="#f8ba8c"/>
<path d="M51 232.47h1M56 232.47h1M61 232.47h2M64 232.47h2M68 232.47h1M94 232.47h3M99 232.47h2M102 232.47h1M106 232.47h1M112 232.47h1M115 232.47h2M177 232.47h1M182 232.47h1M207 232.47h2M222 232.47h1M226 232.47h1M55 245.8h1M60 245.8h1M62 245.8h1M66 245.8h1M69 245.8h1M80 245.8h1M82 245.8h1M86 245.8h1M92 245.8h1M108 245.8h3M114 245.8h1M117 245.8h1M119 245.8h1M143 245.8h1M161 245.8h1M194 245.8h1M202 245.8h1M211 245.8h1M221 245.8h1M62 259.12h1M80 259.12h1M147 259.12h1M204 259.12h1M22 272.46h1M25 272.46h1M206 272.46h1M211 272.46h1M21 285.79h1M145 285.79h2M191 285.79h1M206 285.79h1M59 312.44h1M62 312.44h1M66 312.44h1M85 312.44h1M88 312.44h2M93 312.44h1M108 312.44h1M119 312.44h2M128 312.44h1M133 312.44h2M164 312.44h2M171 312.44h1M181 312.44h1M62 325.77h1M66 325.77h1M68 325.77h1M72 325.77h1M77 325.77h1M79 325.77h1M107 325.77h1M113 325.77h1M121 325.77h1M160 325.77h1M168 325.77h1M172 325.77h2M211 325.77h1M216 325.77h1M218 325.77h1M225 325.77h1M79 339.11h2M82 339.11h1M84 339.11h1M88 339.11h1M102 339.11h1M105 339.11h1M107 339.11h2M113 339.11h1M128 339.11h2M131 339.11h1M136 339.11h2M140 339.11h1M142 339.11h1M147 339.11h1M226 365.76h1M20 392.43h1M22 392.43h1M25 392.43h1M27 392.43h1M30 392.43h1M33 392.43h1M37 392.43h1M40 392.43h2M43 392.43h1M34 432.42h1M41 432.42h1M44 432.42h1M61 432.42h1M64 432.42h2M67 432.42h2M137 432.42h1M155 432.42h1M36 445.75h1M48 445.75h1M225 445.75h1M17 459.08h5M23 459.08h1M26 459.08h2M29 459.08h1M31 459.08h1M33 459.08h1M35 459.08h2M38 459.08h1M43 459.08h1M46 459.08h1M48 459.08h2M203 459.08h1M43 472.4h1M72 472.4h1M119 472.4h1M168 472.4h1M171 472.4h1M175 472.4h3M179 472.4h1M186 472.4h1M194 472.4h1M199 472.4h1M201 472.4h1M214 472.4h1M216 472.4h1M225 472.4h1M29 485.74h2M34 485.74h2M38 485.74h4M43 485.74h3M47 485.74h1M49 485.74h1M144 485.74h1M158 485.74h1M21 499.06h8M33 499.06h7M43 499.06h3M47 499.06h1M49 499.06h1M99 499.06h2M52 512.39h2M55 512.39h3M59 512.39h3M63 512.39h11M75 512.39h1M77 512.39h4M84 512.39h1M92 512.39h1M100 512.39h3M105 512.39h1M107 512.39h1M109 512.39h1M111 512.39h1M113 512.39h1M119 512.39h2M122 512.39h4M127 512.39h3M132 512.39h1M135 512.39h1M157 512.39h1M161 512.39h1M170 525.73h3M190 525.73h1M203 525.73h2M209 525.73h1M212 525.73h1M154 539.06h2M166 539.06h1M168 539.06h1M185 539.06h2M189 539.06h1M206 539.06h1M212 539.06h1M145 552.38h1M153 552.38h1M164 552.38h1M183 552.38h1M212 552.38h1M17 565.72h3M27 565.72h3M31 565.72h1M35 565.72h4M49 565.72h1M167 565.72h1M70 579.05h1M145 579.05h1M153 579.05h1M156 579.05h1M158 579.05h1M203 579.05h1" stroke="#f7b388"/>
<path d="M67 232.47h1M89 232.47h1M166 232.47h1M175 232.47h1M193 232.47h1M200 232.47h1M52 245.8h1M56 245.8h1M59 245.8h1M64 245.8h1M67 245.8h2M70 245.8h2M74 245.8h2M81 245.8h1M89 245.8h2M98 245.8h1M104 245.8h1M115 245.8h1M118 245.8h1M124 245.8h1M133 245.8h1M172 245.8h2M184 245.8h3M190 245.8h1M217 245.8h2M220 245.8h1M225 245.8h2M63 259.12h1M66 259.12h1M70 259.12h1M72 259.12h1M77 259.12h1M92 259.12h1M105 259.12h1M107 259.12h1M110 259.12h1M113 259.12h1M119 259.12h1M128 259.12h2M206 259.12h1M23 272.46h2M164 272.46h2M174 272.46h1M177 272.46h1M181 272.46h1M189 272.46h1M203 272.46h1M209 272.46h1M218 272.46h1M225 272.46h1M227 272.46h1M77 285.79h1M80 285.79h1M107 285.79h1M109 285.79h1M149 285.79h1M152 285.79h1M82 299.12h1M147 299.12h1M150 299.12h2M52 312.44h2M57 312.44h2M61 312.44h1M63 312.44h2M67 312.44h1M70 312.44h1M72 312.44h1M84 312.44h1M87 312.44h1M90 312.44h1M92 312.44h1M94 312.44h1M97 312.44h2M101 312.44h1M107 312.44h1M109 312.44h2M113 312.44h3M117 312.44h2M123 312.44h3M127 312.44h1M129 312.44h1M131 312.44h2M135 312.44h1M138 312.44h1M141 312.44h1M160 312.44h1M198 312.44h1M208 312.44h1M211 312.44h1M218 312.44h1M225 312.44h1M51 325.77h1M53 325.77h1M59 325.77h1M64 325.77h1M73 325.77h1M75 325.77h1M80 325.77h1M82 325.77h2M97 325.77h1M103 325.77h3M111 325.77h2M114 325.77h1M119 325.77h2M122 325.77h1M124 325.77h8M133 325.77h2M169 325.77h1M189 325.77h1M208 325.77h1M221 325.77h1M227 325.77h1M51 339.11h1M53 339.11h1M63 339.11h1M66 339.11h1M69 339.11h2M72 339.11h1M77 339.11h2M85 339.11h3M92 339.11h1M97 339.11h1M103 339.11h2M109 339.11h2M126 339.11h1M133 339.11h3M138 339.11h1M203 339.11h1M75 379.1h1M19 392.43h1M23 392.43h1M34 392.43h1M38 392.43h1M44 392.43h1M49 392.43h1M225 419.09h2M148 432.42h1M156 432.42h1M225 432.42h2M24 459.08h1M28 459.08h1M34 459.08h1M37 459.08h1M39 459.08h3M44 459.08h2M204 459.08h1M19 472.4h1M22 472.4h2M30 472.4h1M32 472.4h1M35 472.4h2M38 472.4h5M46 472.4h2M50 472.4h1M52 472.4h7M60 472.4h1M62 472.4h3M66 472.4h1M68 472.4h1M70 472.4h2M73 472.4h14M88 472.4h2M91 472.4h1M93 472.4h2M97 472.4h2M100 472.4h1M102 472.4h8M111 472.4h1M113 472.4h2M116 472.4h3M120 472.4h1M122 472.4h1M124 472.4h3M128 472.4h8M139 472.4h1M141 472.4h2M163 472.4h1M169 472.4h1M172 472.4h1M22 485.74h1M24 485.74h1M26 485.74h1M28 485.74h1M31 485.74h1M33 485.74h1M36 485.74h2M40 499.06h2M48 499.06h1M225 499.06h1M51 512.39h1M54 512.39h1M58 512.39h1M74 512.39h1M76 512.39h1M81 512.39h3M85 512.39h2M88 512.39h4M94 512.39h6M103 512.39h2M106 512.39h1M108 512.39h1M110 512.39h1M112 512.39h1M114 512.39h2M117 512.39h2M121 512.39h1M126 512.39h1M130 512.39h2M133 512.39h2M138 512.39h1M142 512.39h2M156 512.39h1M165 525.73h2M168 525.73h1M176 525.73h2M182 525.73h1M187 525.73h1M194 525.73h1M197 525.73h1M201 525.73h1M205 525.73h1M210 525.73h1M215 525.73h1M218 525.73h1M84 539.06h1M148 539.06h2M157 539.06h1M161 539.06h1M170 539.06h1M179 539.06h1M181 539.06h4M190 539.06h2M202 539.06h1M207 539.06h1M211 539.06h1M71 552.38h3M75 552.38h1M84 552.38h1M86 552.38h1M92 552.38h2M97 552.38h1M105 552.38h1M108 552.38h4M113 552.38h3M117 552.38h3M122 552.38h1M124 552.38h1M128 552.38h1M130 552.38h1M152 552.38h1M181 552.38h1M185 552.38h2M197 552.38h1M207 552.38h1M16 565.72h1M20 565.72h1M22 565.72h1M24 565.72h1M26 565.72h1M34 565.72h1M66 579.05h1M71 579.05h3M102 579.05h2M105 579.05h1M119 579.05h1M138 579.05h1M149 579.05h1M174 579.05h1M181 579.05h1M202 579.05h1M209 579.05h1M217 579.05h1" stroke="#f6ab83"/>
<path d="M160 232.47h1M51 245.8h1M53 245.8h2M58 245.8h1M61 245.8h1M63 245.8h1M65 245.8h1M73 245.8h1M76 245.8h1M79 245.8h1M85 245.8h1M88 245.8h1M91 245.8h1M93 245.8h1M97 245.8h1M102 245.8h2M105 245.8h1M107 245.8h1M111 245.8h3M116 245.8h1M120 245.8h4M126 245.8h1M131 245.8h1M134 245.8h1M137 245.8h1M139 245.8h2M142 245.8h1M181 245.8h1M183 245.8h1M187 245.8h1M195 245.8h1M197 245.8h1M199 245.8h1M201 245.8h1M212 245.8h1M227 245.8h1M56 259.12h1M59 259.12h2M65 259.12h1M71 259.12h1M75 259.12h1M78 259.12h1M81 259.12h1M83 259.12h1M86 259.12h1M90 259.12h2M93 259.12h2M97 259.12h1M101 259.12h3M108 259.12h2M114 259.12h2M120 259.12h2M123 259.12h2M130 259.12h1M133 259.12h4M142 259.12h1M150 259.12h1M152 259.12h1M184 259.12h1M186 259.12h1M56 272.46h1M71 272.46h2M74 272.46h1M76 272.46h1M78 272.46h1M80 272.46h1M113 272.46h1M120 272.46h1M179 272.46h1M191 272.46h1M197 272.46h1M53 285.79h1M60 285.79h1M81 285.79h2M84 285.79h2M91 285.79h1M104 285.79h1M129 285.79h1M134 285.79h1M186 285.79h1M203 285.79h1M81 299.12h1M86 299.12h1M94 299.12h1M119 299.12h1M148 299.12h2M152 299.12h1M51 312.44h1M54 312.44h3M69 312.44h1M71 312.44h1M74 312.44h2M77 312.44h4M82 312.44h2M86 312.44h1M91 312.44h1M95 312.44h1M102 312.44h5M111 312.44h2M121 312.44h2M126 312.44h1M130 312.44h1M136 312.44h2M139 312.44h2M143 312.44h1M168 312.44h1M182 312.44h1M192 312.44h1M209 312.44h1M220 312.44h1M55 325.77h1M60 325.77h1M63 325.77h1M65 325.77h1M69 325.77h2M74 325.77h1M81 325.77h1M84 325.77h1M86 325.77h1M88 325.77h1M90 325.77h4M96 325.77h1M98 325.77h4M106 325.77h1M108 325.77h3M115 325.77h1M117 325.77h2M123 325.77h1M136 325.77h1M142 325.77h1M162 325.77h1M171 325.77h1M176 325.77h2M183 325.77h1M185 325.77h1M201 325.77h1M209 325.77h1M217 325.77h1M222 325.77h1M54 339.11h7M62 339.11h1M64 339.11h2M67 339.11h2M71 339.11h1M73 339.11h1M75 339.11h2M81 339.11h1M83 339.11h1M90 339.11h2M93 339.11h2M100 339.11h2M106 339.11h1M111 339.11h2M114 339.11h1M118 339.11h2M123 339.11h1M125 339.11h1M127 339.11h1M130 339.11h1M132 339.11h1M139 339.11h1M141 339.11h1M204 339.11h1M66 379.1h1M71 379.1h1M82 379.1h1M84 379.1h1M16 392.43h2M28 392.43h1M144 419.09h1M147 432.42h1M227 432.42h1M227 445.75h1M25 459.08h1M225 459.08h3M16 472.4h3M20 472.4h2M24 472.4h6M31 472.4h1M33 472.4h2M37 472.4h1M44 472.4h2M48 472.4h2M51 472.4h1M59 472.4h1M61 472.4h1M65 472.4h1M67 472.4h1M69 472.4h1M87 472.4h1M90 472.4h1M92 472.4h1M95 472.4h2M99 472.4h1M101 472.4h1M110 472.4h1M112 472.4h1M115 472.4h1M121 472.4h1M123 472.4h1M127 472.4h1M136 472.4h3M140 472.4h1M143 472.4h1M165 472.4h1M170 472.4h1M195 472.4h1M205 472.4h1M213 472.4h1M223 472.4h2M226 472.4h2M25 485.74h1M27 485.74h1M155 485.74h1M225 485.74h2M227 499.06h1M87 512.39h1M93 512.39h1M116 512.39h1M136 512.39h2M139 512.39h3M154 512.39h1M225 512.39h3M19 525.73h1M62 525.73h1M70 525.73h1M72 525.73h1M81 525.73h1M86 525.73h1M107 525.73h1M120 525.73h1M163 525.73h2M175 525.73h1M179 525.73h1M191 525.73h1M198 525.73h1M202 525.73h1M208 525.73h1M213 525.73h2M216 525.73h2M220 525.73h2M224 525.73h1M53 539.06h1M68 539.06h1M80 539.06h3M88 539.06h2M101 539.06h1M109 539.06h1M119 539.06h1M134 539.06h2M138 539.06h3M142 539.06h2M150 539.06h4M162 539.06h2M165 539.06h1M169 539.06h1M171 539.06h1M173 539.06h1M175 539.06h1M177 539.06h1M197 539.06h1M200 539.06h1M208 539.06h2M217 539.06h1M51 552.38h3M57 552.38h2M60 552.38h11M74 552.38h1M76 552.38h7M85 552.38h1M87 552.38h5M94 552.38h2M98 552.38h7M106 552.38h2M116 552.38h1M120 552.38h2M123 552.38h1M125 552.38h1M127 552.38h1M129 552.38h1M131 552.38h7M140 552.38h1M143 552.38h1M147 552.38h2M179 552.38h1M184 552.38h1M187 552.38h1M189 552.38h1M198 552.38h1M220 552.38h1M25 565.72h1M119 565.72h1M206 565.72h1M54 579.05h2M57 579.05h2M60 579.05h1M62 579.05h4M67 579.05h3M74 579.05h4M80 579.05h3M84 579.05h1M86 579.05h1M88 579.05h1M97 579.05h2M101 579.05h1M104 579.05h1M118 579.05h1M133 579.05h1M141 579.05h3M148 579.05h1M161 579.05h1M168 579.05h1M179 579.05h1M185 579.05h3M190 579.05h1M197 579.05h1M201 579.05h1M204 579.05h2M211 579.05h2M220 579.05h1" stroke="#f5a47f"/>
<path d="M199 232.47h1M57 245.8h1M78 245.8h1M83 245.8h1M87 245.8h1M95 245.8h1M99 245.8h2M106 245.8h1M125 245.8h1M127 245.8h1M130 245.8h1M132 245.8h1M135 245.8h2M138 245.8h1M141 245.8h1M168 245.8h1M208 245.8h1M210 245.8h1M213 245.8h1M53 259.12h1M58 259.12h1M61 259.12h1M64 259.12h1M67 259.12h1M69 259.12h1M73 259.12h2M76 259.12h1M79 259.12h1M82 259.12h1M84 259.12h2M87 259.12h3M95 259.12h1M98 259.12h3M104 259.12h1M111 259.12h1M117 259.12h2M125 259.12h1M127 259.12h1M131 259.12h2M137 259.12h3M143 259.12h1M164 259.12h1M190 259.12h1M203 259.12h1M218 259.12h1M21 272.46h1M51 272.46h1M68 272.46h2M73 272.46h1M75 272.46h1M82 272.46h1M101 272.46h1M110 272.46h1M118 272.46h2M125 272.46h1M128 272.46h1M183 272.46h1M187 272.46h1M198 272.46h1M201 272.46h2M212 272.46h1M226 272.46h1M54 285.79h1M56 285.79h2M62 285.79h1M72 285.79h1M74 285.79h2M78 285.79h1M87 285.79h2M90 285.79h1M98 285.79h1M103 285.79h1M105 285.79h1M108 285.79h1M110 285.79h4M117 285.79h6M125 285.79h4M130 285.79h1M138 285.79h1M141 285.79h2M151 285.79h1M174 285.79h1M184 285.79h1M187 285.79h1M209 285.79h1M213 285.79h2M59 299.12h1M61 299.12h1M65 299.12h2M69 299.12h2M75 299.12h1M80 299.12h1M84 299.12h2M88 299.12h1M91 299.12h1M93 299.12h1M97 299.12h1M120 299.12h2M131 299.12h2M139 299.12h1M141 299.12h2M160 299.12h1M68 312.44h1M73 312.44h1M76 312.44h1M81 312.44h1M96 312.44h1M99 312.44h2M116 312.44h1M142 312.44h1M163 312.44h1M175 312.44h1M202 312.44h1M205 312.44h1M214 312.44h1M226 312.44h2M54 325.77h1M56 325.77h3M61 325.77h1M67 325.77h1M71 325.77h1M76 325.77h1M85 325.77h1M89 325.77h1M94 325.77h2M102 325.77h1M116 325.77h1M132 325.77h1M135 325.77h1M138 325.77h1M140 325.77h2M143 325.77h1M163 325.77h1M165 325.77h1M194 325.77h1M202 325.77h1M214 325.77h1M224 325.77h1M226 325.77h1M61 339.11h1M74 339.11h1M89 339.11h1M95 339.11h2M99 339.11h1M115 339.11h1M117 339.11h1M120 339.11h1M124 339.11h1M143 339.11h1M160 339.11h1M29 365.76h1M72 379.1h2M76 379.1h1M83 379.1h1M18 392.43h1M225 392.43h1M227 392.43h1M225 405.75h1M156 419.09h1M227 419.09h1M146 432.42h1M158 432.42h1M226 445.75h1M173 472.4h1M178 472.4h1M182 472.4h2M202 472.4h1M207 472.4h1M210 472.4h1M215 472.4h1M220 472.4h1M148 485.74h1M154 485.74h1M227 485.74h1M144 512.39h1M153 512.39h1M16 525.73h3M20 525.73h4M29 525.73h2M33 525.73h1M35 525.73h1M39 525.73h1M42 525.73h2M45 525.73h2M48 525.73h1M50 525.73h7M58 525.73h4M63 525.73h7M71 525.73h1M73 525.73h3M77 525.73h4M82 525.73h4M87 525.73h7M96 525.73h3M102 525.73h1M104 525.73h2M108 525.73h4M113 525.73h3M117 525.73h3M123 525.73h3M127 525.73h3M131 525.73h4M136 525.73h8M151 525.73h1M162 525.73h1M169 525.73h1M178 525.73h1M200 525.73h1M207 525.73h1M223 525.73h1M20 539.06h1M30 539.06h2M42 539.06h1M44 539.06h3M48 539.06h1M50 539.06h1M52 539.06h1M55 539.06h1M57 539.06h4M62 539.06h2M65 539.06h3M69 539.06h11M83 539.06h1M85 539.06h3M90 539.06h9M100 539.06h1M102 539.06h4M107 539.06h2M110 539.06h6M117 539.06h2M120 539.06h5M126 539.06h4M131 539.06h3M136 539.06h2M147 539.06h1M176 539.06h1M178 539.06h1M187 539.06h1M194 539.06h1M198 539.06h2M201 539.06h1M205 539.06h1M210 539.06h1M213 539.06h2M216 539.06h1M221 539.06h2M54 552.38h3M59 552.38h1M83 552.38h1M96 552.38h1M112 552.38h1M126 552.38h1M138 552.38h2M141 552.38h2M150 552.38h1M190 552.38h1M211 552.38h1M215 552.38h1M223 552.38h1M77 565.72h1M82 565.72h1M184 565.72h1M17 579.05h1M19 579.05h3M23 579.05h2M26 579.05h1M28 579.05h3M32 579.05h1M35 579.05h1M42 579.05h2M45 579.05h1M47 579.05h1M49 579.05h5M56 579.05h1M59 579.05h1M61 579.05h1M78 579.05h2M83 579.05h1M87 579.05h1M92 579.05h3M96 579.05h1M99 579.05h2M106 579.05h1M108 579.05h1M131 579.05h1M135 579.05h1M140 579.05h1M147 579.05h1M152 579.05h1M154 579.05h1M162 579.05h1M171 579.05h2M182 579.05h2M198 579.05h1M210 579.05h1M214 579.05h1M216 579.05h1" stroke="#f49c7a"/>
<path d="M43 232.47h1M188 232.47h1M94 245.8h1M101 245.8h1M129 245.8h1M169 245.8h3M176 245.8h2M179 245.8h1M191 245.8h1M196 245.8h1M198 245.8h1M200 245.8h1M51 259.12h2M54 259.12h2M57 259.12h1M68 259.12h1M96 259.12h1M106 259.12h1M112 259.12h1M116 259.12h1M122 259.12h1M126 259.12h1M140 259.12h2M165 259.12h1M172 259.12h1M189 259.12h1M198 259.12h1M209 259.12h1M211 259.12h2M225 259.12h1M53 272.46h2M57 272.46h1M62 272.46h1M66 272.46h1M70 272.46h1M77 272.46h1M79 272.46h1M81 272.46h1M84 272.46h1M86 272.46h1M93 272.46h1M98 272.46h1M105 272.46h1M108 272.46h2M111 272.46h2M114 272.46h1M121 272.46h1M124 272.46h1M126 272.46h1M129 272.46h1M131 272.46h1M133 272.46h2M139 272.46h1M141 272.46h3M172 272.46h1M194 272.46h1M214 272.46h1M51 285.79h2M55 285.79h1M59 285.79h1M63 285.79h3M68 285.79h1M70 285.79h2M73 285.79h1M79 285.79h1M83 285.79h1M86 285.79h1M93 285.79h1M97 285.79h1M99 285.79h1M106 285.79h1M114 285.79h2M123 285.79h2M131 285.79h3M136 285.79h2M140 285.79h1M143 285.79h1M160 285.79h1M197 285.79h1M201 285.79h1M56 299.12h1M60 299.12h1M62 299.12h3M67 299.12h1M71 299.12h2M74 299.12h1M77 299.12h1M83 299.12h1M90 299.12h1M92 299.12h1M95 299.12h1M103 299.12h1M105 299.12h1M107 299.12h4M113 299.12h1M118 299.12h1M124 299.12h6M134 299.12h5M204 299.12h1M225 299.12h1M169 312.44h2M177 312.44h1M195 312.44h1M215 312.44h1M221 312.44h1M78 325.77h1M87 325.77h1M137 325.77h1M139 325.77h1M179 325.77h1M181 325.77h2M187 325.77h1M198 325.77h1M213 325.77h1M52 339.11h1M116 339.11h1M121 339.11h2M167 339.11h1M197 339.11h1M30 365.76h1M42 365.76h1M47 365.76h1M50 365.76h1M68 379.1h3M74 379.1h1M77 379.1h2M80 379.1h2M85 379.1h1M124 379.1h2M128 379.1h1M143 379.1h1M226 392.43h1M227 405.75h1M146 419.09h1M155 419.09h1M145 432.42h1M202 459.08h1M166 472.4h1M222 472.4h1M226 499.06h1M145 512.39h1M24 525.73h1M26 525.73h1M28 525.73h1M31 525.73h2M34 525.73h1M36 525.73h3M40 525.73h2M44 525.73h1M47 525.73h1M49 525.73h1M57 525.73h1M76 525.73h1M94 525.73h2M99 525.73h3M103 525.73h1M106 525.73h1M112 525.73h1M121 525.73h2M126 525.73h1M130 525.73h1M135 525.73h1M160 525.73h1M180 525.73h1M195 525.73h1M199 525.73h1M222 525.73h1M16 539.06h4M21 539.06h9M32 539.06h4M37 539.06h5M43 539.06h1M47 539.06h1M49 539.06h1M51 539.06h1M54 539.06h1M56 539.06h1M61 539.06h1M64 539.06h1M99 539.06h1M106 539.06h1M116 539.06h1M125 539.06h1M130 539.06h1M141 539.06h1M215 539.06h1M218 539.06h1M220 539.06h1M149 552.38h1M151 552.38h1M160 552.38h1M163 552.38h1M177 552.38h1M199 552.38h1M202 552.38h1M205 552.38h1M208 552.38h1M213 552.38h2M216 552.38h2M52 565.72h1M72 565.72h1M78 565.72h1M85 565.72h1M115 565.72h1M129 565.72h1M186 565.72h1M204 565.72h1M222 565.72h1M16 579.05h1M18 579.05h1M22 579.05h1M25 579.05h1M27 579.05h1M31 579.05h1M33 579.05h2M36 579.05h4M48 579.05h1M85 579.05h1M89 579.05h3M95 579.05h1M150 579.05h1M164 579.05h1M169 579.05h1M173 579.05h1M175 579.05h3M184 579.05h1M189 579.05h1M200 579.05h1M208 579.05h1M213 579.05h1M218 579.05h1M221 579.05h2M224 579.05h1" stroke="#f39575"/>
<path d="M48 232.47h1M180 232.47h1M162 245.8h1M182 245.8h1M205 245.8h1M214 245.8h2M162 259.12h1M181 259.12h1M194 259.12h2M197 259.12h1M201 259.12h1M52 272.46h1M55 272.46h1M58 272.46h3M85 272.46h1M88 272.46h3M94 272.46h1M97 272.46h1M100 272.46h1M103 272.46h2M107 272.46h1M115 272.46h3M122 272.46h2M127 272.46h1M130 272.46h1M138 272.46h1M166 272.46h1M176 272.46h1M207 272.46h1M217 272.46h1M220 272.46h1M58 285.79h1M61 285.79h1M66 285.79h2M69 285.79h1M89 285.79h1M92 285.79h1M94 285.79h2M100 285.79h3M116 285.79h1M135 285.79h1M139 285.79h1M185 285.79h1M202 285.79h1M207 285.79h2M216 285.79h3M225 285.79h1M51 299.12h1M53 299.12h3M57 299.12h2M68 299.12h1M73 299.12h1M76 299.12h1M78 299.12h2M87 299.12h1M89 299.12h1M98 299.12h4M104 299.12h1M106 299.12h1M111 299.12h1M114 299.12h1M117 299.12h1M123 299.12h1M130 299.12h1M133 299.12h1M140 299.12h1M212 299.12h1M162 312.44h1M172 312.44h2M176 312.44h1M179 312.44h1M199 312.44h2M207 312.44h1M217 312.44h1M223 312.44h1M166 325.77h1M170 325.77h1M175 325.77h1M197 325.77h1M205 325.77h1M174 339.11h1M202 339.11h1M42 352.44h1M98 352.44h1M26 365.76h1M31 365.76h3M39 365.76h2M67 379.1h1M79 379.1h1M113 379.1h1M118 379.1h1M142 379.1h1M42 405.75h2M47 405.75h1M226 405.75h1M148 419.09h1M154 419.09h1M157 419.09h1M167 419.09h1M153 432.42h1M157 432.42h1M161 432.42h1M184 459.08h1M162 472.4h1M192 472.4h1M196 472.4h1M221 472.4h1M145 485.74h1M157 485.74h1M161 485.74h1M146 512.39h1M148 512.39h1M25 525.73h1M27 525.73h1M116 525.73h1M188 525.73h1M192 525.73h2M196 525.73h1M219 525.73h1M36 539.06h1M192 539.06h1M224 539.06h1M162 552.38h1M165 552.38h1M182 552.38h1M195 552.38h1M210 552.38h1M218 552.38h1M222 552.38h1M68 565.72h1M83 565.72h1M101 565.72h1M123 565.72h1M189 565.72h1M40 579.05h2M44 579.05h1M46 579.05h1M151 579.05h1M163 579.05h1M165 579.05h2M170 579.05h1M178 579.05h1M194 579.05h2M199 579.05h1M207 579.05h1M215 579.05h1M223 579.05h1" stroke="#f28e6e"/>
<path d="M29 232.47h1M46 232.47h1M219 232.47h1M160 245.8h1M163 245.8h1M165 245.8h1M178 245.8h1M222 245.8h1M168 259.12h1M173 259.12h1M183 259.12h1M223 259.12h1M227 259.12h1M63 272.46h3M67 272.46h1M91 272.46h2M95 272.46h2M102 272.46h1M106 272.46h1M132 272.46h1M135 272.46h3M140 272.46h1M162 272.46h1M168 272.46h1M171 272.46h1M173 272.46h1M178 272.46h1M195 272.46h1M210 272.46h1M215 272.46h2M221 272.46h1M223 272.46h2M76 285.79h1M96 285.79h1M168 285.79h1M198 285.79h1M102 299.12h1M112 299.12h1M115 299.12h2M122 299.12h1M143 299.12h1M174 299.12h1M211 299.12h1M227 299.12h1M166 312.44h1M188 312.44h1M210 312.44h1M224 312.44h1M178 325.77h1M191 325.77h1M207 325.77h1M210 325.77h1M164 339.11h1M186 339.11h1M190 339.11h1M206 339.11h1M23 352.44h1M36 352.44h1M41 352.44h1M45 352.44h1M80 352.44h1M16 365.76h1M19 365.76h4M24 365.76h1M28 365.76h1M34 365.76h1M36 365.76h1M41 365.76h1M43 365.76h3M120 365.76h1M59 379.1h2M62 379.1h1M98 379.1h1M119 379.1h1M122 379.1h2M127 379.1h1M129 379.1h3M133 379.1h2M136 379.1h3M32 405.75h1M50 405.75h1M52 405.75h1M71 405.75h1M107 405.75h1M145 419.09h1M153 419.09h1M174 419.09h1M206 419.09h1M159 445.75h1M190 459.08h1M206 459.08h1M188 472.4h1M150 485.74h1M152 512.39h1M193 539.06h1M195 539.06h2M223 539.06h1M166 552.38h1M172 552.38h1M191 552.38h1M194 552.38h1M200 552.38h1M221 552.38h1M224 552.38h1M54 565.72h1M61 565.72h1M66 565.72h1M95 565.72h2M164 565.72h1M203 565.72h1M191 579.05h1M196 579.05h1" stroke="#f18768"/>
<path d="M30 232.47h1M96 245.8h1M207 245.8h1M151 259.12h1M185 259.12h1M187 259.12h1M214 259.12h1M217 259.12h1M61 272.46h1M83 272.46h1M87 272.46h1M99 272.46h1M175 272.46h1M199 272.46h2M208 272.46h1M222 272.46h1M181 285.79h1M183 285.79h1M196 285.79h1M215 285.79h1M221 285.79h2M226 285.79h1M52 299.12h1M96 299.12h1M184 299.12h1M189 299.12h1M203 299.12h1M206 299.12h1M209 299.12h1M226 299.12h1M178 312.44h1M213 312.44h1M222 312.44h1M199 325.77h2M172 339.11h1M195 339.11h1M201 339.11h1M209 339.11h1M19 352.44h2M29 352.44h2M32 352.44h1M39 352.44h1M44 352.44h1M50 352.44h1M59 352.44h1M61 352.44h2M64 352.44h1M68 352.44h1M70 352.44h1M72 352.44h1M85 352.44h2M91 352.44h3M97 352.44h1M100 352.44h6M107 352.44h3M117 352.44h3M121 352.44h1M124 352.44h1M18 365.76h1M23 365.76h1M25 365.76h1M35 365.76h1M38 365.76h1M46 365.76h1M49 365.76h1M75 365.76h1M81 365.76h1M84 365.76h1M113 365.76h2M119 365.76h1M53 379.1h1M55 379.1h1M63 379.1h1M65 379.1h1M86 379.1h2M100 379.1h1M103 379.1h1M105 379.1h1M108 379.1h3M120 379.1h2M126 379.1h1M132 379.1h1M139 379.1h3M119 392.43h1M16 405.75h2M22 405.75h1M27 405.75h1M35 405.75h1M46 405.75h1M48 405.75h2M70 405.75h1M98 405.75h1M109 405.75h1M154 432.42h1M174 459.08h1M155 472.4h1M159 472.4h1M161 472.4h1M193 472.4h1M23 512.39h1M29 512.39h1M32 512.39h1M50 512.39h1M160 539.06h1M180 539.06h1M188 539.06h1M219 539.06h1M168 552.38h1M173 552.38h1M176 552.38h1M178 552.38h1M183 565.72h1M185 565.72h1M209 565.72h1M221 565.72h1M224 565.72h1M160 579.05h1M219 579.05h1" stroke="#f08061"/>
<path d="M33 232.47h1M38 232.47h1M42 232.47h1M44 232.47h1M47 232.47h1M166 245.8h1M188 245.8h1M192 245.8h1M160 259.12h1M175 259.12h1M182 259.12h1M200 259.12h1M215 259.12h1M220 259.12h2M224 259.12h1M226 259.12h1M163 272.46h1M169 272.46h1M196 272.46h1M205 272.46h1M213 272.46h1M179 285.79h1M195 285.79h1M210 285.79h1M186 299.12h1M202 299.12h1M219 312.44h1M196 325.77h1M175 339.11h1M179 339.11h1M184 339.11h1M198 339.11h1M210 339.11h2M215 339.11h1M21 352.44h1M34 352.44h1M37 352.44h2M40 352.44h1M43 352.44h1M46 352.44h3M51 352.44h1M53 352.44h1M60 352.44h1M65 352.44h3M69 352.44h1M71 352.44h1M75 352.44h1M77 352.44h3M81 352.44h4M88 352.44h1M90 352.44h1M94 352.44h2M99 352.44h1M113 352.44h3M120 352.44h1M122 352.44h1M126 352.44h1M136 352.44h1M139 352.44h1M142 352.44h2M37 365.76h1M53 365.76h1M65 365.76h1M70 365.76h1M72 365.76h2M77 365.76h1M79 365.76h1M82 365.76h1M97 365.76h1M103 365.76h1M108 365.76h3M117 365.76h1M123 365.76h2M128 365.76h2M52 379.1h1M56 379.1h3M61 379.1h1M64 379.1h1M88 379.1h1M90 379.1h2M93 379.1h3M106 379.1h1M111 379.1h2M114 379.1h2M117 379.1h1M135 379.1h1M80 392.43h1M91 392.43h1M113 392.43h1M122 392.43h2M127 392.43h3M18 405.75h2M23 405.75h2M26 405.75h1M29 405.75h1M31 405.75h1M38 405.75h2M41 405.75h1M45 405.75h1M59 405.75h1M69 405.75h1M72 405.75h2M75 405.75h1M77 405.75h2M82 405.75h1M84 405.75h1M86 405.75h1M90 405.75h1M92 405.75h1M105 405.75h1M108 405.75h1M113 405.75h3M124 405.75h1M131 405.75h1M138 405.75h1M143 405.75h1M161 419.09h1M149 432.42h3M156 472.4h1M158 472.4h1M180 472.4h1M147 485.74h1M153 485.74h1M156 499.06h1M21 512.39h1M24 512.39h1M30 512.39h1M43 512.39h1M169 552.38h1M171 552.38h1M175 552.38h1M196 552.38h1M181 565.72h1M190 565.72h1M212 565.72h1M223 565.72h1M180 579.05h1M192 579.05h2" stroke="#ee795b"/>
<path d="M28 232.47h1M50 232.47h1M175 245.8h1M193 245.8h1M171 259.12h1M176 259.12h1M179 259.12h1M191 259.12h1M216 259.12h1M192 272.46h1M162 285.79h2M165 285.79h1M171 285.79h1M192 285.79h1M194 285.79h1M199 285.79h1M223 285.79h1M227 285.79h1M164 299.12h1M166 299.12h1M171 299.12h1M176 299.12h1M197 299.12h1M201 299.12h1M193 312.44h1M192 325.77h1M195 325.77h1M219 325.77h1M181 339.11h1M185 339.11h1M189 339.11h1M194 339.11h1M200 339.11h1M207 339.11h2M212 339.11h1M216 339.11h1M17 352.44h1M22 352.44h1M24 352.44h2M27 352.44h1M33 352.44h1M49 352.44h1M52 352.44h1M63 352.44h1M73 352.44h1M76 352.44h1M87 352.44h1M89 352.44h1M96 352.44h1M110 352.44h1M112 352.44h1M116 352.44h1M123 352.44h1M128 352.44h2M133 352.44h3M138 352.44h1M140 352.44h2M17 365.76h1M27 365.76h1M48 365.76h1M52 365.76h1M59 365.76h2M62 365.76h1M66 365.76h1M68 365.76h1M71 365.76h1M78 365.76h1M80 365.76h1M83 365.76h1M86 365.76h1M88 365.76h1M90 365.76h1M92 365.76h1M94 365.76h1M98 365.76h1M102 365.76h1M107 365.76h1M115 365.76h1M118 365.76h1M121 365.76h1M125 365.76h3M130 365.76h2M134 365.76h1M92 379.1h1M96 379.1h2M99 379.1h1M101 379.1h2M104 379.1h1M107 379.1h1M116 379.1h1M59 392.43h2M82 392.43h3M86 392.43h1M88 392.43h1M92 392.43h1M98 392.43h1M109 392.43h1M114 392.43h2M118 392.43h1M120 392.43h1M124 392.43h1M126 392.43h1M131 392.43h1M20 405.75h2M28 405.75h1M33 405.75h1M36 405.75h2M40 405.75h1M44 405.75h1M53 405.75h3M60 405.75h1M68 405.75h1M74 405.75h1M79 405.75h1M81 405.75h1M91 405.75h1M93 405.75h1M95 405.75h1M97 405.75h1M100 405.75h1M102 405.75h1M104 405.75h1M110 405.75h3M117 405.75h1M119 405.75h2M125 405.75h1M132 405.75h1M134 405.75h3M139 405.75h1M142 405.75h1M150 419.09h1M158 419.09h1M152 432.42h1M159 459.08h1M179 459.08h1M189 459.08h1M191 459.08h1M197 459.08h1M205 459.08h1M157 472.4h1M155 499.06h1M157 499.06h3M27 512.39h1M34 512.39h1M40 512.39h1M44 512.39h2M49 512.39h1M147 512.39h1M149 512.39h1M151 512.39h1M167 512.39h1M174 512.39h1M170 552.38h1M192 552.38h2M174 565.72h1M179 565.72h1M197 565.72h2M201 565.72h1M211 565.72h1M218 565.72h1M188 579.05h1" stroke="#ec7357"/>
<path d="M27 232.47h1M35 232.47h1M37 232.47h1M41 232.47h1M219 245.8h1M163 259.12h1M166 259.12h1M169 259.12h2M196 259.12h1M205 259.12h1M170 272.46h1M164 285.79h1M173 285.79h1M177 285.79h1M220 285.79h1M169 299.12h2M179 299.12h1M187 299.12h1M191 299.12h1M213 299.12h3M196 312.44h1M188 325.77h1M193 325.77h1M183 339.11h1M187 339.11h1M205 339.11h1M214 339.11h1M227 339.11h1M16 352.44h1M18 352.44h1M26 352.44h1M28 352.44h1M31 352.44h1M35 352.44h1M54 352.44h4M74 352.44h1M106 352.44h1M111 352.44h1M125 352.44h1M127 352.44h1M130 352.44h3M137 352.44h1M51 365.76h1M54 365.76h2M57 365.76h1M63 365.76h2M67 365.76h1M69 365.76h1M74 365.76h1M76 365.76h1M85 365.76h1M87 365.76h1M91 365.76h1M93 365.76h1M95 365.76h2M99 365.76h3M104 365.76h2M111 365.76h2M116 365.76h1M122 365.76h1M133 365.76h1M135 365.76h4M141 365.76h3M51 379.1h1M54 379.1h1M89 379.1h1M52 392.43h1M56 392.43h1M58 392.43h1M65 392.43h2M70 392.43h3M77 392.43h3M81 392.43h1M85 392.43h1M87 392.43h1M90 392.43h1M93 392.43h3M104 392.43h2M107 392.43h1M110 392.43h1M112 392.43h1M117 392.43h1M121 392.43h1M125 392.43h1M130 392.43h1M132 392.43h3M137 392.43h4M143 392.43h1M30 405.75h1M34 405.75h1M51 405.75h1M56 405.75h2M62 405.75h1M64 405.75h1M67 405.75h1M80 405.75h1M85 405.75h1M87 405.75h3M99 405.75h1M103 405.75h1M106 405.75h1M118 405.75h1M121 405.75h1M123 405.75h1M126 405.75h4M133 405.75h1M137 405.75h1M140 405.75h2M177 419.09h1M144 445.75h1M172 459.08h1M198 459.08h1M201 459.08h1M154 472.4h1M219 472.4h1M22 512.39h1M28 512.39h1M31 512.39h1M33 512.39h1M35 512.39h1M38 512.39h1M41 512.39h2M47 512.39h1M150 512.39h1M203 512.39h1M206 512.39h1M163 565.72h1M175 565.72h1M177 565.72h1M182 565.72h1M187 565.72h1M200 565.72h1M215 565.72h1M220 565.72h1" stroke="#e96d52"/>
<path d="M25 232.47h2M31 232.47h1M39 232.47h1M45 232.47h1M192 259.12h1M199 259.12h1M207 259.12h1M175 285.79h2M193 285.79h1M200 285.79h1M168 299.12h1M172 299.12h1M177 299.12h1M181 299.12h1M190 299.12h1M223 299.12h1M162 339.11h1M213 339.11h1M225 339.11h1M58 352.44h1M58 365.76h1M61 365.76h1M89 365.76h1M106 365.76h1M132 365.76h1M139 365.76h2M53 392.43h3M57 392.43h1M62 392.43h3M69 392.43h1M73 392.43h1M75 392.43h2M89 392.43h1M97 392.43h1M99 392.43h5M106 392.43h1M108 392.43h1M111 392.43h1M135 392.43h2M142 392.43h1M25 405.75h1M58 405.75h1M61 405.75h1M65 405.75h2M76 405.75h1M94 405.75h1M96 405.75h1M101 405.75h1M116 405.75h1M122 405.75h1M130 405.75h1M147 419.09h1M190 419.09h1M155 459.08h1M181 459.08h1M183 459.08h1M185 459.08h1M212 459.08h1M149 485.74h1M160 485.74h1M144 499.06h1M154 499.06h1M16 512.39h5M25 512.39h2M37 512.39h1M39 512.39h1M46 512.39h1M48 512.39h1M197 512.39h1M204 512.39h1M180 552.38h1M188 552.38h1M191 565.72h1M207 565.72h1M210 565.72h1M214 565.72h1M217 565.72h1" stroke="#e6664e"/>
<path d="M24 232.47h1M32 232.47h1M40 232.47h1M178 259.12h1M202 259.12h1M208 259.12h1M222 259.12h1M188 272.46h1M193 272.46h1M219 272.46h1M172 285.79h1M178 285.79h1M182 285.79h1M205 285.79h1M163 299.12h1M173 299.12h1M182 299.12h1M198 299.12h1M208 299.12h1M210 299.12h1M173 339.11h1M177 339.11h1M191 339.11h2M199 339.11h1M226 339.11h1M56 365.76h1M51 392.43h1M61 392.43h1M68 392.43h1M74 392.43h1M116 392.43h1M141 392.43h1M63 405.75h1M83 405.75h1M149 419.09h1M203 419.09h1M209 419.09h1M160 432.42h1M156 445.75h1M156 459.08h3M186 459.08h1M194 459.08h1M152 472.4h1M152 485.74h1M153 499.06h1M161 499.06h1M36 512.39h1M160 512.39h1M186 512.39h1M189 512.39h1M212 512.39h1M219 552.38h1M168 565.72h1M171 565.72h2M199 565.72h1M216 565.72h1" stroke="#e25e48"/>
<path d="M36 232.47h1M49 232.47h1M180 245.8h1M177 259.12h1M210 259.12h1M213 259.12h1M183 299.12h1M185 299.12h1M195 299.12h2M218 299.12h1M224 299.12h1M180 312.44h1M180 325.77h1M168 339.11h1M171 339.11h1M178 339.11h1M182 339.11h1M223 339.11h2M67 392.43h1M96 392.43h1M152 419.09h1M176 419.09h1M184 419.09h1M186 419.09h2M211 419.09h2M146 445.75h1M148 445.75h1M154 445.75h1M158 445.75h1M161 445.75h1M161 459.08h1M165 459.08h1M173 459.08h1M175 459.08h1M177 459.08h1M199 459.08h1M209 459.08h1M222 459.08h2M153 472.4h1M145 499.06h1M184 512.39h1M162 565.72h1M165 565.72h1M176 565.72h1M202 565.72h1M205 565.72h1" stroke="#de5642"/>
<path d="M188 259.12h1M180 272.46h1M224 285.79h1M162 299.12h1M207 299.12h1M216 299.12h2M220 299.12h2M165 339.11h2M169 339.11h1M217 339.11h2M220 339.11h1M162 419.09h1M164 419.09h1M171 419.09h2M179 419.09h1M181 419.09h1M185 419.09h1M197 419.09h1M204 419.09h1M155 445.75h1M169 459.08h1M171 459.08h1M187 459.08h1M200 459.08h1M207 459.08h1M217 459.08h2M220 459.08h1M151 485.74h1M146 499.06h1M148 499.06h1M150 499.06h1M152 499.06h1M185 512.39h1M190 512.39h1M202 512.39h1M205 512.39h1M209 512.39h1M194 565.72h1M196 565.72h1M213 565.72h1" stroke="#d94d3c"/>
<path d="M34 232.47h1M166 285.79h1M188 285.79h1M219 285.79h1M165 299.12h1M200 299.12h1M222 299.12h1M163 339.11h1M176 339.11h1M193 339.11h1M196 339.11h1M151 419.09h1M160 419.09h1M183 419.09h1M221 419.09h1M145 445.75h1M157 445.75h1M154 459.08h1M163 459.08h2M168 459.08h1M182 459.08h1M208 459.08h1M214 459.08h1M224 459.08h1M144 472.4h1M164 512.39h1M210 512.39h2M166 565.72h1M170 565.72h1M173 565.72h1M195 565.72h1" stroke="#d54436"/>
<path d="M175 299.12h1M205 299.12h1M170 339.11h1M188 339.11h1M222 339.11h1M168 419.09h2M189 419.09h1M198 419.09h1M201 419.09h1M208 419.09h1M220 419.09h1M222 419.09h3M150 445.75h1M153 459.08h1M170 459.08h1M211 459.08h1M160 472.4h1M147 499.06h1M149 499.06h1M181 512.39h1M191 512.39h1M42 552.38h1M169 565.72h1M178 565.72h1M188 565.72h1M208 565.72h1" stroke="#d13d30"/>
<path d="M193 259.12h1M219 259.12h1M169 285.79h1M178 299.12h1M192 299.12h1M194 299.12h1M173 419.09h1M217 419.09h1M153 445.75h1M160 459.08h1M162 459.08h1M166 459.08h1M195 459.08h1M151 499.06h1M167 499.06h1M171 512.39h2M187 512.39h1M198 512.39h1M200 512.39h2M215 512.39h1M223 512.39h1M23 552.38h1M27 552.38h1M40 552.38h1M43 552.38h1M50 552.38h1M192 565.72h2" stroke="#cc372b"/>
<path d="M180 259.12h1M225 379.1h1M175 419.09h1M202 419.09h1M174 432.42h1M152 445.75h1M144 459.08h2M152 459.08h1M178 459.08h1M192 459.08h2M196 459.08h1M210 459.08h1M215 459.08h2M221 459.08h1M167 485.74h1M160 499.06h1M174 499.06h1M206 499.06h1M163 512.39h1M168 512.39h1M176 512.39h1M182 512.39h1M199 512.39h1M217 512.39h1M221 512.39h2M19 552.38h1M29 552.38h1M32 552.38h1M36 552.38h1M39 552.38h1M41 552.38h1" stroke="#c83026"/>
<path d="M21 232.47h3M170 285.79h1M163 419.09h1M178 419.09h1M191 419.09h1M218 419.09h1M167 432.42h1M212 432.42h1M216 432.42h1M224 432.42h1M149 445.75h1M160 445.75h1M176 459.08h1M148 472.4h1M150 472.4h1M174 485.74h1M186 485.74h1M189 485.74h1M172 499.06h2M186 499.06h1M203 499.06h1M166 512.39h1M169 512.39h1M173 512.39h1M175 512.39h1M179 512.39h1M194 512.39h2M218 512.39h1M17 552.38h1M21 552.38h2M24 552.38h1M26 552.38h1M30 552.38h2M33 552.38h3M37 552.38h2M44 552.38h1M47 552.38h2" stroke="#c42a22"/>
<path d="M180 285.79h1M219 299.12h1M221 339.11h1M165 419.09h2M170 419.09h1M182 419.09h1M200 419.09h1M207 419.09h1M214 419.09h1M216 419.09h1M186 432.42h2M204 432.42h1M206 432.42h1M209 432.42h2M214 432.42h1M218 432.42h1M220 432.42h1M147 445.75h1M167 445.75h1M203 445.75h2M206 445.75h1M188 459.08h1M146 472.4h1M173 485.74h1M184 485.74h1M190 485.74h1M197 485.74h1M203 485.74h2M206 485.74h1M162 499.06h1M164 499.06h1M169 499.06h1M189 499.06h2M202 499.06h1M204 499.06h2M208 499.06h1M211 499.06h1M216 499.06h1M162 512.39h1M177 512.39h1M183 512.39h1M207 512.39h2M214 512.39h1M220 512.39h1M224 512.39h1M16 552.38h1M20 552.38h1M25 552.38h1M28 552.38h1M45 552.38h1M49 552.38h1" stroke="#bf231d"/>
<path d="M42 259.12h1M16 272.46h5M19 285.79h2M19 299.12h1M199 299.12h1M42 325.77h1M46 325.77h1M50 325.77h1M19 339.11h1M226 379.1h1M162 432.42h3M168 432.42h1M173 432.42h1M175 432.42h1M183 432.42h2M190 432.42h1M203 432.42h1M205 432.42h1M211 432.42h1M215 432.42h1M217 432.42h1M221 432.42h3M151 445.75h1M174 445.75h1M179 445.75h1M189 445.75h1M197 445.75h1M201 445.75h1M146 459.08h1M213 459.08h1M164 485.74h1M168 485.74h1M171 485.74h2M175 485.74h1M179 485.74h1M182 485.74h1M185 485.74h1M187 485.74h1M198 485.74h1M207 485.74h1M212 485.74h1M215 485.74h1M223 485.74h1M171 499.06h1M179 499.06h1M181 499.06h1M184 499.06h2M187 499.06h1M201 499.06h1M209 499.06h2M212 499.06h1M214 499.06h1M170 512.39h1M192 512.39h1M216 512.39h1M18 552.38h1M46 552.38h1M219 565.72h1" stroke="#bb1f1a"/>
<path d="M16 232.47h2M19 232.47h2M17 245.8h1M19 245.8h1M22 245.8h3M29 245.8h2M32 245.8h2M38 245.8h1M40 245.8h4M45 245.8h6M21 259.12h1M26 259.12h2M29 259.12h2M32 259.12h2M37 259.12h1M44 259.12h4M49 259.12h2M17 285.79h1M17 299.12h1M20 299.12h5M27 299.12h1M32 299.12h1M50 299.12h1M188 299.12h1M193 299.12h1M16 312.44h1M19 312.44h1M32 312.44h1M38 312.44h1M40 312.44h1M42 312.44h1M45 312.44h3M50 312.44h1M30 325.77h1M32 325.77h1M41 325.77h1M43 325.77h3M47 325.77h3M39 339.11h2M42 339.11h6M50 339.11h1M180 339.11h1M219 339.11h1M227 379.1h1M194 419.09h2M199 419.09h1M213 419.09h1M215 419.09h1M165 432.42h1M172 432.42h1M176 432.42h2M179 432.42h1M181 432.42h2M185 432.42h1M189 432.42h1M197 432.42h1M201 432.42h1M213 432.42h1M164 445.75h1M172 445.75h1M177 445.75h1M181 445.75h1M183 445.75h2M186 445.75h1M190 445.75h1M198 445.75h1M200 445.75h1M202 445.75h1M209 445.75h1M211 445.75h2M215 445.75h4M223 445.75h1M145 472.4h1M151 472.4h1M162 485.74h2M165 485.74h2M170 485.74h1M177 485.74h2M181 485.74h1M183 485.74h1M201 485.74h2M208 485.74h1M210 485.74h2M214 485.74h1M216 485.74h2M221 485.74h2M163 499.06h1M165 499.06h1M168 499.06h1M170 499.06h1M175 499.06h1M177 499.06h1M182 499.06h1M191 499.06h1M194 499.06h1M200 499.06h1M207 499.06h1M215 499.06h1M218 499.06h1M220 499.06h1M223 499.06h2M196 512.39h1M213 512.39h1M180 565.72h1M227 565.72h1" stroke="#b81c18"/>
<path d="M18 232.47h1M20 245.8h2M25 245.8h4M31 245.8h1M34 245.8h2M39 245.8h1M44 245.8h1M16 259.12h2M19 259.12h2M22 259.12h4M28 259.12h1M31 259.12h1M34 259.12h3M38 259.12h4M43 259.12h1M48 259.12h1M16 285.79h1M18 285.79h1M16 299.12h1M18 299.12h1M25 299.12h2M28 299.12h4M33 299.12h1M35 299.12h10M46 299.12h1M48 299.12h2M180 299.12h1M17 312.44h2M20 312.44h3M24 312.44h2M28 312.44h4M33 312.44h1M35 312.44h2M39 312.44h1M41 312.44h1M43 312.44h2M48 312.44h2M20 325.77h6M28 325.77h2M31 325.77h1M33 325.77h8M17 339.11h1M20 339.11h4M26 339.11h2M29 339.11h5M35 339.11h4M41 339.11h1M49 339.11h1M196 419.09h1M205 419.09h1M210 419.09h1M169 432.42h3M178 432.42h1M191 432.42h2M198 432.42h3M202 432.42h1M207 432.42h2M165 445.75h1M171 445.75h1M173 445.75h1M175 445.75h2M178 445.75h1M182 445.75h1M185 445.75h1M187 445.75h1M191 445.75h2M195 445.75h1M199 445.75h1M205 445.75h1M207 445.75h2M210 445.75h1M213 445.75h2M220 445.75h1M147 459.08h1M147 472.4h1M149 472.4h1M169 485.74h1M176 485.74h1M191 485.74h2M194 485.74h1M196 485.74h1M199 485.74h2M205 485.74h1M209 485.74h1M213 485.74h1M218 485.74h1M220 485.74h1M176 499.06h1M183 499.06h1M188 499.06h1M192 499.06h1M197 499.06h3M217 499.06h1M221 499.06h2M165 512.39h1M178 512.39h1M188 512.39h1M193 512.39h1M225 525.73h1M227 525.73h1M225 539.06h1M225 552.38h3M225 565.72h2M225 579.05h1" stroke="#b41a16"/>
<path d="M16 245.8h1M18 245.8h1M36 245.8h2M18 259.12h1M34 299.12h1M45 299.12h1M47 299.12h1M23 312.44h1M26 312.44h2M34 312.44h1M37 312.44h1M17 325.77h1M19 325.77h1M26 325.77h2M16 339.11h1M18 339.11h1M24 339.11h2M28 339.11h1M34 339.11h1M48 339.11h1M192 419.09h1M195 432.42h1M219 432.42h1M162 445.75h2M166 445.75h1M168 445.75h1M194 445.75h1M196 445.75h1M221 445.75h2M224 445.75h1M180 459.08h1M224 485.74h1M166 499.06h1M178 499.06h1M195 499.06h1M213 499.06h1M226 525.73h1M226 539.06h2M226 579.05h2" stroke="#b01714"/>
<path d="M16 325.77h1M18 325.77h1M180 419.09h1M188 419.09h1M193 419.09h1M219 419.09h1M166 432.42h1M180 432.42h1M188 432.42h1M193 432.42h2M196 432.42h1M169 445.75h2M180 445.75h1M188 445.75h1M193 445.75h1M219 445.75h1M148 459.08h4M219 459.08h1M180 485.74h1M188 485.74h1M193 485.74h1M195 485.74h1M219 485.74h1M180 499.06h1M193 499.06h1M196 499.06h1M219 499.06h1M180 512.39h1M219 512.39h1" stroke="#ac1412"/>
<path d="M69 432.42h1M75 432.42h1M80 432.42h3M84 432.42h1M88 432.42h1M104 432.42h2M107 432.42h1M109 432.42h2M119 432.42h3M124 432.42h1" stroke="#e8ad98"/>
<path d="M71 432.42h4M76 432.42h1M85 432.42h2M90 432.42h1M95 432.42h1M97 432.42h2M100 432.42h1M103 432.42h1M111 432.42h2M115 432.42h1M117 432.42h1M123 432.42h1" stroke="#e7a895"/>
<path d="M93 432.42h2M99 432.42h1M106 432.42h1M114 432.42h1" stroke="#e7a493"/>
<path d="M96 432.42h1M110 579.05h1M114 579.05h1" stroke="#e69f8f"/>
<path d="M109 579.05h1M111 579.05h1M113 579.05h1M120 579.05h5M126 579.05h1M128 579.05h2M134 579.05h1M136 579.05h2" stroke="#e59a8d"/>
<path d="M80 565.72h1M84 565.72h1M86 565.72h1M120 565.72h1M125 565.72h1M133 565.72h2M107 579.05h1M112 579.05h1M115 579.05h3M125 579.05h1M127 579.05h1M130 579.05h1M132 579.05h1M139 579.05h1" stroke="#e5958a"/>
<path d="M55 565.72h1M59 565.72h1M62 565.72h1M64 565.72h1M69 565.72h1M71 565.72h1M73 565.72h1M76 565.72h1M81 565.72h1M92 565.72h1M98 565.72h1M103 565.72h1M108 565.72h1M114 565.72h1M118 565.72h1M121 565.72h1M124 565.72h1M126 565.72h1M128 565.72h1M130 565.72h2M140 565.72h2" stroke="#e49187"/>
<path d="M51 565.72h1M53 565.72h1M60 565.72h1M65 565.72h1M75 565.72h1M87 565.72h4M99 565.72h1M104 565.72h2M107 565.72h1M110 565.72h2M113 565.72h1M117 565.72h1M122 565.72h1M132 565.72h1M135 565.72h4M142 565.72h2" stroke="#e38d82"/>
<path d="M56 565.72h3M63 565.72h1M67 565.72h1M70 565.72h1M74 565.72h1M79 565.72h1M93 565.72h2M97 565.72h1M100 565.72h1M102 565.72h1M106 565.72h1M109 565.72h1M112 565.72h1M116 565.72h1M127 565.72h1M139 565.72h1" stroke="#e3887f"/>
<path d="M91 565.72h1" stroke="#e2847a"/>
</g>
<rect x="16" y="221" width="4.8" height="4.8" fill="#3cae48"/>
<rect x="20.8" y="221" width="30" height="4.8" fill="#f070e8"/>
<rect x="50.8" y="221" width="93" height="4.8" fill="#1438b0"/>
<rect x="143.8" y="221" width="18.3" height="4.8" fill="#c0137a"/>
<rect x="162.1" y="221" width="62.5" height="4.8" fill="#c8962a"/>
<rect x="224.6" y="221" width="3.7" height="4.8" fill="#78e8d8"/>
<text x="94.2" y="217.8" font-size="7.5" text-anchor="start" font-weight="normal">10:1</text>
<text x="232.6" y="225" font-size="7.8" font-weight="bold" style="fill:#000">Cell identity</text>
<text x="232.8" y="234.7" font-size="6.95" text-anchor="start" font-weight="normal">STMN1</text>
<text x="232.8" y="249.1" font-size="6.95" text-anchor="start" font-weight="normal">TUBB</text>
<text x="232.8" y="262.3" font-size="6.95" text-anchor="start" font-weight="normal">TUBA1B</text>
<text x="232.8" y="275.2" font-size="6.95" text-anchor="start" font-weight="normal">HIST1H4C</text>
<text x="232.8" y="288.1" font-size="6.95" text-anchor="start" font-weight="normal">HMGB2</text>
<text x="232.8" y="301.5" font-size="6.95" text-anchor="start" font-weight="normal">HSP90AB1</text>
<text x="232.8" y="315.4" font-size="6.95" text-anchor="start" font-weight="normal">PRDX1</text>
<text x="232.8" y="329" font-size="6.95" text-anchor="start" font-weight="normal">RAN</text>
<text x="232.8" y="341.9" font-size="6.95" text-anchor="start" font-weight="normal">ENO1</text>
<text x="232.8" y="355.4" font-size="6.95" text-anchor="start" font-weight="normal">IGLC3</text>
<text x="232.8" y="368.8" font-size="6.95" text-anchor="start" font-weight="normal">IGLC2</text>
<text x="232.8" y="382.3" font-size="6.95" text-anchor="start" font-weight="normal">KLF4</text>
<text x="232.8" y="395.2" font-size="6.95" text-anchor="start" font-weight="normal">IGHM</text>
<text x="232.8" y="409.2" font-size="6.95" text-anchor="start" font-weight="normal">CD74</text>
<text x="232.8" y="422.5" font-size="6.95" text-anchor="start" font-weight="normal">GZMK</text>
<text x="232.8" y="435.7" font-size="6.95" text-anchor="start" font-weight="normal">RGS1</text>
<text x="232.8" y="449" font-size="6.95" text-anchor="start" font-weight="normal">CD3D</text>
<text x="232.8" y="462" font-size="6.95" text-anchor="start" font-weight="normal">LAT</text>
<text x="232.8" y="476.5" font-size="6.95" text-anchor="start" font-weight="normal">XCL1</text>
<text x="232.8" y="489.8" font-size="6.95" text-anchor="start" font-weight="normal">IL32</text>
<text x="232.8" y="503.4" font-size="6.95" text-anchor="start" font-weight="normal">CD3E</text>
<text x="232.8" y="516.3" font-size="6.95" text-anchor="start" font-weight="normal">CCL5</text>
<text x="232.8" y="529.9" font-size="6.95" text-anchor="start" font-weight="normal">LYZ</text>
<text x="232.8" y="543.2" font-size="6.95" text-anchor="start" font-weight="normal">CST3</text>
<text x="232.8" y="556.1" font-size="6.95" text-anchor="start" font-weight="normal">CCL3</text>
<text x="232.8" y="569.7" font-size="6.95" text-anchor="start" font-weight="normal">NF&#954;BIA</text>
<text x="232.8" y="583" font-size="6.95" text-anchor="start" font-weight="normal">TYROBP</text>
<defs><linearGradient id="cb" x1="0" x2="1" y1="0" y2="0"><stop offset="0" stop-color="#fdf3e0"/><stop offset="0.1" stop-color="#fce2be"/><stop offset="0.3" stop-color="#fac492"/><stop offset="0.5" stop-color="#f39878"/><stop offset="0.6" stop-color="#f07d5e"/><stop offset="0.7" stop-color="#e5644c"/><stop offset="0.8" stop-color="#d44234"/><stop offset="0.9" stop-color="#be211b"/><stop offset="1" stop-color="#ac1412"/></linearGradient></defs>
<rect x="128.6" y="596.8" width="90.6" height="7.2" fill="url(#cb)"/>
<text x="131.5" y="594.4" font-size="7.2" text-anchor="middle" font-weight="normal">Min</text>
<text x="219.2" y="594.4" font-size="7.2" text-anchor="middle" font-weight="normal">Max</text>
<rect x="368.1" y="243.8" width="143" height="6.9" fill="#c8102e"/>
<path d="M364.1 247.2H367.5" stroke="#222" stroke-width="0.9"/>
<text x="360.6" y="249.9" font-size="7.5" text-anchor="end" font-weight="normal">Serum response</text>
<rect x="368.1" y="260.4" width="116.8" height="6.9" fill="#c8102e"/>
<path d="M364.1 263.8H367.5" stroke="#222" stroke-width="0.9"/>
<rect x="368.1" y="277.8" width="63.9" height="6.9" fill="#c8102e"/>
<path d="M364.1 281.2H367.5" stroke="#222" stroke-width="0.9"/>
<text x="360.6" y="283.9" font-size="7.7" text-anchor="end" font-weight="normal">Myc</text>
<rect x="368.1" y="294.6" width="58" height="6.9" fill="#c8102e"/>
<path d="M364.1 298H367.5" stroke="#222" stroke-width="0.9"/>
<text x="360.6" y="300.8" font-size="7.7" text-anchor="end" font-weight="normal">PGC-1&#945;</text>
<rect x="368.1" y="311.4" width="55.8" height="6.9" fill="#c8102e"/>
<path d="M364.1 314.8H367.5" stroke="#222" stroke-width="0.9"/>
<text x="360.6" y="317.6" font-size="7.7" text-anchor="end" font-weight="normal">NOTCH</text>
<rect x="368.1" y="328.4" width="44.9" height="6.9" fill="#c8102e"/>
<path d="M364.1 331.9H367.5" stroke="#222" stroke-width="0.9"/>
<text x="354.9" y="334.6" font-size="7.7" text-anchor="end" font-weight="normal">HIF1&#945;</text>
<path d="M358.2 328.8V334.5M356.2 332.2L358.2 334.8L360.2 332.2" stroke="#1c1c1c" stroke-width="0.75" fill="none"/>
<rect x="368.1" y="345.1" width="25.7" height="6.9" fill="#c8102e"/>
<path d="M364.1 348.5H367.5" stroke="#222" stroke-width="0.9"/>
<text x="360.6" y="351.2" font-size="7.7" text-anchor="end" font-weight="normal">B-cell receptor</text>
<text x="360.6" y="261.6" font-size="7.5" text-anchor="end" font-weight="normal">Nutrient</text>
<text x="354.9" y="271" font-size="7.5" text-anchor="end" font-weight="normal">deprivation</text>
<path d="M358.2 265.4V271.1M356.2 268.8L358.2 271.4L360.2 268.8" stroke="#1c1c1c" stroke-width="0.75" fill="none"/>
<path d="M367.5 236V359.8H518.5" stroke="#111" stroke-width="1.2" fill="none"/>
<path d="M367.5 359.8V362.6" stroke="#111" stroke-width="0.9"/>
<text x="367.5" y="371.8" font-size="7.2" text-anchor="middle" font-weight="normal">0</text>
<path d="M408.4 359.8V362.6" stroke="#111" stroke-width="0.9"/>
<text x="408.4" y="371.8" font-size="7.2" text-anchor="middle" font-weight="normal">5</text>
<path d="M449.2 359.8V362.6" stroke="#111" stroke-width="0.9"/>
<text x="449.2" y="371.8" font-size="7.2" text-anchor="middle" font-weight="normal">10</text>
<path d="M490.1 359.8V362.6" stroke="#111" stroke-width="0.9"/>
<text x="490.1" y="371.8" font-size="7.2" text-anchor="middle" font-weight="normal">15</text>
<text x="427.6" y="385.2" font-size="8.6" style="stroke-width:0.3px" textLength="31.2" lengthAdjust="spacingAndGlyphs">&#8211;Log<tspan font-size="5.4" dy="1.9">10</tspan><tspan dy="-1.9">FDR</tspan></text>
<text transform="translate(306.8 295.5) rotate(-90)" font-size="8.8" style="stroke-width:0.3px" text-anchor="middle" textLength="39" lengthAdjust="spacingAndGlyphs">Signature DB</text>
<path d="M341.2 447.2V553.3H410.2" stroke="#111" stroke-width="1.2" fill="none"/>
<path d="M338.2 553.3H341.2" stroke="#111" stroke-width="0.9"/>
<text x="336.2" y="556" font-size="7.5" text-anchor="end" font-weight="normal">0</text>
<path d="M338.2 532.8H341.2" stroke="#111" stroke-width="0.9"/>
<text x="336.2" y="535.5" font-size="7.5" text-anchor="end" font-weight="normal">1</text>
<path d="M338.2 512.4H341.2" stroke="#111" stroke-width="0.9"/>
<text x="336.2" y="515.1" font-size="7.5" text-anchor="end" font-weight="normal">2</text>
<path d="M338.2 491.9H341.2" stroke="#111" stroke-width="0.9"/>
<text x="336.2" y="494.6" font-size="7.5" text-anchor="end" font-weight="normal">3</text>
<path d="M338.2 471.5H341.2" stroke="#111" stroke-width="0.9"/>
<text x="336.2" y="474.2" font-size="7.5" text-anchor="end" font-weight="normal">4</text>
<path d="M338.2 451H341.2" stroke="#111" stroke-width="0.9"/>
<text x="336.2" y="453.7" font-size="7.5" text-anchor="end" font-weight="normal">5</text>
<path d="M361.5 553.3V556.3" stroke="#111" stroke-width="0.9"/>
<path d="M390.4 553.3V556.3" stroke="#111" stroke-width="0.9"/>
<text x="361.5" y="565.3" font-size="7.5" text-anchor="middle" font-weight="normal">LN</text>
<text x="390.4" y="565.3" font-size="7.5" text-anchor="middle" font-weight="normal">PB</text>
<path d="M361.5 471.2L390.4 499.9" stroke="#111" stroke-width="1.3"/>
<path d="M361.5 482.3L390.4 533.4" stroke="#111" stroke-width="1.3"/>
<path d="M361.5 497.9L390.4 507.3" stroke="#111" stroke-width="1.3"/>
<path d="M361.5 499.4L390.4 540.8" stroke="#111" stroke-width="1.3"/>
<path d="M361.5 511.3L390.4 529.2" stroke="#111" stroke-width="1.3"/>
<circle cx="361.5" cy="471.2" r="2.4" fill="#4cc0d4"/>
<circle cx="361.5" cy="482.3" r="2.4" fill="#4cc0d4"/>
<circle cx="361.5" cy="497.9" r="2.4" fill="#4cc0d4"/>
<circle cx="361.5" cy="499.4" r="2.4" fill="#4cc0d4"/>
<circle cx="361.5" cy="511.3" r="2.4" fill="#4cc0d4"/>
<circle cx="390.4" cy="499.9" r="2.4" fill="#d8706e"/>
<circle cx="390.4" cy="507.3" r="2.4" fill="#d8706e"/>
<circle cx="390.4" cy="529.2" r="2.4" fill="#d8706e"/>
<circle cx="390.4" cy="533.4" r="2.4" fill="#d8706e"/>
<circle cx="390.4" cy="540.8" r="2.4" fill="#d8706e"/>
<path d="M361.5 462.5V467.7M361.5 465.1H390.4M390.4 462.5V467.7" stroke="#222" stroke-width="1.4" fill="none"/>
<text x="375.9" y="459.6" font-size="7.1" letter-spacing="0.5" text-anchor="middle"><tspan font-style="italic">p</tspan> = 0.012</text>
<text transform="translate(325.9 500.6) rotate(-90)" font-size="8.8" style="stroke-width:0.25px" text-anchor="middle" textLength="53.7" lengthAdjust="spacingAndGlyphs">Activated CLL (%)</text>
<path d="M450.3 447.2V553.3H520" stroke="#111" stroke-width="1.2" fill="none"/>
<path d="M447.3 553.3H450.3" stroke="#111" stroke-width="0.9"/>
<text x="445.3" y="556" font-size="7.5" text-anchor="end" font-weight="normal">0.0</text>
<path d="M447.3 532.8H450.3" stroke="#111" stroke-width="0.9"/>
<text x="445.3" y="535.5" font-size="7.5" text-anchor="end" font-weight="normal">0.5</text>
<path d="M447.3 512.4H450.3" stroke="#111" stroke-width="0.9"/>
<text x="445.3" y="515.1" font-size="7.5" text-anchor="end" font-weight="normal">1.0</text>
<path d="M447.3 491.9H450.3" stroke="#111" stroke-width="0.9"/>
<text x="445.3" y="494.6" font-size="7.5" text-anchor="end" font-weight="normal">1.5</text>
<path d="M447.3 471.5H450.3" stroke="#111" stroke-width="0.9"/>
<text x="445.3" y="474.2" font-size="7.5" text-anchor="end" font-weight="normal">2.0</text>
<path d="M447.3 451H450.3" stroke="#111" stroke-width="0.9"/>
<text x="445.3" y="453.7" font-size="7.5" text-anchor="end" font-weight="normal">2.5</text>
<path d="M470.6 553.3V556.3" stroke="#111" stroke-width="0.9"/>
<path d="M499.5 553.3V556.3" stroke="#111" stroke-width="0.9"/>
<text x="470.6" y="565.3" font-size="7.5" text-anchor="middle" font-weight="normal">LN</text>
<text x="499.5" y="565.3" font-size="7.5" text-anchor="middle" font-weight="normal">PB</text>
<path d="M470.6 464.2L499.5 536.2" stroke="#111" stroke-width="1.3"/>
<path d="M470.6 504.4L499.5 539.2" stroke="#111" stroke-width="1.3"/>
<path d="M470.6 509.4L499.5 542.2" stroke="#111" stroke-width="1.3"/>
<path d="M470.6 518.1L499.5 545.4" stroke="#111" stroke-width="1.3"/>
<circle cx="470.6" cy="464.2" r="2.4" fill="#4cc0d4"/>
<circle cx="470.6" cy="504.4" r="2.4" fill="#4cc0d4"/>
<circle cx="470.6" cy="509.4" r="2.4" fill="#4cc0d4"/>
<circle cx="470.6" cy="518.1" r="2.4" fill="#4cc0d4"/>
<circle cx="499.5" cy="536.2" r="2.4" fill="#d8706e"/>
<circle cx="499.5" cy="539.2" r="2.4" fill="#d8706e"/>
<circle cx="499.5" cy="542.2" r="2.4" fill="#d8706e"/>
<circle cx="499.5" cy="545.4" r="2.4" fill="#d8706e"/>
<path d="M470.6 454.7V459.9M470.6 457.3H499.5M499.5 454.7V459.9" stroke="#222" stroke-width="1.4" fill="none"/>
<text x="485.1" y="450.7" font-size="7.1" letter-spacing="0.5" text-anchor="middle"><tspan font-style="italic">p</tspan> = 0.013</text>
<text transform="translate(427.9 500.6) rotate(-90)" font-size="8.8" style="stroke-width:0.25px" text-anchor="middle" textLength="61.7" lengthAdjust="spacingAndGlyphs">Proliferating CLL (%)</text>
</svg></body></html>
